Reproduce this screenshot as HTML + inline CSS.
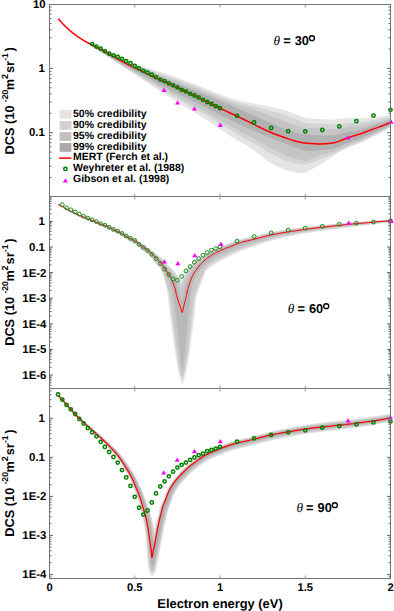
<!DOCTYPE html>
<html><head><meta charset="utf-8"><style>html,body{margin:0;padding:0;background:#fff;}svg{display:block;}text{text-rendering:geometricPrecision;}</style></head><body>
<svg width="394" height="611" viewBox="0 0 394 611">
<rect width="394" height="611" fill="#fff"/>
<defs>
<clipPath id="c1"><rect x="49.5" y="4.5" width="341.0" height="192.0"/></clipPath>
<clipPath id="c2"><rect x="49.5" y="196.5" width="341.0" height="192.0"/></clipPath>
<clipPath id="c3"><rect x="49.5" y="388.5" width="341.0" height="190.0"/></clipPath>
</defs>
<g clip-path="url(#c1)">
<polygon points="92.0,43.6 93.0,44.1 94.0,44.6 95.0,45.1 96.0,45.6 97.0,46.0 98.0,46.5 99.0,47.0 100.0,47.5 101.0,48.0 102.0,48.5 103.0,49.0 104.0,49.5 105.0,49.9 106.0,50.4 107.0,50.9 108.0,51.4 109.0,51.9 110.0,52.4 111.0,52.9 112.0,53.4 113.0,53.9 114.0,54.4 115.0,54.9 116.0,55.4 117.0,55.9 118.0,56.4 119.0,56.9 120.0,57.4 121.0,57.9 121.9,58.3 122.9,58.8 123.9,59.3 124.9,59.8 125.9,60.3 126.9,60.7 127.9,61.2 128.9,61.6 129.9,62.1 130.9,62.4 131.9,62.8 132.9,63.1 133.9,63.4 134.9,63.7 135.9,64.0 136.9,64.4 137.9,64.7 138.9,65.0 139.9,65.3 140.9,65.7 141.9,66.0 142.9,66.4 143.9,66.7 144.9,67.1 145.9,67.4 146.9,67.7 147.9,68.1 148.9,68.4 149.9,68.8 150.9,69.1 151.9,69.4 152.9,69.7 153.9,70.1 154.9,70.4 155.9,70.7 156.9,71.0 157.9,71.3 158.9,71.6 159.9,71.9 160.9,72.2 161.9,72.5 162.9,72.9 163.9,73.2 164.9,73.5 165.9,73.8 166.9,74.1 167.9,74.4 168.9,74.7 169.9,75.0 170.9,75.4 171.9,75.7 172.9,76.1 173.9,76.5 174.9,76.8 175.9,77.2 176.9,77.6 177.9,77.9 178.9,78.3 179.9,78.7 180.9,79.0 181.8,79.4 182.8,79.8 183.8,80.1 184.8,80.5 185.8,80.9 186.8,81.3 187.8,81.6 188.8,82.0 189.8,82.4 190.8,82.8 191.8,83.1 192.8,83.5 193.8,83.9 194.8,84.3 195.8,84.6 196.8,85.0 197.8,85.4 198.8,85.8 199.8,86.2 200.8,86.6 201.8,87.0 202.8,87.4 203.8,87.8 204.8,88.2 205.8,88.6 206.8,89.0 207.8,89.4 208.8,89.8 209.8,90.2 210.8,90.6 211.8,91.0 212.8,91.4 213.8,91.8 214.8,92.2 215.8,92.6 216.8,93.0 217.8,93.4 218.8,93.8 219.8,94.2 220.8,94.6 221.8,94.9 222.8,95.3 223.8,95.7 224.8,96.0 225.8,96.4 226.8,96.7 227.8,97.1 228.8,97.5 229.8,97.8 230.8,98.1 231.8,98.4 232.8,98.6 233.8,98.9 234.8,99.2 235.8,99.4 236.8,99.7 237.8,99.9 238.8,100.2 239.8,100.4 240.8,100.7 241.7,100.9 242.7,101.2 243.7,101.4 244.7,101.6 245.7,101.8 246.7,102.1 247.7,102.3 248.7,102.5 249.7,102.8 250.7,102.9 251.7,103.1 252.7,103.3 253.7,103.4 254.7,103.6 255.7,103.8 256.7,104.0 257.7,104.2 258.7,104.4 259.7,104.6 260.7,104.8 261.7,105.0 262.7,105.2 263.7,105.4 264.7,105.6 265.7,105.8 266.7,106.0 267.7,106.1 268.7,106.3 269.7,106.5 270.7,106.7 271.7,107.0 272.7,107.2 273.7,107.5 274.7,107.7 275.7,108.0 276.7,108.2 277.7,108.5 278.7,108.7 279.7,108.9 280.7,109.1 281.7,109.4 282.7,109.6 283.7,109.8 284.7,110.0 285.7,110.4 286.7,110.8 287.7,111.2 288.7,111.6 289.7,112.0 290.7,112.4 291.7,112.7 292.7,113.1 293.7,113.5 294.7,113.9 295.7,114.2 296.7,114.6 297.7,115.1 298.7,115.5 299.7,115.9 300.7,116.3 301.6,116.7 302.6,117.0 303.6,117.3 304.6,117.6 305.6,117.9 306.6,118.1 307.6,118.2 308.6,118.3 309.6,118.4 310.6,118.5 311.6,118.5 312.6,118.6 313.6,118.7 314.6,118.7 315.6,118.8 316.6,118.8 317.6,118.9 318.6,118.9 319.6,118.9 320.6,119.0 321.6,119.1 322.6,119.2 323.6,119.3 324.6,119.4 325.6,119.4 326.6,119.5 327.6,119.5 328.6,119.6 329.6,119.6 330.6,119.6 331.6,119.6 332.6,119.5 333.6,119.5 334.6,119.4 335.6,119.3 336.6,119.1 337.6,119.0 338.6,118.9 339.6,118.8 340.6,118.8 341.6,118.7 342.6,118.6 343.6,118.5 344.6,118.4 345.6,118.3 346.6,118.2 347.6,118.2 348.6,118.2 349.6,118.2 350.6,118.2 351.6,118.2 352.6,118.2 353.6,118.3 354.6,118.3 355.6,118.4 356.6,118.4 357.6,118.4 358.6,118.4 359.6,118.4 360.6,118.3 361.5,118.3 362.5,118.2 363.5,118.1 364.5,118.0 365.5,118.0 366.5,117.9 367.5,117.8 368.5,117.7 369.5,117.6 370.5,117.5 371.5,117.4 372.5,117.3 373.5,117.2 374.5,117.2 375.5,117.1 376.5,117.0 377.5,116.9 378.5,116.8 379.5,116.7 380.5,116.6 381.5,116.4 382.5,116.3 383.5,116.1 384.5,116.0 385.5,115.8 386.5,115.7 387.5,115.5 388.5,115.3 389.5,115.2 390.5,115.0 390.5,127.5 389.5,128.1 388.5,128.6 387.5,129.2 386.5,129.8 385.5,130.3 384.5,130.9 383.5,131.5 382.5,132.0 381.5,132.6 380.5,133.1 379.5,133.7 378.5,134.2 377.5,134.7 376.5,135.2 375.5,135.7 374.5,136.1 373.5,136.6 372.5,137.1 371.5,137.5 370.5,138.0 369.5,138.5 368.5,139.0 367.5,139.5 366.5,139.9 365.5,140.4 364.5,140.9 363.5,141.4 362.5,141.8 361.5,142.3 360.6,142.8 359.6,143.2 358.6,143.6 357.6,144.0 356.6,144.4 355.6,144.8 354.6,145.2 353.6,145.5 352.6,145.9 351.6,146.3 350.6,146.7 349.6,147.1 348.6,147.5 347.6,147.9 346.6,148.4 345.6,148.9 344.6,149.4 343.6,149.9 342.6,150.4 341.6,151.0 340.6,151.5 339.6,152.0 338.6,152.4 337.6,153.0 336.6,153.8 335.6,154.6 334.6,155.4 333.6,156.1 332.6,156.8 331.6,157.5 330.6,158.1 329.6,158.8 328.6,159.4 327.6,160.0 326.6,160.6 325.6,161.2 324.6,161.8 323.6,162.4 322.6,162.9 321.6,163.4 320.6,164.0 319.6,164.5 318.6,165.2 317.6,165.8 316.6,166.4 315.6,167.0 314.6,167.6 313.6,168.2 312.6,168.8 311.6,169.4 310.6,170.0 309.6,170.5 308.6,171.1 307.6,171.6 306.6,172.2 305.6,172.6 304.6,172.7 303.6,172.8 302.6,172.8 301.6,172.9 300.7,172.9 299.7,173.0 298.7,173.0 297.7,172.9 296.7,172.9 295.7,172.8 294.7,172.5 293.7,172.2 292.7,172.0 291.7,171.7 290.7,171.4 289.7,171.1 288.7,170.8 287.7,170.5 286.7,170.2 285.7,169.9 284.7,169.6 283.7,169.1 282.7,168.7 281.7,168.2 280.7,167.8 279.7,167.3 278.7,166.9 277.7,166.4 276.7,165.9 275.7,165.5 274.7,165.0 273.7,164.5 272.7,164.1 271.7,163.6 270.7,163.1 269.7,162.5 268.7,161.8 267.7,161.0 266.7,160.2 265.7,159.5 264.7,158.7 263.7,157.9 262.7,157.1 261.7,156.3 260.7,155.5 259.7,154.7 258.7,154.0 257.7,153.2 256.7,152.4 255.7,151.6 254.7,150.9 253.7,150.1 252.7,149.4 251.7,148.6 250.7,147.9 249.7,147.2 248.7,146.6 247.7,146.1 246.7,145.5 245.7,145.0 244.7,144.4 243.7,143.8 242.7,143.3 241.7,142.7 240.8,142.2 239.8,141.6 238.8,141.0 237.8,140.5 236.8,139.9 235.8,139.3 234.8,138.7 233.8,138.1 232.8,137.5 231.8,136.9 230.8,136.4 229.8,135.7 228.8,135.1 227.8,134.4 226.8,133.8 225.8,133.1 224.8,132.5 223.8,131.8 222.8,131.1 221.8,130.5 220.8,129.8 219.8,129.1 218.8,128.4 217.8,127.7 216.8,127.0 215.8,126.4 214.8,125.6 213.8,124.9 212.8,124.2 211.8,123.5 210.8,122.8 209.8,122.1 208.8,121.5 207.8,120.8 206.8,120.2 205.8,119.6 204.8,118.9 203.8,118.3 202.8,117.7 201.8,117.1 200.8,116.4 199.8,115.8 198.8,115.2 197.8,114.6 196.8,113.9 195.8,113.3 194.8,112.7 193.8,112.1 192.8,111.5 191.8,110.9 190.8,110.3 189.8,109.6 188.8,109.0 187.8,108.4 186.8,107.8 185.8,107.2 184.8,106.6 183.8,106.0 182.8,105.4 181.8,104.8 180.9,104.2 179.9,103.6 178.9,103.0 177.9,102.4 176.9,101.8 175.9,101.2 174.9,100.6 173.9,100.0 172.9,99.4 171.9,98.8 170.9,98.2 169.9,97.6 168.9,96.9 167.9,96.3 166.9,95.6 165.9,95.0 164.9,94.4 163.9,93.7 162.9,93.1 161.9,92.4 160.9,91.8 159.9,91.1 158.9,90.5 157.9,89.8 156.9,89.2 155.9,88.6 154.9,87.9 153.9,87.3 152.9,86.6 151.9,86.0 150.9,85.3 149.9,84.6 148.9,84.0 147.9,83.3 146.9,82.6 145.9,81.9 144.9,81.2 143.9,80.6 142.9,79.9 141.9,79.2 140.9,78.5 139.9,77.8 138.9,77.2 137.9,76.5 136.9,75.9 135.9,75.2 134.9,74.6 133.9,73.9 132.9,73.3 131.9,72.6 130.9,71.9 129.9,71.3 128.9,70.7 127.9,70.1 126.9,69.4 125.9,68.8 124.9,68.2 123.9,67.6 122.9,67.0 121.9,66.3 121.0,65.7 120.0,65.0 119.0,64.4 118.0,63.8 117.0,63.1 116.0,62.5 115.0,61.8 114.0,61.1 113.0,60.5 112.0,59.8 111.0,59.2 110.0,58.5 109.0,57.9 108.0,57.2 107.0,56.6 106.0,56.0 105.0,55.3 104.0,54.7 103.0,54.0 102.0,53.4 101.0,52.8 100.0,52.1 99.0,51.5 98.0,50.8 97.0,50.2 96.0,49.6 95.0,48.9 94.0,48.3 93.0,47.7 92.0,47.0" fill="#e5e5e5"/>
<polygon points="92.0,43.8 93.0,44.3 94.0,44.8 95.0,45.3 96.0,45.8 97.0,46.3 98.0,46.8 99.0,47.3 100.0,47.8 101.0,48.3 102.0,48.8 103.0,49.3 104.0,49.8 105.0,50.3 106.0,50.8 107.0,51.3 108.0,51.8 109.0,52.3 110.0,52.8 111.0,53.3 112.0,53.9 113.0,54.4 114.0,54.9 115.0,55.4 116.0,55.9 117.0,56.4 118.0,56.9 119.0,57.4 120.0,58.0 121.0,58.4 121.9,58.9 122.9,59.4 123.9,59.9 124.9,60.4 125.9,60.9 126.9,61.4 127.9,61.8 128.9,62.3 129.9,62.8 130.9,63.1 131.9,63.5 132.9,63.9 133.9,64.2 134.9,64.6 135.9,64.9 136.9,65.2 137.9,65.6 138.9,65.9 139.9,66.3 140.9,66.7 141.9,67.0 142.9,67.4 143.9,67.8 144.9,68.2 145.9,68.5 146.9,68.9 147.9,69.3 148.9,69.7 149.9,70.0 150.9,70.4 151.9,70.7 152.9,71.1 153.9,71.4 154.9,71.8 155.9,72.1 156.9,72.4 157.9,72.8 158.9,73.1 159.9,73.4 160.9,73.8 161.9,74.1 162.9,74.5 163.9,74.8 164.9,75.1 165.9,75.5 166.9,75.8 167.9,76.1 168.9,76.5 169.9,76.8 170.9,77.2 171.9,77.6 172.9,77.9 173.9,78.3 174.9,78.7 175.9,79.0 176.9,79.4 177.9,79.8 178.9,80.1 179.9,80.5 180.9,80.9 181.8,81.3 182.8,81.6 183.8,82.0 184.8,82.4 185.8,82.8 186.8,83.1 187.8,83.5 188.8,83.9 189.8,84.3 190.8,84.7 191.8,85.0 192.8,85.4 193.8,85.8 194.8,86.2 195.8,86.6 196.8,87.0 197.8,87.4 198.8,87.7 199.8,88.1 200.8,88.5 201.8,88.9 202.8,89.3 203.8,89.7 204.8,90.1 205.8,90.5 206.8,90.9 207.8,91.3 208.8,91.8 209.8,92.2 210.8,92.6 211.8,93.0 212.8,93.4 213.8,93.8 214.8,94.2 215.8,94.6 216.8,95.0 217.8,95.4 218.8,95.8 219.8,96.2 220.8,96.6 221.8,96.9 222.8,97.3 223.8,97.7 224.8,98.0 225.8,98.4 226.8,98.7 227.8,99.1 228.8,99.5 229.8,99.8 230.8,100.1 231.8,100.4 232.8,100.7 233.8,101.0 234.8,101.3 235.8,101.6 236.8,101.9 237.8,102.1 238.8,102.4 239.8,102.7 240.8,102.9 241.7,103.2 242.7,103.5 243.7,103.7 244.7,104.0 245.7,104.2 246.7,104.5 247.7,104.7 248.7,105.0 249.7,105.3 250.7,105.5 251.7,105.7 252.7,106.0 253.7,106.2 254.7,106.5 255.7,106.8 256.7,107.0 257.7,107.3 258.7,107.6 259.7,107.8 260.7,108.1 261.7,108.4 262.7,108.7 263.7,109.0 264.7,109.2 265.7,109.5 266.7,109.8 267.7,110.1 268.7,110.3 269.7,110.6 270.7,110.9 271.7,111.2 272.7,111.4 273.7,111.7 274.7,112.0 275.7,112.3 276.7,112.5 277.7,112.8 278.7,113.1 279.7,113.3 280.7,113.6 281.7,113.9 282.7,114.1 283.7,114.4 284.7,114.6 285.7,115.0 286.7,115.4 287.7,115.9 288.7,116.3 289.7,116.7 290.7,117.2 291.7,117.6 292.7,118.0 293.7,118.4 294.7,118.8 295.7,119.2 296.7,119.7 297.7,120.1 298.7,120.6 299.7,121.0 300.7,121.4 301.6,121.8 302.6,122.1 303.6,122.5 304.6,122.8 305.6,123.1 306.6,123.3 307.6,123.3 308.6,123.4 309.6,123.4 310.6,123.5 311.6,123.5 312.6,123.5 313.6,123.5 314.6,123.6 315.6,123.6 316.6,123.6 317.6,123.6 318.6,123.5 319.6,123.5 320.6,123.6 321.6,123.7 322.6,123.9 323.6,124.0 324.6,124.1 325.6,124.2 326.6,124.2 327.6,124.3 328.6,124.4 329.6,124.4 330.6,124.4 331.6,124.4 332.6,124.4 333.6,124.4 334.6,124.3 335.6,124.2 336.6,124.1 337.6,124.0 338.6,123.9 339.6,123.8 340.6,123.7 341.6,123.6 342.6,123.5 343.6,123.4 344.6,123.3 345.6,123.2 346.6,123.1 347.6,123.0 348.6,123.0 349.6,123.0 350.6,123.0 351.6,123.0 352.6,123.0 353.6,123.0 354.6,123.1 355.6,123.1 356.6,123.1 357.6,123.1 358.6,122.9 359.6,122.8 360.6,122.6 361.5,122.5 362.5,122.3 363.5,122.1 364.5,121.9 365.5,121.7 366.5,121.5 367.5,121.2 368.5,121.0 369.5,120.8 370.5,120.6 371.5,120.4 372.5,120.2 373.5,120.0 374.5,119.8 375.5,119.7 376.5,119.5 377.5,119.4 378.5,119.2 379.5,119.1 380.5,118.9 381.5,118.7 382.5,118.6 383.5,118.4 384.5,118.2 385.5,118.0 386.5,117.8 387.5,117.6 388.5,117.4 389.5,117.2 390.5,117.0 390.5,126.8 389.5,127.4 388.5,127.9 387.5,128.5 386.5,129.0 385.5,129.6 384.5,130.1 383.5,130.7 382.5,131.2 381.5,131.8 380.5,132.3 379.5,132.8 378.5,133.3 377.5,133.8 376.5,134.3 375.5,134.8 374.5,135.2 373.5,135.7 372.5,136.1 371.5,136.6 370.5,137.0 369.5,137.5 368.5,138.0 367.5,138.5 366.5,138.9 365.5,139.4 364.5,139.9 363.5,140.3 362.5,140.8 361.5,141.3 360.6,141.7 359.6,142.1 358.6,142.5 357.6,142.9 356.6,143.3 355.6,143.7 354.6,144.0 353.6,144.4 352.6,144.8 351.6,145.1 350.6,145.5 349.6,145.9 348.6,146.3 347.6,146.7 346.6,147.2 345.6,147.7 344.6,148.2 343.6,148.7 342.6,149.2 341.6,149.7 340.6,150.2 339.6,150.7 338.6,151.1 337.6,151.6 336.6,152.3 335.6,152.8 334.6,153.4 333.6,153.9 332.6,154.4 331.6,154.9 330.6,155.3 329.6,155.8 328.6,156.2 327.6,156.6 326.6,157.0 325.6,157.4 324.6,157.8 323.6,158.1 322.6,158.5 321.6,158.8 320.6,159.1 319.6,159.4 318.6,159.9 317.6,160.3 316.6,160.7 315.6,161.1 314.6,161.4 313.6,161.8 312.6,162.2 311.6,162.5 310.6,162.9 309.6,163.2 308.6,163.6 307.6,163.9 306.6,164.2 305.6,164.4 304.6,164.4 303.6,164.3 302.6,164.3 301.6,164.2 300.7,164.1 299.7,164.0 298.7,163.8 297.7,163.7 296.7,163.5 295.7,163.3 294.7,163.0 293.7,162.8 292.7,162.6 291.7,162.3 290.7,162.0 289.7,161.8 288.7,161.5 287.7,161.2 286.7,161.0 285.7,160.7 284.7,160.4 283.7,159.9 282.7,159.4 281.7,158.9 280.7,158.5 279.7,158.0 278.7,157.5 277.7,157.0 276.7,156.5 275.7,156.0 274.7,155.5 273.7,155.0 272.7,154.5 271.7,154.0 270.7,153.5 269.7,153.0 268.7,152.4 267.7,151.8 266.7,151.2 265.7,150.6 264.7,150.0 263.7,149.4 262.7,148.8 261.7,148.2 260.7,147.6 259.7,147.0 258.7,146.4 257.7,145.8 256.7,145.2 255.7,144.6 254.7,144.0 253.7,143.4 252.7,142.9 251.7,142.3 250.7,141.7 249.7,141.2 248.7,140.6 247.7,140.1 246.7,139.5 245.7,139.0 244.7,138.4 243.7,137.8 242.7,137.3 241.7,136.7 240.8,136.2 239.8,135.6 238.8,135.0 237.8,134.5 236.8,133.9 235.8,133.3 234.8,132.7 233.8,132.1 232.8,131.5 231.8,130.9 230.8,130.4 229.8,129.8 228.8,129.2 227.8,128.5 226.8,127.9 225.8,127.3 224.8,126.7 223.8,126.1 222.8,125.5 221.8,124.9 220.8,124.3 219.8,123.6 218.8,123.0 217.8,122.4 216.8,121.7 215.8,121.1 214.8,120.4 213.8,119.7 212.8,119.1 211.8,118.4 210.8,117.8 209.8,117.1 208.8,116.5 207.8,116.0 206.8,115.4 205.8,114.8 204.8,114.2 203.8,113.7 202.8,113.1 201.8,112.5 200.8,111.9 199.8,111.4 198.8,110.8 197.8,110.2 196.8,109.7 195.8,109.1 194.8,108.5 193.8,108.0 192.8,107.4 191.8,106.9 190.8,106.3 189.8,105.8 188.8,105.2 187.8,104.6 186.8,104.1 185.8,103.5 184.8,103.0 183.8,102.4 182.8,101.9 181.8,101.3 180.9,100.8 179.9,100.2 178.9,99.7 177.9,99.2 176.9,98.6 175.9,98.1 174.9,97.5 173.9,97.0 172.9,96.4 171.9,95.9 170.9,95.3 169.9,94.8 168.9,94.2 167.9,93.6 166.9,93.0 165.9,92.4 164.9,91.8 163.9,91.2 162.9,90.6 161.9,90.0 160.9,89.4 159.9,88.8 158.9,88.2 157.9,87.6 156.9,87.0 155.9,86.4 154.9,85.8 153.9,85.2 152.9,84.6 151.9,84.0 150.9,83.4 149.9,82.8 148.9,82.2 147.9,81.5 146.9,80.9 145.9,80.3 144.9,79.6 143.9,79.0 142.9,78.4 141.9,77.7 140.9,77.1 139.9,76.5 138.9,75.9 137.9,75.3 136.9,74.6 135.9,74.0 134.9,73.4 133.9,72.8 132.9,72.2 131.9,71.6 130.9,71.0 129.9,70.4 128.9,69.8 127.9,69.2 126.9,68.6 125.9,68.0 124.9,67.4 123.9,66.7 122.9,66.1 121.9,65.5 121.0,64.9 120.0,64.2 119.0,63.6 118.0,63.0 117.0,62.3 116.0,61.7 115.0,61.0 114.0,60.4 113.0,59.7 112.0,59.1 111.0,58.4 110.0,57.8 109.0,57.2 108.0,56.5 107.0,55.9 106.0,55.3 105.0,54.6 104.0,54.0 103.0,53.4 102.0,52.7 101.0,52.1 100.0,51.5 99.0,50.8 98.0,50.2 97.0,49.6 96.0,48.9 95.0,48.3 94.0,47.7 93.0,47.0 92.0,46.4" fill="#d4d4d4"/>
<polygon points="92.0,44.0 93.0,44.5 94.0,45.0 95.0,45.5 96.0,46.1 97.0,46.6 98.0,47.1 99.0,47.6 100.0,48.1 101.0,48.6 102.0,49.1 103.0,49.6 104.0,50.1 105.0,50.7 106.0,51.2 107.0,51.7 108.0,52.2 109.0,52.7 110.0,53.2 111.0,53.7 112.0,54.3 113.0,54.8 114.0,55.3 115.0,55.8 116.0,56.4 117.0,56.9 118.0,57.4 119.0,57.9 120.0,58.4 121.0,59.0 121.9,59.5 122.9,60.0 123.9,60.5 124.9,61.0 125.9,61.5 126.9,61.9 127.9,62.4 128.9,62.9 129.9,63.4 130.9,63.8 131.9,64.2 132.9,64.6 133.9,65.0 134.9,65.3 135.9,65.7 136.9,66.1 137.9,66.5 138.9,66.9 139.9,67.2 140.9,67.6 141.9,68.0 142.9,68.5 143.9,68.9 144.9,69.3 145.9,69.7 146.9,70.1 147.9,70.5 148.9,70.9 149.9,71.3 150.9,71.7 151.9,72.1 152.9,72.5 153.9,72.8 154.9,73.2 155.9,73.6 156.9,74.0 157.9,74.3 158.9,74.7 159.9,75.1 160.9,75.5 161.9,75.8 162.9,76.2 163.9,76.6 164.9,77.0 165.9,77.3 166.9,77.7 167.9,78.1 168.9,78.4 169.9,78.8 170.9,79.2 171.9,79.6 172.9,79.9 173.9,80.3 174.9,80.7 175.9,81.0 176.9,81.4 177.9,81.8 178.9,82.1 179.9,82.5 180.9,82.9 181.8,83.3 182.8,83.6 183.8,84.0 184.8,84.4 185.8,84.8 186.8,85.1 187.8,85.5 188.8,85.9 189.8,86.3 190.8,86.7 191.8,87.0 192.8,87.4 193.8,87.8 194.8,88.2 195.8,88.6 196.8,89.0 197.8,89.4 198.8,89.7 199.8,90.1 200.8,90.5 201.8,90.9 202.8,91.3 203.8,91.7 204.8,92.1 205.8,92.5 206.8,92.9 207.8,93.3 208.8,93.8 209.8,94.2 210.8,94.6 211.8,95.0 212.8,95.5 213.8,95.9 214.8,96.3 215.8,96.8 216.8,97.2 217.8,97.6 218.8,98.0 219.8,98.4 220.8,98.8 221.8,99.2 222.8,99.6 223.8,100.0 224.8,100.4 225.8,100.8 226.8,101.2 227.8,101.5 228.8,101.9 229.8,102.3 230.8,102.6 231.8,103.0 232.8,103.3 233.8,103.6 234.8,103.9 235.8,104.2 236.8,104.5 237.8,104.8 238.8,105.1 239.8,105.4 240.8,105.7 241.7,106.0 242.7,106.3 243.7,106.6 244.7,106.8 245.7,107.1 246.7,107.4 247.7,107.7 248.7,108.0 249.7,108.3 250.7,108.6 251.7,108.9 252.7,109.3 253.7,109.6 254.7,110.0 255.7,110.3 256.7,110.7 257.7,111.1 258.7,111.4 259.7,111.8 260.7,112.2 261.7,112.6 262.7,113.0 263.7,113.3 264.7,113.7 265.7,114.1 266.7,114.5 267.7,114.8 268.7,115.2 269.7,115.6 270.7,115.9 271.7,116.3 272.7,116.7 273.7,117.1 274.7,117.5 275.7,117.9 276.7,118.3 277.7,118.6 278.7,119.0 279.7,119.4 280.7,119.7 281.7,120.1 282.7,120.5 283.7,120.8 284.7,121.2 285.7,121.6 286.7,121.9 287.7,122.3 288.7,122.7 289.7,123.1 290.7,123.5 291.7,123.8 292.7,124.2 293.7,124.6 294.7,124.9 295.7,125.2 296.7,125.6 297.7,125.9 298.7,126.2 299.7,126.5 300.7,126.7 301.6,127.0 302.6,127.2 303.6,127.4 304.6,127.6 305.6,127.8 306.6,127.9 307.6,127.9 308.6,128.0 309.6,128.0 310.6,128.1 311.6,128.1 312.6,128.1 313.6,128.1 314.6,128.2 315.6,128.2 316.6,128.2 317.6,128.2 318.6,128.1 319.6,128.1 320.6,128.2 321.6,128.4 322.6,128.5 323.6,128.7 324.6,128.8 325.6,128.9 326.6,129.0 327.6,129.1 328.6,129.2 329.6,129.2 330.6,129.2 331.6,129.3 332.6,129.3 333.6,129.3 334.6,129.2 335.6,129.2 336.6,129.1 337.6,129.0 338.6,128.8 339.6,128.6 340.6,128.4 341.6,128.2 342.6,128.0 343.6,127.8 344.6,127.6 345.6,127.4 346.6,127.2 347.6,127.0 348.6,126.9 349.6,126.8 350.6,126.7 351.6,126.6 352.6,126.5 353.6,126.4 354.6,126.3 355.6,126.2 356.6,126.2 357.6,126.0 358.6,125.9 359.6,125.7 360.6,125.5 361.5,125.3 362.5,125.1 363.5,124.9 364.5,124.7 365.5,124.4 366.5,124.2 367.5,124.0 368.5,123.7 369.5,123.5 370.5,123.2 371.5,123.0 372.5,122.8 373.5,122.6 374.5,122.4 375.5,122.2 376.5,122.0 377.5,121.8 378.5,121.6 379.5,121.3 380.5,121.1 381.5,120.9 382.5,120.6 383.5,120.4 384.5,120.1 385.5,119.8 386.5,119.6 387.5,119.3 388.5,119.0 389.5,118.8 390.5,118.5 390.5,126.0 389.5,126.5 388.5,127.1 387.5,127.6 386.5,128.2 385.5,128.7 384.5,129.3 383.5,129.8 382.5,130.3 381.5,130.8 380.5,131.4 379.5,131.9 378.5,132.4 377.5,132.8 376.5,133.3 375.5,133.8 374.5,134.2 373.5,134.6 372.5,135.1 371.5,135.5 370.5,136.0 369.5,136.4 368.5,136.9 367.5,137.4 366.5,137.8 365.5,138.3 364.5,138.8 363.5,139.2 362.5,139.7 361.5,140.1 360.6,140.5 359.6,140.9 358.6,141.3 357.6,141.7 356.6,142.1 355.6,142.4 354.6,142.8 353.6,143.1 352.6,143.5 351.6,143.9 350.6,144.2 349.6,144.6 348.6,145.0 347.6,145.4 346.6,145.8 345.6,146.3 344.6,146.8 343.6,147.3 342.6,147.8 341.6,148.2 340.6,148.7 339.6,149.2 338.6,149.6 337.6,150.1 336.6,150.5 335.6,150.9 334.6,151.3 333.6,151.7 332.6,152.0 331.6,152.3 330.6,152.6 329.6,152.9 328.6,153.2 327.6,153.4 326.6,153.7 325.6,153.9 324.6,154.1 323.6,154.3 322.6,154.5 321.6,154.6 320.6,154.8 319.6,155.1 318.6,155.6 317.6,156.0 316.6,156.5 315.6,157.0 314.6,157.4 313.6,157.9 312.6,158.3 311.6,158.7 310.6,159.2 309.6,159.6 308.6,160.0 307.6,160.4 306.6,160.8 305.6,161.0 304.6,160.8 303.6,160.7 302.6,160.5 301.6,160.3 300.7,160.1 299.7,159.9 298.7,159.6 297.7,159.3 296.7,159.0 295.7,158.8 294.7,158.5 293.7,158.2 292.7,157.8 291.7,157.5 290.7,157.2 289.7,156.9 288.7,156.5 287.7,156.2 286.7,155.9 285.7,155.5 284.7,155.1 283.7,154.7 282.7,154.2 281.7,153.7 280.7,153.2 279.7,152.7 278.7,152.2 277.7,151.7 276.7,151.2 275.7,150.6 274.7,150.1 273.7,149.6 272.7,149.1 271.7,148.6 270.7,148.0 269.7,147.5 268.7,147.0 267.7,146.4 266.7,145.9 265.7,145.3 264.7,144.8 263.7,144.2 262.7,143.7 261.7,143.1 260.7,142.6 259.7,142.0 258.7,141.5 257.7,140.9 256.7,140.4 255.7,139.8 254.7,139.3 253.7,138.8 252.7,138.2 251.7,137.7 250.7,137.2 249.7,136.7 248.7,136.2 247.7,135.6 246.7,135.1 245.7,134.6 244.7,134.0 243.7,133.5 242.7,133.0 241.7,132.4 240.8,131.9 239.8,131.4 238.8,130.8 237.8,130.3 236.8,129.7 235.8,129.2 234.8,128.6 233.8,128.0 232.8,127.5 231.8,126.9 230.8,126.3 229.8,125.8 228.8,125.2 227.8,124.7 226.8,124.1 225.8,123.5 224.8,123.0 223.8,122.4 222.8,121.9 221.8,121.3 220.8,120.7 219.8,120.1 218.8,119.6 217.8,119.0 216.8,118.4 215.8,117.8 214.8,117.2 213.8,116.6 212.8,116.0 211.8,115.3 210.8,114.7 209.8,114.1 208.8,113.6 207.8,113.0 206.8,112.4 205.8,111.9 204.8,111.3 203.8,110.7 202.8,110.2 201.8,109.6 200.8,109.0 199.8,108.5 198.8,107.9 197.8,107.4 196.8,106.8 195.8,106.3 194.8,105.7 193.8,105.2 192.8,104.6 191.8,104.1 190.8,103.5 189.8,103.0 188.8,102.5 187.8,101.9 186.8,101.4 185.8,100.8 184.8,100.3 183.8,99.8 182.8,99.2 181.8,98.7 180.9,98.2 179.9,97.6 178.9,97.1 177.9,96.6 176.9,96.0 175.9,95.5 174.9,95.0 173.9,94.4 172.9,93.9 171.9,93.4 170.9,92.8 169.9,92.3 168.9,91.7 167.9,91.2 166.9,90.6 165.9,90.1 164.9,89.5 163.9,88.9 162.9,88.4 161.9,87.8 160.9,87.3 159.9,86.7 158.9,86.1 157.9,85.6 156.9,85.0 155.9,84.5 154.9,83.9 153.9,83.3 152.9,82.8 151.9,82.2 150.9,81.6 149.9,81.0 148.9,80.5 147.9,79.9 146.9,79.3 145.9,78.7 144.9,78.1 143.9,77.5 142.9,76.9 141.9,76.3 140.9,75.7 139.9,75.1 138.9,74.5 137.9,74.0 136.9,73.4 135.9,72.8 134.9,72.3 133.9,71.7 132.9,71.1 131.9,70.5 130.9,70.0 129.9,69.4 128.9,68.8 127.9,68.2 126.9,67.6 125.9,67.0 124.9,66.4 123.9,65.8 122.9,65.2 121.9,64.6 121.0,64.0 120.0,63.4 119.0,62.8 118.0,62.1 117.0,61.5 116.0,60.9 115.0,60.3 114.0,59.6 113.0,59.0 112.0,58.4 111.0,57.7 110.0,57.1 109.0,56.5 108.0,55.9 107.0,55.3 106.0,54.6 105.0,54.0 104.0,53.4 103.0,52.8 102.0,52.2 101.0,51.6 100.0,50.9 99.0,50.3 98.0,49.7 97.0,49.1 96.0,48.5 95.0,47.9 94.0,47.2 93.0,46.6 92.0,46.0" fill="#c5c5c5"/>
<polygon points="92.0,44.3 93.0,44.8 94.0,45.4 95.0,45.9 96.0,46.4 97.0,46.9 98.0,47.5 99.0,48.0 100.0,48.5 101.0,49.1 102.0,49.6 103.0,50.1 104.0,50.6 105.0,51.2 106.0,51.7 107.0,52.2 108.0,52.7 109.0,53.3 110.0,53.8 111.0,54.3 112.0,54.9 113.0,55.4 114.0,56.0 115.0,56.5 116.0,57.0 117.0,57.6 118.0,58.1 119.0,58.7 120.0,59.2 121.0,59.7 121.9,60.2 122.9,60.8 123.9,61.3 124.9,61.8 125.9,62.3 126.9,62.8 127.9,63.3 128.9,63.8 129.9,64.3 130.9,64.7 131.9,65.1 132.9,65.6 133.9,66.0 134.9,66.4 135.9,66.8 136.9,67.2 137.9,67.6 138.9,68.0 139.9,68.4 140.9,68.9 141.9,69.3 142.9,69.7 143.9,70.2 144.9,70.6 145.9,71.1 146.9,71.5 147.9,71.9 148.9,72.4 149.9,72.8 150.9,73.2 151.9,73.6 152.9,74.1 153.9,74.5 154.9,74.9 155.9,75.3 156.9,75.7 157.9,76.1 158.9,76.5 159.9,76.9 160.9,77.3 161.9,77.7 162.9,78.1 163.9,78.5 164.9,78.9 165.9,79.3 166.9,79.7 167.9,80.1 168.9,80.5 169.9,80.9 170.9,81.3 171.9,81.7 172.9,82.1 173.9,82.4 174.9,82.8 175.9,83.2 176.9,83.6 177.9,84.0 178.9,84.3 179.9,84.7 180.9,85.1 181.8,85.5 182.8,85.9 183.8,86.3 184.8,86.6 185.8,87.0 186.8,87.4 187.8,87.8 188.8,88.2 189.8,88.6 190.8,89.0 191.8,89.4 192.8,89.7 193.8,90.1 194.8,90.5 195.8,90.9 196.8,91.3 197.8,91.7 198.8,92.1 199.8,92.5 200.8,92.9 201.8,93.4 202.8,93.8 203.8,94.2 204.8,94.6 205.8,95.0 206.8,95.4 207.8,95.8 208.8,96.2 209.8,96.7 210.8,97.1 211.8,97.5 212.8,98.0 213.8,98.4 214.8,98.8 215.8,99.3 216.8,99.7 217.8,100.1 218.8,100.5 219.8,100.9 220.8,101.3 221.8,101.7 222.8,102.1 223.8,102.5 224.8,102.9 225.8,103.3 226.8,103.7 227.8,104.0 228.8,104.4 229.8,104.8 230.8,105.3 231.8,105.7 232.8,106.2 233.8,106.7 234.8,107.1 235.8,107.6 236.8,108.1 237.8,108.5 238.8,108.9 239.8,109.4 240.8,109.8 241.7,110.3 242.7,110.7 243.7,111.1 244.7,111.6 245.7,112.0 246.7,112.4 247.7,112.8 248.7,113.3 249.7,113.7 250.7,114.1 251.7,114.6 252.7,115.0 253.7,115.4 254.7,115.8 255.7,116.3 256.7,116.7 257.7,117.2 258.7,117.6 259.7,118.1 260.7,118.5 261.7,119.0 262.7,119.5 263.7,119.9 264.7,120.4 265.7,120.8 266.7,121.3 267.7,121.8 268.7,122.2 269.7,122.6 270.7,123.1 271.7,123.5 272.7,123.9 273.7,124.4 274.7,124.8 275.7,125.2 276.7,125.6 277.7,126.0 278.7,126.5 279.7,126.9 280.7,127.3 281.7,127.7 282.7,128.1 283.7,128.5 284.7,128.9 285.7,129.3 286.7,129.6 287.7,130.0 288.7,130.3 289.7,130.7 290.7,131.1 291.7,131.4 292.7,131.8 293.7,132.1 294.7,132.4 295.7,132.7 296.7,133.0 297.7,133.3 298.7,133.5 299.7,133.7 300.7,133.9 301.6,134.1 302.6,134.2 303.6,134.4 304.6,134.5 305.6,134.6 306.6,134.7 307.6,134.8 308.6,134.9 309.6,134.9 310.6,135.0 311.6,135.1 312.6,135.1 313.6,135.2 314.6,135.2 315.6,135.2 316.6,135.3 317.6,135.3 318.6,135.3 319.6,135.3 320.6,135.3 321.6,135.4 322.6,135.5 323.6,135.5 324.6,135.5 325.6,135.6 326.6,135.6 327.6,135.6 328.6,135.5 329.6,135.5 330.6,135.4 331.6,135.4 332.6,135.3 333.6,135.2 334.6,135.0 335.6,134.9 336.6,134.7 337.6,134.5 338.6,134.3 339.6,134.0 340.6,133.8 341.6,133.5 342.6,133.2 343.6,133.0 344.6,132.7 345.6,132.4 346.6,132.2 347.6,132.0 348.6,131.8 349.6,131.6 350.6,131.4 351.6,131.3 352.6,131.1 353.6,131.0 354.6,130.9 355.6,130.7 356.6,130.6 357.6,130.4 358.6,130.1 359.6,129.9 360.6,129.6 361.5,129.3 362.5,129.0 363.5,128.6 364.5,128.3 365.5,128.0 366.5,127.6 367.5,127.3 368.5,127.0 369.5,126.6 370.5,126.3 371.5,126.0 372.5,125.6 373.5,125.3 374.5,125.0 375.5,124.7 376.5,124.4 377.5,124.2 378.5,123.9 379.5,123.6 380.5,123.3 381.5,123.0 382.5,122.7 383.5,122.3 384.5,122.0 385.5,121.7 386.5,121.3 387.5,121.0 388.5,120.7 389.5,120.3 390.5,120.0 390.5,125.0 389.5,125.5 388.5,125.9 387.5,126.4 386.5,126.9 385.5,127.4 384.5,127.8 383.5,128.3 382.5,128.8 381.5,129.2 380.5,129.7 379.5,130.1 378.5,130.5 377.5,131.0 376.5,131.4 375.5,131.8 374.5,132.2 373.5,132.6 372.5,133.0 371.5,133.5 370.5,133.9 369.5,134.4 368.5,134.8 367.5,135.3 366.5,135.7 365.5,136.2 364.5,136.6 363.5,137.1 362.5,137.5 361.5,138.0 360.6,138.4 359.6,138.8 358.6,139.1 357.6,139.5 356.6,139.9 355.6,140.2 354.6,140.5 353.6,140.8 352.6,141.1 351.6,141.4 350.6,141.7 349.6,142.1 348.6,142.4 347.6,142.8 346.6,143.2 345.6,143.6 344.6,144.1 343.6,144.5 342.6,145.0 341.6,145.4 340.6,145.8 339.6,146.3 338.6,146.7 337.6,147.0 336.6,147.4 335.6,147.7 334.6,148.0 333.6,148.3 332.6,148.6 331.6,148.8 330.6,149.0 329.6,149.2 328.6,149.4 327.6,149.6 326.6,149.7 325.6,149.9 324.6,150.0 323.6,150.1 322.6,150.2 321.6,150.3 320.6,150.3 319.6,150.4 318.6,150.5 317.6,150.6 316.6,150.6 315.6,150.7 314.6,150.7 313.6,150.7 312.6,150.7 311.6,150.8 310.6,150.8 309.6,150.8 308.6,150.8 307.6,150.8 306.6,150.7 305.6,150.7 304.6,150.4 303.6,150.2 302.6,150.0 301.6,149.7 300.7,149.4 299.7,149.1 298.7,148.8 297.7,148.5 296.7,148.1 295.7,147.7 294.7,147.4 293.7,147.0 292.7,146.6 291.7,146.2 290.7,145.8 289.7,145.4 288.7,145.0 287.7,144.6 286.7,144.2 285.7,143.8 284.7,143.4 283.7,143.0 282.7,142.7 281.7,142.3 280.7,141.9 279.7,141.5 278.7,141.2 277.7,140.8 276.7,140.4 275.7,140.0 274.7,139.6 273.7,139.2 272.7,138.8 271.7,138.4 270.7,138.1 269.7,137.6 268.7,137.2 267.7,136.8 266.7,136.4 265.7,136.0 264.7,135.5 263.7,135.1 262.7,134.7 261.7,134.2 260.7,133.8 259.7,133.3 258.7,132.9 257.7,132.5 256.7,132.1 255.7,131.6 254.7,131.2 253.7,130.8 252.7,130.4 251.7,130.0 250.7,129.6 249.7,129.2 248.7,128.7 247.7,128.3 246.7,127.8 245.7,127.4 244.7,126.9 243.7,126.5 242.7,126.0 241.7,125.6 240.8,125.1 239.8,124.6 238.8,124.2 237.8,123.7 236.8,123.2 235.8,122.7 234.8,122.2 233.8,121.8 232.8,121.3 231.8,120.8 230.8,120.3 229.8,119.8 228.8,119.3 227.8,118.8 226.8,118.3 225.8,117.9 224.8,117.4 223.8,116.9 222.8,116.4 221.8,115.9 220.8,115.4 219.8,114.9 218.8,114.4 217.8,113.9 216.8,113.4 215.8,112.8 214.8,112.3 213.8,111.8 212.8,111.2 211.8,110.7 210.8,110.2 209.8,109.6 208.8,109.1 207.8,108.6 206.8,108.1 205.8,107.6 204.8,107.0 203.8,106.5 202.8,106.0 201.8,105.5 200.8,105.0 199.8,104.5 198.8,104.0 197.8,103.5 196.8,102.9 195.8,102.4 194.8,101.9 193.8,101.4 192.8,100.9 191.8,100.4 190.8,100.0 189.8,99.5 188.8,99.0 187.8,98.5 186.8,98.0 185.8,97.5 184.8,97.0 183.8,96.5 182.8,96.0 181.8,95.5 180.9,95.0 179.9,94.6 178.9,94.1 177.9,93.6 176.9,93.1 175.9,92.6 174.9,92.1 173.9,91.6 172.9,91.2 171.9,90.7 170.9,90.2 169.9,89.7 168.9,89.2 167.9,88.6 166.9,88.1 165.9,87.6 164.9,87.1 163.9,86.5 162.9,86.0 161.9,85.5 160.9,85.0 159.9,84.4 158.9,83.9 157.9,83.4 156.9,82.8 155.9,82.3 154.9,81.8 153.9,81.3 152.9,80.7 151.9,80.2 150.9,79.6 149.9,79.1 148.9,78.5 147.9,78.0 146.9,77.4 145.9,76.9 144.9,76.3 143.9,75.7 142.9,75.2 141.9,74.6 140.9,74.0 139.9,73.5 138.9,72.9 137.9,72.4 136.9,71.9 135.9,71.3 134.9,70.8 133.9,70.3 132.9,69.7 131.9,69.2 130.9,68.6 129.9,68.1 128.9,67.5 127.9,66.9 126.9,66.4 125.9,65.8 124.9,65.2 123.9,64.6 122.9,64.0 121.9,63.5 121.0,62.9 120.0,62.3 119.0,61.7 118.0,61.1 117.0,60.5 116.0,59.9 115.0,59.2 114.0,58.6 113.0,58.0 112.0,57.4 111.0,56.8 110.0,56.2 109.0,55.6 108.0,55.0 107.0,54.4 106.0,53.8 105.0,53.2 104.0,52.6 103.0,52.0 102.0,51.4 101.0,50.8 100.0,50.2 99.0,49.6 98.0,49.0 97.0,48.4 96.0,47.8 95.0,47.2 94.0,46.6 93.0,46.0 92.0,45.4" fill="#b1b1b1"/>
</g>
<g clip-path="url(#c2)">
<polygon points="57.6,204.0 58.1,203.6 58.6,203.8 59.1,204.0 59.6,204.3 60.1,204.5 60.6,204.7 61.1,205.0 61.6,205.2 62.1,205.4 62.6,205.7 63.1,206.0 63.6,206.2 64.1,206.6 64.6,206.8 65.1,207.1 65.6,207.4 66.1,207.7 66.6,208.0 67.1,208.3 67.6,208.6 68.1,208.8 68.6,209.1 69.1,209.3 69.6,209.6 70.1,209.8 70.6,210.1 71.1,210.4 71.6,210.6 72.1,210.9 72.6,211.1 73.1,211.4 73.6,211.6 74.1,211.9 74.6,212.1 75.1,212.3 75.6,212.6 76.1,212.8 76.6,213.1 77.1,213.3 77.6,213.6 78.1,213.8 78.6,214.0 79.1,214.2 79.6,214.4 80.1,214.6 80.6,214.8 81.1,215.0 81.6,215.2 82.1,215.3 82.6,215.5 83.1,215.7 83.6,215.9 84.1,216.1 84.6,216.3 85.1,216.5 85.6,216.7 86.1,216.9 86.6,217.1 87.1,217.3 87.6,217.5 88.1,217.7 88.6,217.9 89.1,218.1 89.6,218.3 90.1,218.4 90.6,218.6 91.1,218.8 91.6,219.0 92.1,219.2 92.6,219.4 93.1,219.6 93.6,219.7 94.1,220.0 94.6,220.1 95.1,220.4 95.6,220.5 96.1,220.8 96.6,221.0 97.1,221.2 97.6,221.4 98.1,221.6 98.6,221.8 99.1,222.1 99.6,222.3 100.1,222.5 100.6,222.7 101.1,222.9 101.6,223.1 102.1,223.2 102.6,223.4 103.1,223.5 103.6,223.7 104.1,223.8 104.6,224.0 105.1,224.2 105.6,224.3 106.1,224.5 106.6,224.8 107.1,225.0 107.6,225.2 108.1,225.5 108.6,225.8 109.1,226.1 109.6,226.3 110.1,226.6 110.6,226.8 111.1,227.1 111.6,227.3 112.1,227.5 112.6,227.8 113.1,228.0 113.6,228.2 114.1,228.4 114.6,228.7 115.1,228.9 115.6,229.1 116.1,229.3 116.6,229.5 117.1,229.7 117.6,229.9 118.1,230.2 118.6,230.4 119.1,230.6 119.6,230.9 120.1,231.1 120.6,231.4 121.1,231.6 121.6,231.9 122.1,232.1 122.6,232.4 123.1,232.6 123.6,232.9 124.1,233.2 124.6,233.5 125.1,233.8 125.6,234.1 126.1,234.4 126.6,234.7 127.1,234.9 127.6,235.2 128.1,235.4 128.6,235.7 129.1,236.0 129.6,236.2 130.1,236.5 130.6,236.7 131.1,237.0 131.6,237.2 132.1,237.4 132.6,237.6 133.1,237.8 133.6,238.0 134.1,238.2 134.6,238.4 135.1,238.7 135.6,238.9 136.1,239.2 136.6,239.5 137.1,239.9 137.6,240.2 138.1,240.6 138.6,241.0 139.1,241.4 139.6,241.9 140.1,242.2 140.6,242.6 141.1,243.0 141.6,243.3 142.1,243.7 142.6,244.0 143.1,244.3 143.6,244.7 144.1,245.0 144.6,245.3 145.1,245.7 145.6,246.0 146.1,246.3 146.6,246.6 147.1,247.0 147.6,247.3 148.1,247.6 148.6,248.0 149.1,248.3 149.6,248.7 150.1,249.1 150.6,249.5 151.1,249.9 151.6,250.3 152.1,250.7 152.6,251.0 153.1,251.4 153.6,251.8 154.1,252.1 154.6,252.5 155.1,252.9 155.6,253.2 156.1,253.6 156.6,254.0 157.1,254.4 157.6,254.8 158.1,255.2 158.6,255.6 159.1,256.0 159.6,256.4 160.1,256.8 160.6,257.3 161.1,257.7 161.6,258.1 162.1,258.6 162.6,259.1 163.1,259.6 163.6,260.1 164.1,260.6 164.6,261.2 165.1,261.8 165.6,262.4 166.1,263.0 166.6,263.6 167.1,264.2 167.6,264.8 168.1,265.1 168.6,265.5 169.1,265.9 169.6,266.3 170.1,266.7 170.6,267.2 171.1,267.6 171.6,268.0 172.1,268.5 172.6,269.0 173.1,269.4 173.6,269.9 174.1,270.4 174.6,270.9 175.1,271.5 175.6,272.0 176.1,272.7 176.6,273.3 177.1,274.0 177.6,274.7 178.1,275.5 178.6,276.2 179.1,277.0 179.6,277.9 180.1,278.8 180.6,279.7 181.1,278.6 181.6,277.6 182.1,276.7 182.6,275.9 183.1,275.1 183.6,274.4 184.1,273.8 184.6,272.8 185.1,271.9 185.6,270.9 186.1,270.0 186.6,269.2 187.1,268.4 187.6,267.7 188.1,267.0 188.6,266.4 189.1,265.8 189.6,265.2 190.1,264.7 190.6,264.2 191.1,263.7 191.6,263.2 192.1,262.7 192.6,262.2 193.1,261.7 193.6,261.3 194.1,260.8 194.6,260.4 195.1,260.0 195.6,259.6 196.1,259.2 196.6,258.8 197.1,258.5 197.6,258.2 198.1,257.9 198.6,257.6 199.1,257.3 199.6,257.0 200.1,256.8 200.6,256.5 201.1,256.3 201.6,256.1 202.1,255.8 202.6,255.6 203.1,255.2 203.6,254.9 204.1,254.5 204.6,254.2 205.1,253.8 205.6,253.5 206.1,253.2 206.6,252.8 207.1,252.5 207.6,252.2 208.1,251.9 208.6,251.7 209.1,251.4 209.6,251.1 210.1,250.8 210.6,250.6 211.1,250.3 211.6,250.1 212.1,249.8 212.6,249.6 213.1,249.3 213.6,249.1 214.1,248.9 214.6,248.6 215.1,248.4 215.6,248.2 216.1,248.0 216.6,247.8 217.1,247.6 217.6,247.4 218.1,247.2 218.6,247.0 219.1,246.8 219.6,246.7 220.1,246.5 220.6,246.3 221.1,246.1 221.6,245.9 222.1,245.7 222.6,245.6 223.1,245.4 223.6,245.2 224.1,245.0 224.6,244.9 225.1,244.7 225.6,244.5 226.1,244.3 226.6,244.2 227.1,244.0 227.6,243.9 228.1,243.7 228.6,243.5 229.1,243.3 229.6,243.2 230.1,243.0 230.6,242.8 231.1,242.6 231.6,242.4 232.1,242.2 232.6,242.0 233.1,241.8 233.6,241.6 234.1,241.4 234.6,241.2 235.1,241.0 235.6,240.8 236.1,240.7 236.6,240.5 237.1,240.3 237.6,240.1 238.1,240.0 238.6,239.8 239.1,239.7 239.6,239.5 240.1,239.4 240.6,239.2 241.1,239.1 241.6,238.9 242.1,238.8 242.6,238.7 243.1,238.6 243.6,238.4 244.1,238.3 244.6,238.2 245.1,238.1 245.6,238.0 246.1,237.8 246.6,237.7 247.1,237.6 247.6,237.5 248.1,237.4 248.6,237.3 249.1,237.2 249.6,237.1 250.1,237.0 250.6,236.9 251.1,236.8 251.6,236.7 252.1,236.5 252.6,236.5 253.1,236.3 253.6,236.3 254.1,236.1 254.6,236.0 255.1,235.9 255.6,235.8 256.1,235.7 256.6,235.5 257.1,235.5 257.6,235.3 258.1,235.2 258.6,235.1 259.1,234.9 259.6,234.8 260.1,234.7 260.6,234.5 261.1,234.5 261.6,234.3 262.1,234.1 262.6,234.1 263.1,233.9 263.6,233.8 264.1,233.7 264.6,233.5 265.1,233.4 265.6,233.4 266.1,233.2 266.6,233.1 267.1,233.0 267.6,232.8 268.1,232.7 268.6,232.7 269.1,232.5 269.6,232.4 270.1,232.3 270.6,232.2 271.1,232.1 271.6,232.0 272.1,231.9 272.6,231.8 273.1,231.7 273.6,231.6 274.1,231.6 274.6,231.4 275.1,231.3 275.6,231.3 276.1,231.2 276.6,231.0 277.1,231.0 277.6,230.9 278.1,230.8 278.6,230.8 279.1,230.6 279.6,230.5 280.1,230.5 280.6,230.4 281.1,230.3 281.6,230.3 282.1,230.1 282.6,230.0 283.1,230.0 283.6,229.9 284.1,229.8 284.6,229.8 285.1,229.7 285.6,229.5 286.1,229.6 286.6,229.4 287.1,229.3 287.6,229.3 288.1,229.2 288.6,229.1 289.1,229.1 289.6,229.0 290.1,228.9 290.6,228.9 291.1,228.7 291.6,228.7 292.1,228.7 292.6,228.5 293.1,228.4 293.6,228.5 294.1,228.3 294.6,228.3 295.1,228.2 295.6,228.1 296.1,228.1 296.6,228.0 297.1,227.9 297.6,227.9 298.1,227.8 298.6,227.7 299.1,227.7 299.6,227.6 300.1,227.5 300.6,227.6 301.1,227.4 301.6,227.3 302.1,227.4 302.6,227.2 303.1,227.1 303.6,227.2 304.1,227.0 304.6,227.0 305.1,227.0 305.6,226.8 306.1,226.8 306.6,226.7 307.1,226.6 307.6,226.7 308.1,226.5 308.6,226.4 309.1,226.5 309.6,226.4 310.1,226.3 310.6,226.4 311.1,226.2 311.6,226.1 312.1,226.2 312.6,226.0 313.1,226.0 313.6,226.0 314.1,225.8 314.6,225.9 315.1,225.8 315.6,225.7 316.1,225.7 316.6,225.6 317.1,225.5 317.6,225.6 318.1,225.4 318.6,225.4 319.1,225.5 319.6,225.3 320.1,225.2 320.6,225.3 321.1,225.1 321.6,225.1 322.1,225.1 322.6,224.9 323.1,225.0 323.6,224.9 324.1,224.8 324.6,224.8 325.1,224.8 325.6,224.6 326.1,224.7 326.6,224.6 327.1,224.5 327.6,224.6 328.1,224.4 328.6,224.4 329.1,224.5 329.6,224.3 330.1,224.2 330.6,224.3 331.1,224.1 331.6,224.1 332.1,224.1 332.6,224.0 333.1,224.0 333.6,224.0 334.1,223.8 334.6,223.8 335.1,223.8 335.6,223.7 336.1,223.7 336.6,223.6 337.1,223.5 337.6,223.6 338.1,223.5 338.6,223.4 339.1,223.5 339.6,223.3 340.1,223.3 340.6,223.4 341.1,223.2 341.6,223.2 342.1,223.2 342.6,223.0 343.1,223.0 343.6,223.1 344.1,222.9 344.6,222.9 345.1,222.9 345.6,222.8 346.1,222.8 346.6,222.7 347.1,222.6 347.6,222.7 348.1,222.6 348.6,222.5 349.1,222.7 349.6,222.4 350.1,222.4 350.6,222.5 351.1,222.3 351.6,222.3 352.1,222.3 352.6,222.2 353.1,222.2 353.6,222.2 354.1,222.0 354.6,222.1 355.1,222.0 355.6,221.9 356.1,222.0 356.6,221.9 357.1,221.8 357.6,222.0 358.1,221.7 358.6,221.7 359.1,221.8 359.6,221.6 360.1,221.6 360.6,221.7 361.1,221.5 361.6,221.5 362.1,221.5 362.6,221.4 363.1,221.5 363.6,221.4 364.1,221.3 364.6,221.4 365.1,221.3 365.6,221.2 366.1,221.3 366.6,221.1 367.1,221.1 367.6,221.2 368.1,221.0 368.6,221.0 369.1,221.1 369.6,220.9 370.1,220.9 370.6,220.9 371.1,220.8 371.6,220.8 372.1,220.8 372.6,220.7 373.1,220.8 373.6,220.6 374.1,220.6 374.6,220.7 375.1,220.5 375.6,220.5 376.1,220.6 376.6,220.4 377.1,220.3 377.6,220.5 378.1,220.3 378.6,220.2 379.1,220.4 379.6,220.2 380.1,220.1 380.6,220.2 381.1,220.2 381.6,220.0 382.1,220.0 382.6,220.1 383.1,219.9 383.6,219.9 384.1,220.0 384.6,219.8 385.1,219.8 385.6,219.8 386.1,219.6 386.6,219.7 387.1,219.6 387.6,219.5 388.1,219.6 388.6,219.4 389.1,219.5 389.6,219.4 390.1,219.4 390.6,219.3 391.1,219.5 391.6,220.1 391.6,220.9 391.1,222.1 390.6,222.8 390.1,222.6 389.6,222.9 389.1,222.7 388.6,223.0 388.1,222.5 387.6,223.2 387.1,222.7 386.6,223.0 386.1,223.3 385.6,222.5 385.1,223.3 384.6,223.4 384.1,222.5 383.6,223.5 383.1,223.6 382.6,222.7 382.1,223.5 381.6,223.8 381.1,223.0 380.6,223.6 380.1,224.1 379.6,223.4 379.1,223.6 378.6,224.3 378.1,223.8 377.6,223.6 377.1,224.4 376.6,224.1 376.1,223.7 375.6,224.5 375.1,224.3 374.6,224.0 374.1,224.7 373.6,224.4 373.1,224.4 372.6,225.0 372.1,224.3 371.6,224.7 371.1,225.1 370.6,224.3 370.1,225.0 369.6,225.1 369.1,224.4 368.6,225.2 368.1,225.2 367.6,224.7 367.1,225.5 366.6,225.2 366.1,225.0 365.6,225.7 365.1,225.3 364.6,225.3 364.1,225.9 363.6,225.3 363.1,225.6 362.6,226.0 362.1,225.3 361.6,225.9 361.1,226.1 360.6,225.3 360.1,226.2 359.6,226.2 359.1,225.6 358.6,226.4 358.1,226.2 357.6,225.9 357.1,226.7 356.6,226.3 356.1,226.3 355.6,226.9 355.1,226.3 354.6,226.6 354.1,227.0 353.6,226.3 353.1,226.9 352.6,227.1 352.1,226.3 351.6,227.2 351.1,227.2 350.6,226.6 350.1,227.4 349.6,227.3 349.1,227.0 348.6,227.7 348.1,227.3 347.6,227.3 347.1,227.9 346.6,227.3 346.1,227.6 345.6,228.1 345.1,227.4 344.6,228.0 344.1,228.2 343.6,227.4 343.1,228.2 342.6,228.3 342.1,227.7 341.6,228.5 341.1,228.3 340.6,228.1 340.1,228.8 339.6,228.4 339.1,228.4 338.6,229.0 338.1,228.5 337.6,228.7 337.1,229.2 336.6,228.5 336.1,229.0 335.6,229.3 335.1,228.6 334.6,229.3 334.1,229.5 333.6,228.7 333.1,229.5 332.6,229.6 332.1,229.0 331.6,229.8 331.1,229.7 330.6,229.3 330.1,230.1 329.6,229.8 329.1,229.6 328.6,230.3 328.1,229.9 327.6,229.9 327.1,230.5 326.6,230.0 326.1,230.3 325.6,230.7 325.1,230.1 324.6,230.6 324.1,230.9 323.6,230.1 323.1,230.9 322.6,231.0 322.1,230.3 321.6,231.2 321.1,231.1 320.6,230.7 320.1,231.5 319.6,231.2 319.1,231.1 318.6,231.7 318.1,231.3 317.6,231.4 317.1,231.9 316.6,231.3 316.1,231.8 315.6,232.1 315.1,231.4 314.6,232.1 314.1,232.2 313.6,231.6 313.1,232.4 312.6,232.3 312.1,232.0 311.6,232.7 311.1,232.4 310.6,232.3 310.1,233.0 309.6,232.5 309.1,232.7 308.6,233.2 308.1,232.6 307.6,233.1 307.1,233.4 306.6,232.7 306.1,233.4 305.6,233.5 305.1,232.9 304.6,233.7 304.1,233.6 303.6,233.3 303.1,234.0 302.6,233.8 302.1,233.7 301.6,234.3 301.1,233.9 300.6,234.1 300.1,234.6 299.6,234.0 299.1,234.5 298.6,234.8 298.1,234.1 297.6,234.9 297.1,235.0 296.6,234.4 296.1,235.3 295.6,235.2 295.1,234.9 294.6,235.7 294.1,235.4 293.6,235.3 293.1,236.0 292.6,235.6 292.1,235.8 291.6,236.4 291.1,235.8 290.6,236.2 290.1,236.7 289.6,236.0 289.1,236.6 288.6,237.0 288.1,236.2 287.6,237.0 287.1,237.2 286.6,236.5 286.1,237.4 285.6,237.6 285.1,236.8 284.6,237.7 284.1,237.9 283.6,237.1 283.1,238.1 282.6,238.2 282.1,237.5 281.6,238.4 281.1,238.6 280.6,237.8 280.1,238.8 279.6,238.9 279.1,238.2 278.6,239.2 278.1,239.3 277.6,238.6 277.1,239.5 276.6,239.6 276.1,239.0 275.6,239.9 275.1,240.0 274.6,239.5 274.1,240.4 273.6,240.3 273.1,240.0 272.6,240.8 272.1,240.6 271.6,240.5 271.1,241.3 270.6,240.9 270.1,241.0 269.6,241.7 269.1,241.2 268.6,241.6 268.1,242.1 267.6,241.5 267.1,242.1 266.6,242.6 266.1,241.8 265.6,242.6 265.1,243.0 264.6,242.2 264.1,243.2 263.6,243.4 263.1,242.8 262.6,243.7 262.1,243.7 261.6,243.5 261.1,244.3 260.6,244.0 260.1,244.2 259.6,244.9 259.1,244.3 258.6,245.0 258.1,245.2 257.6,245.0 257.1,245.7 256.6,245.3 256.1,245.9 255.6,246.0 255.1,246.1 254.6,246.5 254.1,246.3 253.6,246.9 253.1,246.7 252.6,247.2 252.1,247.1 251.6,247.4 251.1,247.6 250.6,247.5 250.1,248.0 249.6,247.9 249.1,248.2 248.6,248.5 248.1,248.4 247.6,248.6 247.1,249.0 246.6,249.0 246.1,248.9 245.6,249.4 245.1,249.6 244.6,249.6 244.1,249.7 243.6,250.0 243.1,250.3 242.6,250.5 242.1,250.7 241.6,250.9 241.1,251.0 240.6,251.2 240.1,251.4 239.6,251.6 239.1,251.8 238.6,251.9 238.1,252.0 237.6,252.4 237.1,252.7 236.6,252.9 236.1,253.1 235.6,253.2 235.1,253.6 234.6,253.9 234.1,254.1 233.6,254.2 233.1,254.5 232.6,254.9 232.1,255.1 231.6,255.3 231.1,255.4 230.6,255.8 230.1,256.1 229.6,256.3 229.1,256.5 228.6,256.6 228.1,257.1 227.6,257.4 227.1,257.6 226.6,257.7 226.1,257.9 225.6,258.4 225.1,258.6 224.6,258.8 224.1,259.0 223.6,259.3 223.1,259.7 222.6,260.0 222.1,260.2 221.6,260.3 221.1,260.6 220.6,261.0 220.1,261.3 219.6,261.5 219.1,261.7 218.6,262.0 218.1,262.4 217.6,262.7 217.1,262.9 216.6,263.1 216.1,263.5 215.6,263.9 215.1,264.2 214.6,264.5 214.1,264.7 213.6,265.2 213.1,265.6 212.6,265.9 212.1,266.2 211.6,266.5 211.1,267.0 210.6,267.3 210.1,267.7 209.6,268.0 209.1,268.5 208.6,268.9 208.1,269.3 207.6,269.8 207.1,270.2 206.6,270.6 206.1,271.1 205.6,272.2 205.1,273.3 204.6,274.5 204.1,275.7 203.6,276.9 203.1,278.1 202.6,279.3 202.1,280.6 201.6,281.9 201.1,283.2 200.6,284.5 200.1,285.9 199.6,287.3 199.1,288.7 198.6,290.1 198.1,291.6 197.6,293.1 197.1,294.6 196.6,296.1 196.1,299.7 195.6,304.4 195.1,309.6 194.6,314.4 194.1,318.6 193.6,322.7 193.1,326.7 192.6,330.7 192.1,334.5 191.6,338.2 191.1,341.9 190.6,345.4 190.1,348.9 189.6,352.2 189.1,355.4 188.6,358.5 188.1,361.5 187.6,364.3 187.1,367.0 186.6,369.6 186.1,372.0 185.6,374.3 185.1,376.4 184.6,378.4 184.1,380.1 183.6,381.6 183.1,382.8 182.6,383.7 182.1,383.9 181.6,383.1 181.1,381.9 180.6,380.4 180.1,378.7 179.6,376.8 179.1,374.8 178.6,372.5 178.1,370.1 177.6,367.6 177.1,364.9 176.6,362.0 176.1,359.1 175.6,356.0 175.1,352.8 174.6,349.5 174.1,346.1 173.6,342.6 173.1,339.0 172.6,335.3 172.1,331.4 171.6,327.5 171.1,323.5 170.6,319.5 170.1,315.5 169.6,311.6 169.1,307.7 168.6,303.8 168.1,299.8 167.6,295.3 167.1,291.2 166.6,289.1 166.1,287.0 165.6,284.9 165.1,282.9 164.6,280.9 164.1,279.0 163.6,277.1 163.1,275.3 162.6,273.6 162.1,272.4 161.6,271.5 161.1,270.7 160.6,269.9 160.1,269.1 159.6,268.4 159.1,267.6 158.6,267.0 158.1,266.3 157.6,265.6 157.1,265.0 156.6,264.4 156.1,263.7 155.6,263.1 155.1,262.5 154.6,261.9 154.1,261.3 153.6,260.7 153.1,260.1 152.6,259.5 152.1,258.9 151.6,258.3 151.1,257.7 150.6,257.1 150.1,256.5 149.6,255.9 149.1,255.5 148.6,255.0 148.1,254.6 147.6,254.2 147.1,253.8 146.6,253.3 146.1,253.0 145.6,252.6 145.1,252.2 144.6,251.8 144.1,251.5 143.6,251.1 143.1,250.7 142.6,250.3 142.1,249.9 141.6,249.5 141.1,249.1 140.6,248.7 140.1,248.3 139.6,247.9 139.1,247.5 138.6,247.0 138.1,246.6 137.6,246.1 137.1,245.6 136.6,245.2 136.1,244.8 135.6,244.4 135.1,244.1 134.6,243.8 134.1,243.5 133.6,243.2 133.1,242.9 132.6,242.6 132.1,242.3 131.6,242.0 131.1,241.7 130.6,241.5 130.1,241.3 129.6,241.0 129.1,240.6 128.6,240.4 128.1,240.1 127.6,239.8 127.1,239.4 126.6,239.2 126.1,238.8 125.6,238.5 125.1,238.1 124.6,237.8 124.1,237.4 123.6,237.1 123.1,236.8 122.6,236.4 122.1,236.1 121.6,235.8 121.1,235.5 120.6,235.2 120.1,234.8 119.6,234.6 119.1,234.3 118.6,234.1 118.1,233.8 117.6,233.6 117.1,233.4 116.6,233.1 116.1,232.9 115.6,232.6 115.1,232.5 114.6,232.1 114.1,232.0 113.6,231.7 113.1,231.6 112.6,231.3 112.1,231.0 111.6,230.8 111.1,230.5 110.6,230.4 110.1,230.0 109.6,229.8 109.1,229.5 108.6,229.3 108.1,228.9 107.6,228.7 107.1,228.4 106.6,228.1 106.1,227.9 105.6,227.6 105.1,227.5 104.6,227.3 104.1,227.1 103.6,226.8 103.1,226.8 102.6,226.7 102.1,226.5 101.6,226.2 101.1,226.1 100.6,226.0 100.1,225.7 99.6,225.4 99.1,225.2 98.6,225.1 98.1,224.7 97.6,224.5 97.1,224.4 96.6,224.1 96.1,223.9 95.6,223.7 95.1,223.4 94.6,223.3 94.1,223.0 93.6,222.8 93.1,222.5 92.6,222.4 92.1,222.1 91.6,222.0 91.1,221.8 90.6,221.5 90.1,221.4 89.6,221.2 89.1,220.9 88.6,220.8 88.1,220.6 87.6,220.3 87.1,220.2 86.6,220.0 86.1,219.7 85.6,219.6 85.1,219.2 84.6,219.1 84.1,218.9 83.6,218.6 83.1,218.5 82.6,218.2 82.1,218.0 81.6,217.9 81.1,217.7 80.6,217.4 80.1,217.4 79.6,217.1 79.1,216.8 78.6,216.7 78.1,216.4 77.6,216.2 77.1,216.0 76.6,215.7 76.1,215.5 75.6,215.1 75.1,215.0 74.6,214.6 74.1,214.5 73.6,214.1 73.1,214.0 72.6,213.6 72.1,213.4 71.6,213.1 71.1,212.8 70.6,212.6 70.1,212.2 69.6,212.1 69.1,211.7 68.6,211.6 68.1,211.2 67.6,211.0 67.1,210.7 66.6,210.3 66.1,210.2 65.6,209.8 65.1,209.6 64.6,209.2 64.1,208.9 63.6,208.6 63.1,208.2 62.6,208.0 62.1,207.6 61.6,207.4 61.1,207.2 60.6,206.9 60.1,206.5 59.6,206.5 59.1,206.2 58.6,206.0 58.1,205.8 57.6,204.8" fill="#e6e6e6"/>
<polygon points="57.6,204.5 58.1,203.8 58.6,204.0 59.1,204.2 59.6,204.5 60.1,204.7 60.6,204.9 61.1,205.2 61.6,205.4 62.1,205.6 62.6,205.9 63.1,206.2 63.6,206.4 64.1,206.8 64.6,207.0 65.1,207.4 65.6,207.7 66.1,208.0 66.6,208.2 67.1,208.5 67.6,208.8 68.1,209.0 68.6,209.3 69.1,209.5 69.6,209.8 70.1,210.1 70.6,210.3 71.1,210.6 71.6,210.8 72.1,211.1 72.6,211.3 73.1,211.6 73.6,211.8 74.1,212.1 74.6,212.3 75.1,212.6 75.6,212.8 76.1,213.1 76.6,213.3 77.1,213.5 77.6,213.8 78.1,214.0 78.6,214.2 79.1,214.4 79.6,214.6 80.1,214.9 80.6,215.0 81.1,215.2 81.6,215.4 82.1,215.6 82.6,215.7 83.1,215.9 83.6,216.1 84.1,216.3 84.6,216.5 85.1,216.7 85.6,216.9 86.1,217.1 86.6,217.3 87.1,217.6 87.6,217.7 88.1,218.0 88.6,218.1 89.1,218.3 89.6,218.5 90.1,218.7 90.6,218.9 91.1,219.0 91.6,219.2 92.1,219.4 92.6,219.6 93.1,219.8 93.6,220.0 94.1,220.2 94.6,220.4 95.1,220.6 95.6,220.8 96.1,221.0 96.6,221.2 97.1,221.5 97.6,221.7 98.1,221.9 98.6,222.1 99.1,222.4 99.6,222.5 100.1,222.8 100.6,223.0 101.1,223.2 101.6,223.3 102.1,223.5 102.6,223.7 103.1,223.8 103.6,224.0 104.1,224.1 104.6,224.3 105.1,224.4 105.6,224.6 106.1,224.8 106.6,225.0 107.1,225.2 107.6,225.5 108.1,225.8 108.6,226.1 109.1,226.4 109.6,226.6 110.1,226.9 110.6,227.1 111.1,227.4 111.6,227.6 112.1,227.8 112.6,228.0 113.1,228.3 113.6,228.5 114.1,228.7 114.6,229.0 115.1,229.2 115.6,229.4 116.1,229.6 116.6,229.8 117.1,230.0 117.6,230.2 118.1,230.4 118.6,230.7 119.1,230.9 119.6,231.2 120.1,231.4 120.6,231.7 121.1,231.9 121.6,232.2 122.1,232.4 122.6,232.7 123.1,233.0 123.6,233.3 124.1,233.5 124.6,233.9 125.1,234.1 125.6,234.5 126.1,234.7 126.6,235.0 127.1,235.3 127.6,235.5 128.1,235.8 128.6,236.1 129.1,236.3 129.6,236.6 130.1,236.8 130.6,237.1 131.1,237.3 131.6,237.5 132.1,237.7 132.6,238.0 133.1,238.2 133.6,238.4 134.1,238.6 134.6,238.8 135.1,239.1 135.6,239.3 136.1,239.6 136.6,240.0 137.1,240.3 137.6,240.7 138.1,241.1 138.6,241.5 139.1,241.9 139.6,242.3 140.1,242.7 140.6,243.1 141.1,243.4 141.6,243.8 142.1,244.1 142.6,244.5 143.1,244.8 143.6,245.2 144.1,245.5 144.6,245.8 145.1,246.2 145.6,246.5 146.1,246.8 146.6,247.2 147.1,247.5 147.6,247.8 148.1,248.1 148.6,248.5 149.1,248.9 149.6,249.2 150.1,249.7 150.6,250.1 151.1,250.5 151.6,250.9 152.1,251.2 152.6,251.6 153.1,252.0 153.6,252.4 154.1,252.8 154.6,253.1 155.1,253.5 155.6,253.9 156.1,254.3 156.6,254.7 157.1,255.1 157.6,255.5 158.1,255.9 158.6,256.3 159.1,256.8 159.6,257.2 160.1,257.6 160.6,258.1 161.1,258.5 161.6,259.0 162.1,259.4 162.6,259.9 163.1,260.5 163.6,261.0 164.1,261.6 164.6,262.2 165.1,262.8 165.6,263.4 166.1,264.0 166.6,264.7 167.1,265.3 167.6,265.8 168.1,266.2 168.6,266.6 169.1,267.1 169.6,267.6 170.1,268.0 170.6,268.5 171.1,269.0 171.6,269.5 172.1,270.0 172.6,270.6 173.1,271.1 173.6,271.6 174.1,272.2 174.6,272.8 175.1,273.4 175.6,274.1 176.1,274.8 176.6,275.5 177.1,276.3 177.6,277.1 178.1,277.9 178.6,278.8 179.1,279.7 179.6,280.7 180.1,281.7 180.6,282.8 181.1,283.5 181.6,282.2 182.1,281.0 182.6,279.9 183.1,278.8 183.6,277.9 184.1,276.9 184.6,276.0 185.1,274.9 185.6,273.9 186.1,272.9 186.6,271.9 187.1,271.0 187.6,270.2 188.1,269.4 188.6,268.7 189.1,268.0 189.6,267.4 190.1,266.8 190.6,266.2 191.1,265.6 191.6,265.1 192.1,264.5 192.6,264.0 193.1,263.5 193.6,263.0 194.1,262.5 194.6,262.0 195.1,261.6 195.6,261.1 196.1,260.7 196.6,260.3 197.1,259.9 197.6,259.5 198.1,259.2 198.6,258.8 199.1,258.5 199.6,258.2 200.1,257.9 200.6,257.6 201.1,257.3 201.6,257.1 202.1,256.8 202.6,256.6 203.1,256.2 203.6,255.9 204.1,255.5 204.6,255.1 205.1,254.8 205.6,254.4 206.1,254.1 206.6,253.7 207.1,253.4 207.6,253.1 208.1,252.8 208.6,252.5 209.1,252.2 209.6,251.9 210.1,251.7 210.6,251.4 211.1,251.1 211.6,250.9 212.1,250.6 212.6,250.4 213.1,250.1 213.6,249.9 214.1,249.6 214.6,249.4 215.1,249.2 215.6,248.9 216.1,248.7 216.6,248.5 217.1,248.3 217.6,248.1 218.1,247.9 218.6,247.7 219.1,247.5 219.6,247.3 220.1,247.1 220.6,246.9 221.1,246.8 221.6,246.6 222.1,246.4 222.6,246.2 223.1,246.0 223.6,245.8 224.1,245.6 224.6,245.5 225.1,245.3 225.6,245.1 226.1,244.9 226.6,244.7 227.1,244.6 227.6,244.4 228.1,244.2 228.6,244.0 229.1,243.9 229.6,243.7 230.1,243.5 230.6,243.3 231.1,243.1 231.6,242.9 232.1,242.7 232.6,242.5 233.1,242.3 233.6,242.1 234.1,242.0 234.6,241.7 235.1,241.6 235.6,241.4 236.1,241.2 236.6,241.0 237.1,240.8 237.6,240.7 238.1,240.5 238.6,240.4 239.1,240.2 239.6,240.0 240.1,239.9 240.6,239.7 241.1,239.6 241.6,239.5 242.1,239.3 242.6,239.2 243.1,239.1 243.6,239.0 244.1,238.8 244.6,238.7 245.1,238.6 245.6,238.5 246.1,238.3 246.6,238.2 247.1,238.1 247.6,238.0 248.1,237.9 248.6,237.8 249.1,237.7 249.6,237.6 250.1,237.5 250.6,237.4 251.1,237.3 251.6,237.2 252.1,237.1 252.6,237.0 253.1,236.8 253.6,236.8 254.1,236.6 254.6,236.5 255.1,236.4 255.6,236.3 256.1,236.2 256.6,236.0 257.1,236.0 257.6,235.8 258.1,235.7 258.6,235.6 259.1,235.4 259.6,235.3 260.1,235.2 260.6,235.0 261.1,235.0 261.6,234.8 262.1,234.6 262.6,234.6 263.1,234.4 263.6,234.3 264.1,234.3 264.6,234.0 265.1,233.9 265.6,233.9 266.1,233.7 266.6,233.6 267.1,233.6 267.6,233.3 268.1,233.2 268.6,233.2 269.1,233.0 269.6,232.9 270.1,232.8 270.6,232.6 271.1,232.6 271.6,232.5 272.1,232.3 272.6,232.3 273.1,232.2 273.6,232.0 274.1,232.0 274.6,231.9 275.1,231.8 275.6,231.8 276.1,231.6 276.6,231.5 277.1,231.5 277.6,231.4 278.1,231.2 278.6,231.2 279.1,231.1 279.6,231.0 280.1,231.0 280.6,230.9 281.1,230.7 281.6,230.7 282.1,230.6 282.6,230.5 283.1,230.5 283.6,230.4 284.1,230.2 284.6,230.2 285.1,230.1 285.6,230.0 286.1,230.0 286.6,229.9 287.1,229.8 287.6,229.8 288.1,229.6 288.6,229.5 289.1,229.6 289.6,229.4 290.1,229.3 290.6,229.4 291.1,229.2 291.6,229.1 292.1,229.2 292.6,228.9 293.1,228.9 293.6,228.9 294.1,228.7 294.6,228.7 295.1,228.7 295.6,228.5 296.1,228.5 296.6,228.4 297.1,228.3 297.6,228.3 298.1,228.2 298.6,228.1 299.1,228.1 299.6,228.0 300.1,227.9 300.6,228.0 301.1,227.8 301.6,227.7 302.1,227.8 302.6,227.6 303.1,227.5 303.6,227.6 304.1,227.4 304.6,227.4 305.1,227.4 305.6,227.2 306.1,227.2 306.6,227.2 307.1,227.0 307.6,227.1 308.1,226.9 308.6,226.8 309.1,226.9 309.6,226.7 310.1,226.7 310.6,226.8 311.1,226.6 311.6,226.5 312.1,226.6 312.6,226.4 313.1,226.4 313.6,226.4 314.1,226.2 314.6,226.2 315.1,226.2 315.6,226.0 316.1,226.1 316.6,226.0 317.1,225.9 317.6,226.0 318.1,225.8 318.6,225.7 319.1,225.9 319.6,225.6 320.1,225.6 320.6,225.7 321.1,225.5 321.6,225.4 322.1,225.5 322.6,225.3 323.1,225.3 323.6,225.3 324.1,225.1 324.6,225.2 325.1,225.1 325.6,225.0 326.1,225.1 326.6,224.9 327.1,224.8 327.6,224.9 328.1,224.8 328.6,224.7 329.1,224.8 329.6,224.6 330.1,224.6 330.6,224.7 331.1,224.4 331.6,224.4 332.1,224.5 332.6,224.3 333.1,224.3 333.6,224.3 334.1,224.1 334.6,224.2 335.1,224.2 335.6,224.0 336.1,224.1 336.6,224.0 337.1,223.9 337.6,223.9 338.1,223.8 338.6,223.7 339.1,223.8 339.6,223.7 340.1,223.6 340.6,223.8 341.1,223.5 341.6,223.5 342.1,223.6 342.6,223.4 343.1,223.4 343.6,223.4 344.1,223.2 344.6,223.2 345.1,223.2 345.6,223.1 346.1,223.1 346.6,223.1 347.1,222.9 347.6,223.1 348.1,222.9 348.6,222.8 349.1,223.0 349.6,222.7 350.1,222.7 350.6,222.8 351.1,222.6 351.6,222.6 352.1,222.7 352.6,222.5 353.1,222.5 353.6,222.5 354.1,222.3 354.6,222.4 355.1,222.3 355.6,222.2 356.1,222.3 356.6,222.2 357.1,222.1 357.6,222.3 358.1,222.0 358.6,222.0 359.1,222.2 359.6,221.9 360.1,221.9 360.6,222.0 361.1,221.8 361.6,221.8 362.1,221.8 362.6,221.7 363.1,221.7 363.6,221.7 364.1,221.5 364.6,221.7 365.1,221.5 365.6,221.4 366.1,221.6 366.6,221.4 367.1,221.3 367.6,221.6 368.1,221.3 368.6,221.3 369.1,221.4 369.6,221.1 370.1,221.2 370.6,221.2 371.1,221.0 371.6,221.1 372.1,221.0 372.6,220.9 373.1,221.0 373.6,220.9 374.1,220.8 374.6,221.0 375.1,220.8 375.6,220.7 376.1,220.9 376.6,220.6 377.1,220.6 377.6,220.8 378.1,220.6 378.6,220.4 379.1,220.6 379.6,220.5 380.1,220.3 380.6,220.4 381.1,220.4 381.6,220.2 382.1,220.3 382.6,220.4 383.1,220.1 383.6,220.1 384.1,220.3 384.6,220.0 385.1,220.0 385.6,220.1 386.1,219.8 386.6,219.9 387.1,219.8 387.6,219.7 388.1,219.9 388.6,219.6 389.1,219.7 389.6,219.6 390.1,219.6 390.6,219.5 391.1,219.7 391.1,221.6 390.6,222.4 390.1,222.1 389.6,222.5 389.1,222.2 388.6,222.6 388.1,222.0 387.6,222.8 387.1,222.3 386.6,222.6 386.1,222.9 385.6,222.0 385.1,222.9 384.6,222.9 384.1,222.0 383.6,223.0 383.1,223.1 382.6,222.2 382.1,223.1 381.6,223.4 381.1,222.5 380.6,223.1 380.1,223.6 379.6,222.9 379.1,223.1 378.6,223.8 378.1,223.3 377.6,223.1 377.1,223.9 376.6,223.6 376.1,223.2 375.6,224.1 375.1,223.8 374.6,223.5 374.1,224.3 373.6,223.9 373.1,223.8 372.6,224.5 372.1,223.8 371.6,224.2 371.1,224.6 370.6,223.8 370.1,224.5 369.6,224.6 369.1,223.8 368.6,224.7 368.1,224.7 367.6,224.1 367.1,225.0 366.6,224.7 366.1,224.4 365.6,225.2 365.1,224.7 364.6,224.8 364.1,225.4 363.6,224.7 363.1,225.0 362.6,225.5 362.1,224.7 361.6,225.3 361.1,225.6 360.6,224.7 360.1,225.6 359.6,225.6 359.1,225.0 358.6,225.9 358.1,225.7 357.6,225.3 357.1,226.1 356.6,225.7 356.1,225.7 355.6,226.3 355.1,225.7 354.6,226.0 354.1,226.5 353.6,225.7 353.1,226.3 352.6,226.5 352.1,225.7 351.6,226.6 351.1,226.6 350.6,226.0 350.1,226.9 349.6,226.7 349.1,226.4 348.6,227.1 348.1,226.7 347.6,226.7 347.1,227.3 346.6,226.7 346.1,227.0 345.6,227.5 345.1,226.7 344.6,227.3 344.1,227.6 343.6,226.7 343.1,227.6 342.6,227.6 342.1,227.0 341.6,227.9 341.1,227.7 340.6,227.4 340.1,228.1 339.6,227.8 339.1,227.7 338.6,228.4 338.1,227.8 337.6,228.0 337.1,228.5 336.6,227.9 336.1,228.3 335.6,228.7 335.1,227.9 334.6,228.6 334.1,228.8 333.6,228.0 333.1,228.9 332.6,228.9 332.1,228.3 331.6,229.1 331.1,229.0 330.6,228.6 330.1,229.4 329.6,229.1 329.1,228.9 328.6,229.6 328.1,229.2 327.6,229.2 327.1,229.9 326.6,229.3 326.1,229.5 325.6,230.0 325.1,229.3 324.6,229.9 324.1,230.2 323.6,229.4 323.1,230.2 322.6,230.3 322.1,229.6 321.6,230.5 321.1,230.4 320.6,229.9 320.1,230.7 319.6,230.5 319.1,230.3 318.6,231.0 318.1,230.5 317.6,230.7 317.1,231.2 316.6,230.6 316.1,231.0 315.6,231.4 315.1,230.6 314.6,231.3 314.1,231.5 313.6,230.8 313.1,231.7 312.6,231.6 312.1,231.2 311.6,232.0 311.1,231.7 310.6,231.6 310.1,232.2 309.6,231.7 309.1,231.9 308.6,232.4 308.1,231.8 307.6,232.3 307.1,232.6 306.6,231.8 306.1,232.6 305.6,232.7 305.1,232.1 304.6,232.9 304.1,232.9 303.6,232.5 303.1,233.2 302.6,233.0 302.1,232.9 301.6,233.5 301.1,233.1 300.6,233.2 300.1,233.8 299.6,233.1 299.1,233.6 298.6,234.0 298.1,233.2 297.6,234.0 297.1,234.2 296.6,233.5 296.1,234.4 295.6,234.4 295.1,234.0 294.6,234.8 294.1,234.5 293.6,234.4 293.1,235.1 292.6,234.7 292.1,234.8 291.6,235.5 291.1,234.9 290.6,235.2 290.1,235.8 289.6,235.1 289.1,235.6 288.6,236.0 288.1,235.3 287.6,236.0 287.1,236.3 286.6,235.5 286.1,236.4 285.6,236.6 285.1,235.8 284.6,236.7 284.1,236.9 283.6,236.1 283.1,237.1 282.6,237.2 282.1,236.4 281.6,237.4 281.1,237.6 280.6,236.8 280.1,237.8 279.6,237.9 279.1,237.1 278.6,238.1 278.1,238.2 277.6,237.5 277.1,238.5 276.6,238.6 276.1,237.9 275.6,238.9 275.1,238.9 274.6,238.3 274.1,239.3 273.6,239.2 273.1,238.8 272.6,239.7 272.1,239.5 271.6,239.4 271.1,240.2 270.6,239.8 270.1,239.9 269.6,240.6 269.1,240.0 268.6,240.4 268.1,241.0 267.6,240.3 267.1,240.9 266.6,241.4 266.1,240.6 265.6,241.4 265.1,241.8 264.6,241.0 264.1,242.0 263.6,242.2 263.1,241.6 262.6,242.5 262.1,242.5 261.6,242.2 261.1,243.1 260.6,242.8 260.1,243.0 259.6,243.7 259.1,243.0 258.6,243.8 258.1,244.0 257.6,243.7 257.1,244.5 256.6,244.0 256.1,244.6 255.6,244.7 255.1,244.8 254.6,245.2 254.1,245.0 253.6,245.6 253.1,245.4 252.6,245.9 252.1,245.8 251.6,246.1 251.1,246.3 250.6,246.2 250.1,246.7 249.6,246.6 249.1,246.9 248.6,247.1 248.1,247.0 247.6,247.3 247.1,247.6 246.6,247.6 246.1,247.6 245.6,248.0 245.1,248.2 244.6,248.3 244.1,248.3 243.6,248.7 243.1,248.9 242.6,249.1 242.1,249.3 241.6,249.5 241.1,249.6 240.6,249.8 240.1,250.0 239.6,250.2 239.1,250.3 238.6,250.5 238.1,250.6 237.6,251.0 237.1,251.3 236.6,251.5 236.1,251.6 235.6,251.7 235.1,252.1 234.6,252.5 234.1,252.6 233.6,252.7 233.1,253.0 232.6,253.4 232.1,253.7 231.6,253.8 231.1,253.8 230.6,254.3 230.1,254.6 229.6,254.8 229.1,254.9 228.6,255.1 228.1,255.5 227.6,255.8 227.1,256.0 226.6,256.1 226.1,256.4 225.6,256.8 225.1,257.0 224.6,257.2 224.1,257.4 223.6,257.6 223.1,258.1 222.6,258.3 222.1,258.5 221.6,258.6 221.1,259.0 220.6,259.3 220.1,259.6 219.6,259.8 219.1,259.9 218.6,260.3 218.1,260.7 217.6,260.9 217.1,261.1 216.6,261.3 216.1,261.8 215.6,262.1 215.1,262.4 214.6,262.6 214.1,262.9 213.6,263.4 213.1,263.7 212.6,264.0 212.1,264.3 211.6,264.6 211.1,265.1 210.6,265.4 210.1,265.7 209.6,266.1 209.1,266.5 208.6,267.0 208.1,267.4 207.6,267.8 207.1,268.2 206.6,268.7 206.1,269.1 205.6,269.8 205.1,270.9 204.6,272.0 204.1,273.1 203.6,274.2 203.1,275.4 202.6,276.6 202.1,277.8 201.6,279.0 201.1,280.2 200.6,281.4 200.1,282.7 199.6,284.1 199.1,285.4 198.6,286.8 198.1,288.1 197.6,289.5 197.1,290.9 196.6,292.4 196.1,293.8 195.6,295.3 195.1,296.8 194.6,300.8 194.1,305.2 193.6,309.9 193.1,314.5 192.6,319.0 192.1,323.4 191.6,327.7 191.1,331.8 190.6,335.9 190.1,339.8 189.6,343.6 189.1,347.3 188.6,350.8 188.1,354.2 187.6,357.5 187.1,360.6 186.6,363.6 186.1,366.3 185.6,368.9 185.1,371.4 184.6,373.6 184.1,375.5 183.6,377.3 183.1,378.7 182.6,379.7 182.1,379.8 181.6,378.9 181.1,377.6 180.6,375.9 180.1,374.0 179.6,371.8 179.1,369.4 178.6,366.9 178.1,364.1 177.6,361.2 177.1,358.1 176.6,354.9 176.1,351.5 175.6,348.0 175.1,344.4 174.6,340.6 174.1,336.7 173.6,332.7 173.1,328.7 172.6,324.7 172.1,320.8 171.6,316.9 171.1,313.0 170.6,309.1 170.1,305.3 169.6,301.4 169.1,297.5 168.6,293.7 168.1,291.6 167.6,289.6 167.1,287.6 166.6,285.7 166.1,283.7 165.6,281.9 165.1,280.0 164.6,278.2 164.1,276.5 163.6,274.8 163.1,273.1 162.6,272.1 162.1,271.3 161.6,270.4 161.1,269.6 160.6,268.9 160.1,268.1 159.6,267.4 159.1,266.7 158.6,266.1 158.1,265.4 157.6,264.8 157.1,264.2 156.6,263.5 156.1,262.9 155.6,262.3 155.1,261.7 154.6,261.1 154.1,260.5 153.6,259.9 153.1,259.3 152.6,258.8 152.1,258.2 151.6,257.6 151.1,257.0 150.6,256.5 150.1,255.9 149.6,255.3 149.1,254.9 148.6,254.4 148.1,254.0 147.6,253.6 147.1,253.2 146.6,252.8 146.1,252.4 145.6,252.1 145.1,251.7 144.6,251.2 144.1,250.9 143.6,250.5 143.1,250.1 142.6,249.8 142.1,249.3 141.6,249.0 141.1,248.6 140.6,248.2 140.1,247.8 139.6,247.4 139.1,247.0 138.6,246.6 138.1,246.1 137.6,245.6 137.1,245.1 136.6,244.7 136.1,244.3 135.6,243.9 135.1,243.6 134.6,243.3 134.1,243.0 133.6,242.7 133.1,242.4 132.6,242.2 132.1,241.9 131.6,241.6 131.1,241.3 130.6,241.1 130.1,240.9 129.6,240.6 129.1,240.2 128.6,240.0 128.1,239.7 127.6,239.4 127.1,239.0 126.6,238.8 126.1,238.4 125.6,238.1 125.1,237.7 124.6,237.5 124.1,237.1 123.6,236.8 123.1,236.4 122.6,236.1 122.1,235.8 121.6,235.5 121.1,235.2 120.6,234.9 120.1,234.5 119.6,234.3 119.1,234.0 118.6,233.8 118.1,233.5 117.6,233.3 117.1,233.1 116.6,232.8 116.1,232.6 115.6,232.3 115.1,232.2 114.6,231.9 114.1,231.8 113.6,231.4 113.1,231.3 112.6,231.0 112.1,230.7 111.6,230.6 111.1,230.2 110.6,230.1 110.1,229.7 109.6,229.6 109.1,229.2 108.6,229.0 108.1,228.7 107.6,228.4 107.1,228.2 106.6,227.8 106.1,227.6 105.6,227.3 105.1,227.2 104.6,227.0 104.1,226.8 103.6,226.5 103.1,226.5 102.6,226.4 102.1,226.2 101.6,225.9 101.1,225.8 100.6,225.7 100.1,225.4 99.6,225.1 99.1,225.0 98.6,224.8 98.1,224.5 97.6,224.2 97.1,224.1 96.6,223.8 96.1,223.6 95.6,223.4 95.1,223.1 94.6,223.0 94.1,222.7 93.6,222.6 93.1,222.3 92.6,222.2 92.1,221.8 91.6,221.7 91.1,221.5 90.6,221.2 90.1,221.2 89.6,221.0 89.1,220.6 88.6,220.5 88.1,220.4 87.6,220.1 87.1,220.0 86.6,219.7 86.1,219.4 85.6,219.3 85.1,219.0 84.6,218.9 84.1,218.6 83.6,218.3 83.1,218.3 82.6,218.0 82.1,217.8 81.6,217.7 81.1,217.4 80.6,217.2 80.1,217.1 79.6,216.8 79.1,216.6 78.6,216.5 78.1,216.1 77.6,216.0 77.1,215.7 76.6,215.4 76.1,215.3 75.6,214.9 75.1,214.8 74.6,214.4 74.1,214.3 73.6,213.9 73.1,213.7 72.6,213.4 72.1,213.2 71.6,212.9 71.1,212.6 70.6,212.4 70.1,212.0 69.6,211.9 69.1,211.5 68.6,211.4 68.1,211.0 67.6,210.8 67.1,210.5 66.6,210.1 66.1,210.0 65.6,209.5 65.1,209.4 64.6,209.0 64.1,208.7 63.6,208.4 63.1,208.0 62.6,207.8 62.1,207.4 61.6,207.2 61.1,207.0 60.6,206.7 60.1,206.3 59.6,206.3 59.1,206.0 58.6,205.8 58.1,205.6 57.6,204.5" fill="#d6d6d6"/>
<polygon points="58.1,204.0 58.6,204.2 59.1,204.4 59.6,204.7 60.1,204.9 60.6,205.1 61.1,205.4 61.6,205.6 62.1,205.8 62.6,206.1 63.1,206.4 63.6,206.7 64.1,207.0 64.6,207.2 65.1,207.6 65.6,207.9 66.1,208.2 66.6,208.4 67.1,208.7 67.6,209.0 68.1,209.2 68.6,209.5 69.1,209.7 69.6,210.0 70.1,210.3 70.6,210.5 71.1,210.8 71.6,211.0 72.1,211.3 72.6,211.5 73.1,211.8 73.6,212.0 74.1,212.3 74.6,212.5 75.1,212.8 75.6,213.0 76.1,213.3 76.6,213.5 77.1,213.7 77.6,214.0 78.1,214.2 78.6,214.5 79.1,214.6 79.6,214.9 80.1,215.1 80.6,215.2 81.1,215.4 81.6,215.6 82.1,215.8 82.6,215.9 83.1,216.2 83.6,216.3 84.1,216.5 84.6,216.7 85.1,216.9 85.6,217.2 86.1,217.3 86.6,217.6 87.1,217.8 87.6,218.0 88.1,218.2 88.6,218.3 89.1,218.5 89.6,218.7 90.1,218.9 90.6,219.1 91.1,219.3 91.6,219.4 92.1,219.6 92.6,219.8 93.1,220.0 93.6,220.2 94.1,220.4 94.6,220.6 95.1,220.8 95.6,221.0 96.1,221.2 96.6,221.4 97.1,221.7 97.6,221.9 98.1,222.1 98.6,222.3 99.1,222.6 99.6,222.8 100.1,223.0 100.6,223.2 101.1,223.4 101.6,223.5 102.1,223.7 102.6,223.9 103.1,224.0 103.6,224.2 104.1,224.3 104.6,224.5 105.1,224.6 105.6,224.8 106.1,225.0 106.6,225.2 107.1,225.5 107.6,225.7 108.1,226.0 108.6,226.3 109.1,226.6 109.6,226.8 110.1,227.1 110.6,227.3 111.1,227.6 111.6,227.8 112.1,228.0 112.6,228.3 113.1,228.5 113.6,228.7 114.1,229.0 114.6,229.2 115.1,229.4 115.6,229.6 116.1,229.8 116.6,230.0 117.1,230.2 117.6,230.5 118.1,230.7 118.6,230.9 119.1,231.1 119.6,231.4 120.1,231.7 120.6,231.9 121.1,232.2 121.6,232.4 122.1,232.7 122.6,232.9 123.1,233.2 123.6,233.5 124.1,233.8 124.6,234.1 125.1,234.4 125.6,234.7 126.1,235.0 126.6,235.3 127.1,235.6 127.6,235.8 128.1,236.1 128.6,236.3 129.1,236.6 129.6,236.9 130.1,237.1 130.6,237.4 131.1,237.6 131.6,237.8 132.1,238.0 132.6,238.2 133.1,238.5 133.6,238.7 134.1,238.9 134.6,239.1 135.1,239.4 135.6,239.7 136.1,240.0 136.6,240.3 137.1,240.7 137.6,241.0 138.1,241.5 138.6,241.9 139.1,242.3 139.6,242.7 140.1,243.1 140.6,243.5 141.1,243.8 141.6,244.2 142.1,244.5 142.6,244.9 143.1,245.2 143.6,245.5 144.1,245.9 144.6,246.2 145.1,246.6 145.6,246.9 146.1,247.3 146.6,247.6 147.1,247.9 147.6,248.2 148.1,248.6 148.6,248.9 149.1,249.3 149.6,249.7 150.1,250.1 150.6,250.6 151.1,250.9 151.6,251.3 152.1,251.7 152.6,252.1 153.1,252.5 153.6,252.9 154.1,253.3 154.6,253.7 155.1,254.1 155.6,254.5 156.1,254.9 156.6,255.3 157.1,255.7 157.6,256.2 158.1,256.6 158.6,257.1 159.1,257.5 159.6,257.9 160.1,258.4 160.6,258.8 161.1,259.3 161.6,259.8 162.1,260.3 162.6,260.8 163.1,261.4 163.6,261.9 164.1,262.6 164.6,263.2 165.1,263.8 165.6,264.4 166.1,265.1 166.6,265.7 167.1,266.4 167.6,266.8 168.1,267.3 168.6,267.8 169.1,268.3 169.6,268.9 170.1,269.4 170.6,269.9 171.1,270.5 171.6,271.1 172.1,271.7 172.6,272.2 173.1,272.8 173.6,273.4 174.1,274.1 174.6,274.8 175.1,275.5 175.6,276.3 176.1,277.1 176.6,277.9 177.1,278.8 177.6,279.7 178.1,280.7 178.6,281.7 179.1,282.8 179.6,283.9 180.1,285.1 180.6,286.5 181.1,288.2 181.6,286.9 182.1,285.2 182.6,283.8 183.1,282.5 183.6,281.4 184.1,280.3 184.6,279.2 185.1,278.2 185.6,277.1 186.1,276.0 186.6,274.9 187.1,273.9 187.6,272.9 188.1,272.0 188.6,271.1 189.1,270.3 189.6,269.6 190.1,268.9 190.6,268.3 191.1,267.7 191.6,267.1 192.1,266.5 192.6,265.9 193.1,265.3 193.6,264.8 194.1,264.2 194.6,263.7 195.1,263.2 195.6,262.7 196.1,262.2 196.6,261.8 197.1,261.3 197.6,260.9 198.1,260.5 198.6,260.1 199.1,259.8 199.6,259.4 200.1,259.1 200.6,258.7 201.1,258.4 201.6,258.1 202.1,257.8 202.6,257.5 203.1,257.2 203.6,256.9 204.1,256.5 204.6,256.1 205.1,255.7 205.6,255.4 206.1,255.0 206.6,254.6 207.1,254.3 207.6,254.0 208.1,253.7 208.6,253.4 209.1,253.1 209.6,252.8 210.1,252.5 210.6,252.2 211.1,252.0 211.6,251.7 212.1,251.4 212.6,251.2 213.1,250.9 213.6,250.7 214.1,250.4 214.6,250.2 215.1,249.9 215.6,249.7 216.1,249.5 216.6,249.3 217.1,249.0 217.6,248.8 218.1,248.6 218.6,248.4 219.1,248.2 219.6,248.0 220.1,247.8 220.6,247.6 221.1,247.4 221.6,247.3 222.1,247.1 222.6,246.9 223.1,246.7 223.6,246.5 224.1,246.3 224.6,246.1 225.1,245.9 225.6,245.7 226.1,245.6 226.6,245.4 227.1,245.2 227.6,245.0 228.1,244.9 228.6,244.7 229.1,244.5 229.6,244.3 230.1,244.1 230.6,243.9 231.1,243.8 231.6,243.6 232.1,243.3 232.6,243.1 233.1,243.0 233.6,242.8 234.1,242.6 234.6,242.4 235.1,242.2 235.6,242.0 236.1,241.8 236.6,241.6 237.1,241.4 237.6,241.3 238.1,241.1 238.6,240.9 239.1,240.8 239.6,240.6 240.1,240.5 240.6,240.3 241.1,240.2 241.6,240.0 242.1,239.9 242.6,239.8 243.1,239.6 243.6,239.5 244.1,239.4 244.6,239.3 245.1,239.1 245.6,239.0 246.1,238.9 246.6,238.8 247.1,238.7 247.6,238.6 248.1,238.5 248.6,238.4 249.1,238.2 249.6,238.1 250.1,238.1 250.6,237.9 251.1,237.8 251.6,237.7 252.1,237.6 252.6,237.5 253.1,237.4 253.6,237.3 254.1,237.2 254.6,237.0 255.1,236.9 255.6,236.8 256.1,236.8 256.6,236.5 257.1,236.5 257.6,236.3 258.1,236.2 258.6,236.2 259.1,235.9 259.6,235.8 260.1,235.8 260.6,235.5 261.1,235.5 261.6,235.3 262.1,235.1 262.6,235.1 263.1,234.9 263.6,234.8 264.1,234.8 264.6,234.5 265.1,234.4 265.6,234.5 266.1,234.2 266.6,234.1 267.1,234.1 267.6,233.8 268.1,233.7 268.6,233.8 269.1,233.5 269.6,233.4 270.1,233.4 270.6,233.1 271.1,233.1 271.6,233.1 272.1,232.8 272.6,232.8 273.1,232.7 273.6,232.5 274.1,232.5 274.6,232.5 275.1,232.3 275.6,232.3 276.1,232.2 276.6,232.0 277.1,232.0 277.6,231.9 278.1,231.7 278.6,231.7 279.1,231.6 279.6,231.5 280.1,231.5 280.6,231.4 281.1,231.2 281.6,231.2 282.1,231.2 282.6,231.0 283.1,231.0 283.6,230.9 284.1,230.7 284.6,230.8 285.1,230.7 285.6,230.5 286.1,230.5 286.6,230.4 287.1,230.3 287.6,230.3 288.1,230.2 288.6,230.0 289.1,230.1 289.6,229.9 290.1,229.8 290.6,229.9 291.1,229.7 291.6,229.6 292.1,229.7 292.6,229.4 293.1,229.4 293.6,229.5 294.1,229.2 294.6,229.2 295.1,229.2 295.6,229.0 296.1,229.0 296.6,229.0 297.1,228.8 297.6,228.8 298.1,228.7 298.6,228.6 299.1,228.6 299.6,228.5 300.1,228.4 300.6,228.5 301.1,228.3 301.6,228.2 302.1,228.3 302.6,228.1 303.1,228.0 303.6,228.1 304.1,227.9 304.6,227.9 305.1,227.9 305.6,227.7 306.1,227.7 306.6,227.7 307.1,227.5 307.6,227.5 308.1,227.4 308.6,227.3 309.1,227.4 309.6,227.2 310.1,227.1 310.6,227.3 311.1,227.0 311.6,227.0 312.1,227.1 312.6,226.8 313.1,226.8 313.6,226.9 314.1,226.7 314.6,226.7 315.1,226.7 315.6,226.5 316.1,226.6 316.6,226.5 317.1,226.3 317.6,226.4 318.1,226.3 318.6,226.2 319.1,226.3 319.6,226.1 320.1,226.0 320.6,226.2 321.1,225.9 321.6,225.9 322.1,226.0 322.6,225.7 323.1,225.7 323.6,225.8 324.1,225.6 324.6,225.6 325.1,225.6 325.6,225.4 326.1,225.5 326.6,225.4 327.1,225.2 327.6,225.4 328.1,225.2 328.6,225.1 329.1,225.3 329.6,225.0 330.1,225.0 330.6,225.2 331.1,224.8 331.6,224.8 332.1,225.0 332.6,224.7 333.1,224.7 333.6,224.8 334.1,224.5 334.6,224.6 335.1,224.6 335.6,224.4 336.1,224.5 336.6,224.4 337.1,224.2 337.6,224.3 338.1,224.2 338.6,224.1 339.1,224.2 339.6,224.0 340.1,224.0 340.6,224.2 341.1,223.9 341.6,223.8 342.1,224.0 342.6,223.7 343.1,223.7 343.6,223.8 344.1,223.6 344.6,223.6 345.1,223.6 345.6,223.4 346.1,223.5 346.6,223.4 347.1,223.3 347.6,223.4 348.1,223.3 348.6,223.2 349.1,223.4 349.6,223.1 350.1,223.0 350.6,223.3 351.1,222.9 351.6,222.9 352.1,223.0 352.6,222.8 353.1,222.8 353.6,222.8 354.1,222.7 354.6,222.8 355.1,222.7 355.6,222.5 356.1,222.7 356.6,222.5 357.1,222.4 357.6,222.6 358.1,222.3 358.6,222.3 359.1,222.5 359.6,222.2 360.1,222.2 360.6,222.3 361.1,222.1 361.6,222.1 362.1,222.2 362.6,221.9 363.1,222.0 363.6,222.0 364.1,221.8 364.6,222.0 365.1,221.8 365.6,221.7 366.1,221.9 366.6,221.7 367.1,221.6 367.6,221.9 368.1,221.5 368.6,221.5 369.1,221.7 369.6,221.4 370.1,221.5 370.6,221.5 371.1,221.3 371.6,221.4 372.1,221.3 372.6,221.2 373.1,221.3 373.6,221.2 374.1,221.1 374.6,221.3 375.1,221.0 375.6,221.0 376.1,221.3 376.6,220.9 377.1,220.8 377.6,221.1 378.1,220.8 378.6,220.7 379.1,220.9 379.6,220.8 380.1,220.6 380.6,220.7 381.1,220.8 381.6,220.4 382.1,220.5 382.6,220.7 383.1,220.3 383.6,220.3 384.1,220.6 384.6,220.2 385.1,220.2 385.6,220.4 386.1,220.1 386.6,220.1 387.1,220.1 387.6,219.9 388.1,220.2 388.6,219.9 389.1,220.0 389.6,219.8 390.1,219.8 390.6,219.7 391.1,220.0 391.1,221.1 390.6,222.0 390.1,221.7 389.6,222.1 389.1,221.8 388.6,222.2 388.1,221.6 387.6,222.4 387.1,221.8 386.6,222.1 386.1,222.4 385.6,221.5 385.1,222.4 384.6,222.5 384.1,221.4 383.6,222.6 383.1,222.7 382.6,221.6 382.1,222.6 381.6,222.9 381.1,222.0 380.6,222.6 380.1,223.2 379.6,222.4 379.1,222.5 378.6,223.4 378.1,222.8 377.6,222.5 377.1,223.5 376.6,223.1 376.1,222.6 375.6,223.6 375.1,223.3 374.6,222.9 374.1,223.8 373.6,223.4 373.1,223.3 372.6,224.0 372.1,223.3 371.6,223.6 371.1,224.1 370.6,223.2 370.1,224.0 369.6,224.2 369.1,223.2 368.6,224.2 368.1,224.2 367.6,223.6 367.1,224.5 366.6,224.2 366.1,223.9 365.6,224.7 365.1,224.2 364.6,224.2 364.1,224.9 363.6,224.2 363.1,224.5 362.6,225.0 362.1,224.1 361.6,224.8 361.1,225.1 360.6,224.1 360.1,225.1 359.6,225.1 359.1,224.4 358.6,225.3 358.1,225.1 357.6,224.7 357.1,225.6 356.6,225.2 356.1,225.1 355.6,225.8 355.1,225.1 354.6,225.4 354.1,225.9 353.6,225.1 353.1,225.7 352.6,226.0 352.1,225.1 351.6,226.0 351.1,226.1 350.6,225.4 350.1,226.3 349.6,226.1 349.1,225.7 348.6,226.6 348.1,226.1 347.6,226.1 347.1,226.8 346.6,226.1 346.1,226.4 345.6,226.9 345.1,226.1 344.6,226.7 344.1,227.0 343.6,226.1 343.1,227.0 342.6,227.1 342.1,226.4 341.6,227.3 341.1,227.1 340.6,226.7 340.1,227.6 339.6,227.1 339.1,227.1 338.6,227.8 338.1,227.2 337.6,227.4 337.1,228.0 336.6,227.2 336.1,227.7 335.6,228.1 335.1,227.3 334.6,228.0 334.1,228.2 333.6,227.3 333.1,228.3 332.6,228.3 332.1,227.6 331.6,228.5 331.1,228.4 330.6,227.9 330.1,228.8 329.6,228.5 329.1,228.2 328.6,229.0 328.1,228.5 327.6,228.6 327.1,229.3 326.6,228.6 326.1,228.9 325.6,229.4 325.1,228.7 324.6,229.2 324.1,229.5 323.6,228.7 323.1,229.5 322.6,229.7 322.1,228.9 321.6,229.8 321.1,229.7 320.6,229.2 320.1,230.1 319.6,229.8 319.1,229.6 318.6,230.4 318.1,229.9 317.6,230.0 317.1,230.6 316.6,229.9 316.1,230.3 315.6,230.7 315.1,229.9 314.6,230.7 314.1,230.8 313.6,230.0 313.1,231.0 312.6,230.9 312.1,230.4 311.6,231.3 311.1,231.0 310.6,230.8 310.1,231.6 309.6,231.0 309.1,231.2 308.6,231.8 308.1,231.1 307.6,231.6 307.1,231.9 306.6,231.1 306.1,231.9 305.6,232.0 305.1,231.3 304.6,232.2 304.1,232.1 303.6,231.7 303.1,232.5 302.6,232.2 302.1,232.1 301.6,232.8 301.1,232.3 300.6,232.5 300.1,233.1 299.6,232.4 299.1,232.9 298.6,233.3 298.1,232.5 297.6,233.3 297.1,233.4 296.6,232.7 296.1,233.7 295.6,233.6 295.1,233.1 294.6,234.0 294.1,233.7 293.6,233.6 293.1,234.4 292.6,233.9 292.1,234.0 291.6,234.7 291.1,234.0 290.6,234.4 290.1,234.9 289.6,234.2 289.1,234.8 288.6,235.2 288.1,234.4 287.6,235.1 287.1,235.4 286.6,234.6 286.1,235.5 285.6,235.7 285.1,234.8 284.6,235.8 284.1,236.0 283.6,235.1 283.1,236.1 282.6,236.3 282.1,235.4 281.6,236.5 281.1,236.6 280.6,235.7 280.1,236.8 279.6,236.9 279.1,236.0 278.6,237.1 278.1,237.2 277.6,236.4 277.1,237.5 276.6,237.6 276.1,236.8 275.6,237.8 275.1,237.9 274.6,237.2 274.1,238.2 273.6,238.2 273.1,237.7 272.6,238.7 272.1,238.4 271.6,238.2 271.1,239.1 270.6,238.6 270.1,238.8 269.6,239.5 269.1,238.9 268.6,239.3 268.1,239.9 267.6,239.2 267.1,239.8 266.6,240.3 266.1,239.5 265.6,240.3 265.1,240.7 264.6,239.8 264.1,240.8 263.6,241.0 263.1,240.3 262.6,241.4 262.1,241.4 261.6,241.0 261.1,241.9 260.6,241.6 260.1,241.7 259.6,242.5 259.1,241.7 258.6,242.5 258.1,242.7 257.6,242.4 257.1,243.3 256.6,242.7 256.1,243.4 255.6,243.5 255.1,243.5 254.6,244.0 254.1,243.7 253.6,244.3 253.1,244.0 252.6,244.6 252.1,244.5 251.6,244.8 251.1,244.9 250.6,244.9 250.1,245.4 249.6,245.2 249.1,245.5 248.6,245.8 248.1,245.7 247.6,245.9 247.1,246.3 246.6,246.3 246.1,246.2 245.6,246.7 245.1,246.9 244.6,246.9 244.1,246.9 243.6,247.3 243.1,247.6 242.6,247.7 242.1,247.9 241.6,248.1 241.1,248.2 240.6,248.4 240.1,248.6 239.6,248.8 239.1,248.9 238.6,249.0 238.1,249.2 237.6,249.6 237.1,249.9 236.6,250.1 236.1,250.1 235.6,250.2 235.1,250.7 234.6,251.0 234.1,251.2 233.6,251.2 233.1,251.5 232.6,251.9 232.1,252.2 231.6,252.2 231.1,252.3 230.6,252.8 230.1,253.1 229.6,253.3 229.1,253.4 228.6,253.5 228.1,254.0 227.6,254.3 227.1,254.4 226.6,254.5 226.1,254.8 225.6,255.2 225.1,255.4 224.6,255.6 224.1,255.7 223.6,256.0 223.1,256.4 222.6,256.6 222.1,256.8 221.6,256.9 221.1,257.3 220.6,257.6 220.1,257.9 219.6,258.0 219.1,258.1 218.6,258.6 218.1,258.9 217.6,259.1 217.1,259.3 216.6,259.5 216.1,260.0 215.6,260.3 215.1,260.6 214.6,260.8 214.1,261.1 213.6,261.5 213.1,261.9 212.6,262.1 212.1,262.4 211.6,262.8 211.1,263.2 210.6,263.5 210.1,263.8 209.6,264.1 209.1,264.6 208.6,265.0 208.1,265.4 207.6,265.8 207.1,266.1 206.6,266.7 206.1,267.1 205.6,267.6 205.1,268.6 204.6,269.6 204.1,270.7 203.6,271.8 203.1,272.8 202.6,273.9 202.1,275.0 201.6,276.2 201.1,277.3 200.6,278.5 200.1,279.7 199.6,280.9 199.1,282.2 198.6,283.4 198.1,284.8 197.6,286.1 197.1,287.4 196.6,288.8 196.1,290.1 195.6,291.5 195.1,293.0 194.6,294.4 194.1,295.9 193.6,297.9 193.1,302.2 192.6,306.5 192.1,310.7 191.6,315.2 191.1,319.7 190.6,324.3 190.1,328.9 189.6,333.4 189.1,337.7 188.6,341.8 188.1,345.8 187.6,349.6 187.1,353.3 186.6,356.7 186.1,360.0 185.6,363.0 185.1,365.9 184.6,368.5 184.1,370.8 183.6,372.8 183.1,374.5 182.6,375.6 182.1,375.8 181.6,374.7 181.1,373.2 180.6,371.2 180.1,368.9 179.6,366.4 179.1,363.6 178.6,360.6 178.1,357.4 177.6,354.0 177.1,350.4 176.6,346.6 176.1,342.6 175.6,338.6 175.1,334.7 174.6,330.7 174.1,326.8 173.6,322.9 173.1,318.9 172.6,315.1 172.1,311.2 171.6,307.3 171.1,303.3 170.6,299.3 170.1,296.1 169.6,293.9 169.1,291.9 168.6,290.0 168.1,288.1 167.6,286.3 167.1,284.5 166.6,282.7 166.1,280.9 165.6,279.2 165.1,277.5 164.6,275.8 164.1,274.2 163.6,272.7 163.1,271.7 162.6,270.9 162.1,270.0 161.6,269.3 161.1,268.5 160.6,267.8 160.1,267.0 159.6,266.4 159.1,265.7 158.6,265.1 158.1,264.5 157.6,263.8 157.1,263.2 156.6,262.6 156.1,262.0 155.6,261.4 155.1,260.9 154.6,260.3 154.1,259.7 153.6,259.2 153.1,258.6 152.6,258.1 152.1,257.5 151.6,256.9 151.1,256.4 150.6,255.8 150.1,255.2 149.6,254.7 149.1,254.2 148.6,253.8 148.1,253.4 147.6,253.0 147.1,252.6 146.6,252.2 146.1,251.9 145.6,251.5 145.1,251.1 144.6,250.7 144.1,250.4 143.6,250.0 143.1,249.6 142.6,249.2 142.1,248.8 141.6,248.5 141.1,248.0 140.6,247.7 140.1,247.2 139.6,246.9 139.1,246.5 138.6,246.1 138.1,245.6 137.6,245.1 137.1,244.6 136.6,244.3 136.1,243.8 135.6,243.4 135.1,243.2 134.6,242.9 134.1,242.6 133.6,242.3 133.1,242.0 132.6,241.7 132.1,241.4 131.6,241.2 131.1,240.9 130.6,240.7 130.1,240.5 129.6,240.2 129.1,239.8 128.6,239.6 128.1,239.3 127.6,239.0 127.1,238.6 126.6,238.4 126.1,238.0 125.6,237.8 125.1,237.3 124.6,237.1 124.1,236.7 123.6,236.4 123.1,236.1 122.6,235.7 122.1,235.5 121.6,235.1 121.1,234.9 120.6,234.6 120.1,234.2 119.6,234.0 119.1,233.6 118.6,233.5 118.1,233.2 117.6,233.0 117.1,232.7 116.6,232.5 116.1,232.3 115.6,232.0 115.1,231.9 114.6,231.5 114.1,231.5 113.6,231.1 113.1,231.0 112.6,230.7 112.1,230.4 111.6,230.3 111.1,229.8 110.6,229.8 110.1,229.4 109.6,229.3 109.1,228.9 108.6,228.7 108.1,228.4 107.6,228.1 107.1,227.9 106.6,227.4 106.1,227.4 105.6,227.0 105.1,226.9 104.6,226.8 104.1,226.5 103.6,226.2 103.1,226.2 102.6,226.1 102.1,225.9 101.6,225.6 101.1,225.5 100.6,225.4 100.1,225.1 99.6,224.8 99.1,224.7 98.6,224.5 98.1,224.2 97.6,224.0 97.1,223.8 96.6,223.5 96.1,223.3 95.6,223.1 95.1,222.8 94.6,222.7 94.1,222.4 93.6,222.3 93.1,222.0 92.6,221.9 92.1,221.5 91.6,221.5 91.1,221.3 90.6,220.9 90.1,220.9 89.6,220.7 89.1,220.4 88.6,220.3 88.1,220.1 87.6,219.8 87.1,219.7 86.6,219.5 86.1,219.2 85.6,219.1 85.1,218.7 84.6,218.6 84.1,218.4 83.6,218.1 83.1,218.0 82.6,217.7 82.1,217.5 81.6,217.5 81.1,217.2 80.6,216.9 80.1,216.9 79.6,216.6 79.1,216.3 78.6,216.3 78.1,215.9 77.6,215.8 77.1,215.5 76.6,215.2 76.1,215.0 75.6,214.6 75.1,214.5 74.6,214.1 74.1,214.0 73.6,213.6 73.1,213.5 72.6,213.1 72.1,213.0 71.6,212.6 71.1,212.4 70.6,212.1 70.1,211.8 69.6,211.7 69.1,211.2 68.6,211.1 68.1,210.8 67.6,210.5 67.1,210.3 66.6,209.9 66.1,209.8 65.6,209.3 65.1,209.2 64.6,208.7 64.1,208.5 63.6,208.2 63.1,207.7 62.6,207.6 62.1,207.1 61.6,207.0 61.1,206.8 60.6,206.5 60.1,206.1 59.6,206.0 59.1,205.8 58.6,205.6 58.1,205.4" fill="#c8c8c8"/>
<polygon points="58.1,204.2 58.6,204.4 59.1,204.7 59.6,204.9 60.1,205.1 60.6,205.4 61.1,205.6 61.6,205.8 62.1,206.0 62.6,206.4 63.1,206.6 63.6,206.9 64.1,207.2 64.6,207.5 65.1,207.8 65.6,208.1 66.1,208.5 66.6,208.7 67.1,209.0 67.6,209.2 68.1,209.5 68.6,209.8 69.1,210.0 69.6,210.3 70.1,210.5 70.6,210.8 71.1,211.0 71.6,211.3 72.1,211.5 72.6,211.8 73.1,212.1 73.6,212.3 74.1,212.6 74.6,212.8 75.1,213.1 75.6,213.3 76.1,213.6 76.6,213.8 77.1,214.0 77.6,214.3 78.1,214.5 78.6,214.7 79.1,214.9 79.6,215.1 80.1,215.3 80.6,215.5 81.1,215.7 81.6,215.9 82.1,216.0 82.6,216.2 83.1,216.4 83.6,216.6 84.1,216.8 84.6,217.0 85.1,217.2 85.6,217.5 86.1,217.6 86.6,217.9 87.1,218.1 87.6,218.3 88.1,218.5 88.6,218.6 89.1,218.8 89.6,219.1 90.1,219.2 90.6,219.4 91.1,219.6 91.6,219.8 92.1,219.9 92.6,220.2 93.1,220.3 93.6,220.6 94.1,220.7 94.6,221.0 95.1,221.1 95.6,221.4 96.1,221.6 96.6,221.8 97.1,222.0 97.6,222.2 98.1,222.4 98.6,222.7 99.1,222.9 99.6,223.1 100.1,223.3 100.6,223.5 101.1,223.7 101.6,223.9 102.1,224.1 102.6,224.2 103.1,224.4 103.6,224.5 104.1,224.7 104.6,224.9 105.1,225.0 105.6,225.2 106.1,225.4 106.6,225.6 107.1,225.9 107.6,226.1 108.1,226.4 108.6,226.7 109.1,226.9 109.6,227.2 110.1,227.5 110.6,227.7 111.1,227.9 111.6,228.2 112.1,228.4 112.6,228.6 113.1,228.9 113.6,229.1 114.1,229.4 114.6,229.5 115.1,229.8 115.6,230.0 116.1,230.2 116.6,230.4 117.1,230.6 117.6,230.9 118.1,231.1 118.6,231.3 119.1,231.6 119.6,231.8 120.1,232.1 120.6,232.3 121.1,232.6 121.6,232.8 122.1,233.1 122.6,233.4 123.1,233.7 123.6,234.0 124.1,234.3 124.6,234.6 125.1,234.9 125.6,235.2 126.1,235.5 126.6,235.7 127.1,236.0 127.6,236.3 128.1,236.6 128.6,236.8 129.1,237.1 129.6,237.4 130.1,237.7 130.6,237.9 131.1,238.1 131.6,238.3 132.1,238.6 132.6,238.8 133.1,239.0 133.6,239.2 134.1,239.5 134.6,239.7 135.1,240.0 135.6,240.3 136.1,240.6 136.6,240.9 137.1,241.3 137.6,241.7 138.1,242.1 138.6,242.5 139.1,242.9 139.6,243.4 140.1,243.7 140.6,244.1 141.1,244.5 141.6,244.8 142.1,245.2 142.6,245.5 143.1,245.9 143.6,246.2 144.1,246.6 144.6,246.9 145.1,247.3 145.6,247.6 146.1,247.9 146.6,248.3 147.1,248.6 147.6,249.0 148.1,249.3 148.6,249.7 149.1,250.1 149.6,250.5 150.1,250.9 150.6,251.3 151.1,251.8 151.6,252.2 152.1,252.6 152.6,253.1 153.1,253.5 153.6,253.9 154.1,254.4 154.6,254.8 155.1,255.2 155.6,255.6 156.1,256.1 156.6,256.5 157.1,257.0 157.6,257.5 158.1,257.9 158.6,258.4 159.1,258.9 159.6,259.4 160.1,259.9 160.6,260.4 161.1,260.9 161.6,261.5 162.1,262.0 162.6,262.6 163.1,263.3 163.6,263.9 164.1,264.5 164.6,265.2 165.1,266.0 165.6,266.6 166.1,267.3 166.6,268.0 167.1,268.6 167.6,269.3 168.1,269.9 168.6,270.6 169.1,271.3 169.6,272.0 170.1,272.8 170.6,273.5 171.1,274.3 171.6,275.0 172.1,275.7 172.6,276.5 173.1,277.3 173.6,278.1 174.1,279.0 174.6,280.0 175.1,281.0 175.6,282.0 176.1,283.1 176.6,284.2 177.1,285.4 177.6,286.7 178.1,288.1 178.6,289.9 179.1,292.0 179.6,294.4 180.1,296.4 180.6,298.0 181.1,299.6 181.6,301.1 182.1,300.2 182.6,298.2 183.1,296.2 183.6,294.0 184.1,291.2 184.6,288.7 185.1,286.8 185.6,285.1 186.1,283.6 186.6,282.3 187.1,281.1 187.6,279.8 188.1,278.7 188.6,277.6 189.1,276.5 189.6,275.5 190.1,274.5 190.6,273.7 191.1,272.9 191.6,272.2 192.1,271.5 192.6,270.8 193.1,270.1 193.6,269.5 194.1,268.9 194.6,268.2 195.1,267.5 195.6,266.9 196.1,266.2 196.6,265.6 197.1,265.0 197.6,264.3 198.1,263.8 198.6,263.2 199.1,262.7 199.6,262.2 200.1,261.7 200.6,261.2 201.1,260.8 201.6,260.4 202.1,259.9 202.6,259.4 203.1,259.0 203.6,258.7 204.1,258.2 204.6,257.8 205.1,257.4 205.6,257.1 206.1,256.7 206.6,256.3 207.1,255.9 207.6,255.6 208.1,255.2 208.6,254.9 209.1,254.6 209.6,254.3 210.1,254.0 210.6,253.7 211.1,253.4 211.6,253.1 212.1,252.8 212.6,252.5 213.1,252.3 213.6,252.0 214.1,251.7 214.6,251.5 215.1,251.3 215.6,251.0 216.1,250.7 216.6,250.5 217.1,250.3 217.6,250.0 218.1,249.8 218.6,249.6 219.1,249.4 219.6,249.2 220.1,249.0 220.6,248.8 221.1,248.6 221.6,248.4 222.1,248.2 222.6,248.0 223.1,247.8 223.6,247.6 224.1,247.4 224.6,247.2 225.1,247.0 225.6,246.8 226.1,246.6 226.6,246.4 227.1,246.2 227.6,246.0 228.1,245.9 228.6,245.7 229.1,245.4 229.6,245.3 230.1,245.1 230.6,244.9 231.1,244.7 231.6,244.5 232.1,244.3 232.6,244.1 233.1,243.9 233.6,243.7 234.1,243.5 234.6,243.3 235.1,243.1 235.6,242.9 236.1,242.7 236.6,242.5 237.1,242.4 237.6,242.2 238.1,242.0 238.6,241.8 239.1,241.7 239.6,241.5 240.1,241.3 240.6,241.2 241.1,241.1 241.6,240.9 242.1,240.8 242.6,240.7 243.1,240.5 243.6,240.4 244.1,240.2 244.6,240.1 245.1,240.1 245.6,239.9 246.1,239.8 246.6,239.7 247.1,239.6 247.6,239.4 248.1,239.3 248.6,239.2 249.1,239.1 249.6,239.0 250.1,238.9 250.6,238.8 251.1,238.7 251.6,238.5 252.1,238.5 252.6,238.3 253.1,238.2 253.6,238.1 254.1,238.0 254.6,237.9 255.1,237.9 255.6,237.6 256.1,237.6 256.6,237.4 257.1,237.3 257.6,237.2 258.1,237.0 258.6,237.0 259.1,236.8 259.6,236.6 260.1,236.7 260.6,236.3 261.1,236.3 261.6,236.2 262.1,235.9 262.6,235.9 263.1,235.8 263.6,235.6 264.1,235.6 264.6,235.4 265.1,235.2 265.6,235.3 266.1,235.0 266.6,234.8 267.1,234.9 267.6,234.6 268.1,234.5 268.6,234.6 269.1,234.3 269.6,234.2 270.1,234.3 270.6,233.9 271.1,233.9 271.6,234.0 272.1,233.6 272.6,233.6 273.1,233.7 273.6,233.3 274.1,233.3 274.6,233.3 275.1,233.0 275.6,233.0 276.1,233.1 276.6,232.8 277.1,232.8 277.6,232.8 278.1,232.5 278.6,232.5 279.1,232.5 279.6,232.2 280.1,232.2 280.6,232.3 281.1,232.0 281.6,232.0 282.1,232.0 282.6,231.7 283.1,231.7 283.6,231.8 284.1,231.5 284.6,231.5 285.1,231.5 285.6,231.2 286.1,231.3 286.6,231.2 287.1,231.0 287.6,231.1 288.1,231.0 288.6,230.7 289.1,230.8 289.6,230.7 290.1,230.5 290.6,230.6 291.1,230.4 291.6,230.3 292.1,230.5 292.6,230.2 293.1,230.1 293.6,230.3 294.1,229.9 294.6,229.9 295.1,230.1 295.6,229.7 296.1,229.7 296.6,229.8 297.1,229.5 297.6,229.5 298.1,229.5 298.6,229.3 299.1,229.4 299.6,229.3 300.1,229.1 300.6,229.2 301.1,229.0 301.6,228.9 302.1,229.1 302.6,228.8 303.1,228.7 303.6,229.0 304.1,228.6 304.6,228.5 305.1,228.7 305.6,228.4 306.1,228.4 306.6,228.4 307.1,228.2 307.6,228.2 308.1,228.2 308.6,228.0 309.1,228.1 309.6,227.9 310.1,227.8 310.6,228.0 311.1,227.7 311.6,227.6 312.1,227.9 312.6,227.5 313.1,227.5 313.6,227.7 314.1,227.3 314.6,227.4 315.1,227.4 315.6,227.1 316.1,227.2 316.6,227.2 317.1,227.0 317.6,227.1 318.1,226.9 318.6,226.8 319.1,227.0 319.6,226.7 320.1,226.7 320.6,227.0 321.1,226.5 321.6,226.5 322.1,226.8 322.6,226.4 323.1,226.4 323.6,226.5 324.1,226.2 324.6,226.3 325.1,226.3 325.6,226.0 326.1,226.2 326.6,226.0 327.1,225.9 327.6,226.1 328.1,225.8 328.6,225.7 329.1,226.0 329.6,225.6 330.1,225.6 330.6,225.9 331.1,225.5 331.6,225.4 332.1,225.9 332.6,225.3 333.1,225.3 333.6,225.6 334.1,225.1 334.6,225.2 335.1,225.3 335.6,225.0 336.1,225.1 336.6,225.1 337.1,224.8 337.6,225.0 338.1,224.9 338.6,224.7 339.1,224.9 339.6,224.7 340.1,224.5 340.6,224.9 341.1,224.5 341.6,224.4 342.1,224.9 342.6,224.3 343.1,224.3 343.6,224.6 344.1,224.1 344.6,224.2 345.1,224.3 345.6,224.0 346.1,224.1 346.6,224.1 347.1,223.8 347.6,224.1 348.1,223.8 348.6,223.7 349.1,224.0 349.6,223.6 350.1,223.6 350.6,224.2 351.1,223.5 351.6,223.5 352.1,223.9 352.6,223.3 353.1,223.4 353.6,223.5 354.1,223.2 354.6,223.3 355.1,223.3 355.6,223.0 356.1,223.3 356.6,223.1 357.1,222.9 357.6,223.3 358.1,222.9 358.6,222.8 359.6,222.7 360.1,222.7 361.1,222.6 361.6,222.7 362.1,222.9 362.6,222.4 363.1,222.6 363.6,222.6 364.1,222.3 364.6,222.6 365.1,222.4 365.6,222.2 366.1,222.6 366.6,222.2 367.1,222.1 368.1,222.0 368.6,222.0 369.6,221.9 370.1,222.0 371.1,221.7 371.6,221.9 372.1,221.9 372.6,221.6 373.1,221.9 373.6,221.7 374.1,221.5 375.1,221.5 375.6,221.4 376.6,221.4 377.1,221.3 378.1,221.4 378.6,221.1 380.1,221.0 380.6,221.2 381.6,220.9 382.1,221.0 383.1,220.8 383.6,220.8 384.6,220.6 385.1,220.7 386.1,220.5 386.6,220.6 387.1,220.6 387.6,220.4 388.6,220.3 389.1,220.4 389.6,220.2 390.1,220.3 390.6,220.1 390.6,221.3 390.1,220.9 389.6,221.4 389.1,221.0 388.6,221.5 387.6,221.7 387.1,221.0 386.6,221.3 386.1,221.7 385.1,221.6 384.6,221.7 383.6,221.8 383.1,221.9 382.1,221.8 381.6,222.2 380.6,221.8 380.1,222.4 378.6,222.6 378.1,221.9 377.1,222.7 376.6,222.3 375.6,222.8 375.1,222.5 374.1,223.0 373.6,222.5 373.1,222.4 372.6,223.2 372.1,222.4 371.6,222.8 371.1,223.3 370.1,223.1 369.6,223.3 368.6,223.4 368.1,223.3 367.1,223.6 366.6,223.3 366.1,222.9 365.6,223.9 365.1,223.3 364.6,223.3 364.1,224.1 363.6,223.2 363.1,223.6 362.6,224.1 362.1,223.2 361.6,223.9 361.1,224.2 360.1,224.2 359.6,224.2 358.6,224.4 358.1,224.2 357.6,223.7 357.1,224.7 356.6,224.2 356.1,224.1 355.6,224.9 355.1,224.2 354.6,224.4 354.1,225.0 353.6,224.1 353.1,224.8 352.6,225.1 352.1,224.0 351.6,225.1 351.1,225.1 350.6,224.3 350.1,225.4 349.6,225.1 349.1,224.7 348.6,225.6 348.1,225.1 347.6,225.1 347.1,225.8 346.6,225.1 346.1,225.4 345.6,226.0 345.1,225.0 344.6,225.7 344.1,226.0 343.6,225.0 343.1,226.0 342.6,226.1 342.1,225.3 341.6,226.3 341.1,226.1 340.6,225.6 340.1,226.6 339.6,226.1 339.1,226.0 338.6,226.8 338.1,226.1 337.6,226.3 337.1,227.0 336.6,226.1 336.1,226.6 335.6,227.1 335.1,226.1 334.6,226.9 334.1,227.2 333.6,226.1 333.1,227.2 332.6,227.3 332.1,226.4 331.6,227.5 331.1,227.3 330.6,226.7 330.1,227.7 329.6,227.4 329.1,227.1 328.6,228.0 328.1,227.4 327.6,227.4 327.1,228.2 326.6,227.5 326.1,227.7 325.6,228.4 325.1,227.5 324.6,228.1 324.1,228.5 323.6,227.5 323.1,228.4 322.6,228.6 322.1,227.6 321.6,228.7 321.1,228.6 320.6,228.0 320.1,229.0 319.6,228.7 319.1,228.4 318.6,229.3 318.1,228.7 317.6,228.8 317.1,229.5 316.6,228.7 316.1,229.1 315.6,229.6 315.1,228.6 314.6,229.5 314.1,229.7 313.6,228.7 313.1,229.8 312.6,229.7 312.1,229.2 311.6,230.1 311.1,229.8 310.6,229.6 310.1,230.4 309.6,229.8 309.1,230.0 308.6,230.6 308.1,229.8 307.6,230.3 307.1,230.7 306.6,229.8 306.1,230.7 305.6,230.8 305.1,229.9 304.6,231.0 304.1,230.9 303.6,230.4 303.1,231.3 302.6,231.0 302.1,230.8 301.6,231.6 301.1,231.0 300.6,231.2 300.1,231.9 299.6,231.1 299.1,231.6 298.6,232.0 298.1,231.1 297.6,232.0 297.1,232.2 296.6,231.2 296.1,232.3 295.6,232.3 295.1,231.7 294.6,232.7 294.1,232.4 293.6,232.1 293.1,233.0 292.6,232.5 292.1,232.5 291.6,233.3 291.1,232.6 290.6,232.9 290.1,233.5 289.6,232.7 289.1,233.3 288.6,233.8 288.1,232.8 287.6,233.6 287.1,234.0 286.6,233.0 286.1,234.0 285.6,234.2 285.1,233.2 284.6,234.3 284.1,234.5 283.6,233.4 283.1,234.6 282.6,234.7 282.1,233.7 281.6,234.8 281.1,235.0 280.6,233.9 280.1,235.1 279.6,235.3 279.1,234.2 278.6,235.4 278.1,235.6 277.6,234.6 277.1,235.8 276.6,235.9 276.1,234.9 275.6,236.1 275.1,236.2 274.6,235.4 274.1,236.5 273.6,236.4 273.1,235.8 272.6,236.9 272.1,236.6 271.6,236.3 271.1,237.3 270.6,236.8 270.1,236.9 269.6,237.7 269.1,237.0 268.6,237.4 268.1,238.1 267.6,237.2 267.1,237.8 266.6,238.4 266.1,237.5 265.6,238.3 265.1,238.8 264.6,237.8 264.1,238.8 263.6,239.1 263.1,238.2 262.6,239.4 262.1,239.4 261.6,238.9 261.1,239.9 260.6,239.6 260.1,239.6 259.6,240.4 259.1,239.7 258.6,240.4 258.1,240.7 257.6,240.2 257.1,241.1 256.6,240.6 256.1,241.2 255.6,241.3 255.1,241.3 254.6,241.8 254.1,241.5 253.6,242.1 253.1,241.8 252.6,242.4 252.1,242.2 251.6,242.5 251.1,242.6 250.6,242.6 250.1,243.1 249.6,242.8 249.1,243.2 248.6,243.4 248.1,243.2 247.6,243.5 247.1,243.9 246.6,243.8 246.1,243.7 245.6,244.2 245.1,244.4 244.6,244.3 244.1,244.4 243.6,244.7 243.1,245.0 242.6,245.2 242.1,245.3 241.6,245.5 241.1,245.6 240.6,245.8 240.1,245.9 239.6,246.1 239.1,246.2 238.6,246.3 238.1,246.4 237.6,246.8 237.1,247.1 236.6,247.3 236.1,247.3 235.6,247.4 235.1,247.8 234.6,248.2 234.1,248.3 233.6,248.3 233.1,248.6 232.6,249.0 232.1,249.2 231.6,249.3 231.1,249.3 230.6,249.8 230.1,250.1 229.6,250.3 229.1,250.3 228.6,250.5 228.1,251.0 227.6,251.3 227.1,251.4 226.6,251.5 226.1,251.7 225.6,252.2 225.1,252.4 224.6,252.6 224.1,252.6 223.6,253.0 223.1,253.4 222.6,253.6 222.1,253.7 221.6,253.8 221.1,254.3 220.6,254.6 220.1,254.8 219.6,255.0 219.1,255.1 218.6,255.6 218.1,255.9 217.6,256.1 217.1,256.3 216.6,256.5 216.1,257.0 215.6,257.3 215.1,257.5 214.6,257.7 214.1,258.1 213.6,258.5 213.1,258.8 212.6,259.0 212.1,259.2 211.6,259.8 211.1,260.2 210.6,260.5 210.1,260.7 209.6,261.1 209.1,261.6 208.6,262.0 208.1,262.3 207.6,262.6 207.1,263.1 206.6,263.7 206.1,264.1 205.6,264.4 205.1,264.8 204.6,265.4 204.1,265.9 203.6,266.3 203.1,266.6 202.6,267.2 202.1,267.8 201.6,268.3 201.1,268.8 200.6,269.3 200.1,269.8 199.6,270.4 199.1,271.0 198.6,271.7 198.1,272.4 197.6,273.1 197.1,273.8 196.6,274.5 196.1,275.5 195.6,276.6 195.1,277.6 194.6,278.7 194.1,279.9 193.6,281.1 193.1,282.6 192.6,284.1 192.1,285.8 191.6,288.1 191.1,291.3 190.6,295.5 190.1,300.0 189.6,304.4 189.1,308.9 188.6,313.5 188.1,318.1 187.6,323.0 187.1,328.0 186.6,333.1 186.1,338.4 185.6,343.7 185.1,349.0 184.6,354.3 184.1,359.0 183.6,363.1 183.1,366.5 182.6,369.0 182.1,369.3 181.6,367.1 181.1,363.9 180.6,359.9 180.1,355.3 179.6,350.3 179.1,345.4 178.6,340.5 178.1,335.7 177.6,331.0 177.1,326.3 176.6,321.9 176.1,317.5 175.6,313.3 175.1,309.2 174.6,305.3 174.1,301.7 173.6,298.3 173.1,295.1 172.6,291.5 172.1,289.1 171.6,287.4 171.1,285.8 170.6,284.3 170.1,282.9 169.6,281.6 169.1,280.4 168.6,279.3 168.1,278.3 167.6,277.2 167.1,276.2 166.6,275.2 166.1,274.2 165.6,273.2 165.1,272.3 164.6,271.3 164.1,270.5 163.6,269.7 163.1,268.9 162.6,268.2 162.1,267.4 161.6,266.7 161.1,266.0 160.6,265.3 160.1,264.7 159.6,264.1 159.1,263.5 158.6,263.0 158.1,262.4 157.6,261.8 157.1,261.3 156.6,260.8 156.1,260.2 155.6,259.7 155.1,259.2 154.6,258.7 154.1,258.2 153.6,257.7 153.1,257.2 152.6,256.7 152.1,256.2 151.6,255.7 151.1,255.2 150.6,254.7 150.1,254.2 149.6,253.7 149.1,253.2 148.6,252.8 148.1,252.4 147.6,252.0 147.1,251.6 146.6,251.2 146.1,250.9 145.6,250.6 145.1,250.1 144.6,249.8 144.1,249.5 143.6,249.1 143.1,248.7 142.6,248.3 142.1,247.9 141.6,247.6 141.1,247.2 140.6,246.8 140.1,246.4 139.6,246.1 139.1,245.6 138.6,245.2 138.1,244.7 137.6,244.3 137.1,243.8 136.6,243.4 136.1,243.0 135.6,242.5 135.1,242.3 134.6,242.1 134.1,241.8 133.6,241.5 133.1,241.2 132.6,240.9 132.1,240.7 131.6,240.4 131.1,240.1 130.6,239.9 130.1,239.8 129.6,239.5 129.1,239.1 128.6,238.9 128.1,238.5 127.6,238.3 127.1,237.9 126.6,237.7 126.1,237.3 125.6,237.1 125.1,236.7 124.6,236.4 124.1,236.1 123.6,235.8 123.1,235.5 122.6,235.1 122.1,234.9 121.6,234.5 121.1,234.2 120.6,233.9 120.1,233.6 119.6,233.4 119.1,233.0 118.6,232.9 118.1,232.6 117.6,232.4 117.1,232.2 116.6,231.9 116.1,231.7 115.6,231.4 115.1,231.3 114.6,231.0 114.1,230.9 113.6,230.5 113.1,230.4 112.6,230.1 112.1,229.9 111.6,229.7 111.1,229.3 110.6,229.2 110.1,228.9 109.6,228.7 109.1,228.4 108.6,228.2 108.1,227.8 107.6,227.5 107.1,227.3 106.6,226.9 106.1,226.8 105.6,226.4 105.1,226.4 104.6,226.2 104.1,225.9 103.6,225.7 103.1,225.7 102.6,225.6 102.1,225.4 101.6,225.1 101.1,225.0 100.6,224.9 100.1,224.6 99.6,224.3 99.1,224.2 98.6,224.0 98.1,223.7 97.6,223.5 97.1,223.4 96.6,223.0 96.1,222.9 95.6,222.7 95.1,222.4 94.6,222.2 94.1,221.9 93.6,221.8 93.1,221.5 92.6,221.4 92.1,221.0 91.6,221.0 91.1,220.8 90.6,220.4 90.1,220.4 89.6,220.2 89.1,219.9 88.6,219.8 88.1,219.7 87.6,219.3 87.1,219.3 86.6,219.0 86.1,218.7 85.6,218.6 85.1,218.2 84.6,218.2 84.1,217.9 83.6,217.7 83.1,217.6 82.6,217.3 82.1,217.1 81.6,217.0 81.1,216.7 80.6,216.5 80.1,216.5 79.6,216.2 79.1,215.9 78.6,215.9 78.1,215.5 77.6,215.4 77.1,215.1 76.6,214.8 76.1,214.6 75.6,214.2 75.1,214.1 74.6,213.7 74.1,213.7 73.6,213.2 73.1,213.1 72.6,212.8 72.1,212.6 71.6,212.3 71.1,212.0 70.6,211.8 70.1,211.4 69.6,211.3 69.1,210.8 68.6,210.8 68.1,210.4 67.6,210.2 67.1,209.9 66.6,209.5 66.1,209.4 65.6,208.9 65.1,208.8 64.6,208.4 64.1,208.1 63.6,207.8 63.1,207.4 62.6,207.3 62.1,206.8 61.6,206.7 61.1,206.5 60.6,206.1 60.1,205.7 59.6,205.7 59.1,205.5 58.6,205.3 58.1,205.1" fill="#b8b8b8"/>
</g>
<g clip-path="url(#c3)">
<polygon points="58.0,395.3 58.5,394.9 59.0,395.2 59.5,395.7 60.0,396.2 60.5,396.7 61.0,397.2 61.5,397.7 62.0,398.2 62.5,398.8 63.0,399.3 63.5,399.9 64.0,400.5 64.5,401.1 65.0,401.7 65.5,402.3 66.0,402.8 66.5,403.4 67.0,404.0 67.5,404.5 68.0,405.1 68.5,405.6 69.0,406.1 69.5,406.6 70.0,407.1 70.5,407.7 71.0,408.2 71.5,408.7 72.0,409.2 72.5,409.8 73.0,410.3 73.5,410.8 74.0,411.4 74.5,411.9 75.0,412.4 75.5,413.0 76.0,413.5 76.5,413.9 77.0,414.4 77.5,415.0 78.0,415.5 78.5,416.0 79.0,416.4 79.5,416.9 80.0,417.4 80.5,417.9 81.0,418.4 81.5,418.8 82.0,419.3 82.5,419.7 83.0,420.2 83.5,420.7 84.0,421.1 84.5,421.6 85.0,422.0 85.5,422.4 86.0,422.9 86.5,423.4 87.0,423.8 87.5,424.2 88.0,424.6 88.5,425.0 89.0,425.4 89.5,425.8 90.0,426.2 90.5,426.7 91.0,427.1 91.5,427.5 92.0,427.9 92.5,428.3 93.0,428.8 93.5,429.1 94.0,429.6 94.5,430.0 95.0,430.4 95.5,430.9 96.0,431.3 96.5,431.7 97.0,432.1 97.5,432.6 98.0,433.0 98.5,433.5 99.0,434.0 99.5,434.4 100.0,434.8 100.5,435.3 101.0,435.7 101.5,436.2 102.0,436.6 102.5,437.0 103.0,437.5 103.5,437.9 104.0,438.3 104.5,438.8 105.0,439.2 105.5,439.6 106.0,440.0 106.5,440.5 107.0,440.9 107.5,441.4 108.0,441.8 108.5,442.3 109.0,442.7 109.5,443.2 110.0,443.7 110.5,444.1 111.0,444.6 111.5,445.0 112.0,445.5 112.5,446.0 113.0,446.5 113.5,447.0 114.0,447.5 114.5,447.9 115.0,448.4 115.5,448.9 116.0,449.4 116.5,450.0 117.0,450.5 117.5,451.0 118.0,451.4 118.5,451.9 119.0,452.5 119.5,453.0 120.0,453.6 120.5,454.3 121.0,454.9 121.5,455.5 122.0,456.2 122.5,456.9 123.0,457.6 123.5,458.3 124.0,458.9 124.5,459.6 125.0,460.3 125.5,461.1 126.0,461.8 126.5,462.4 127.0,463.2 127.5,463.9 128.0,464.7 128.5,465.5 129.0,466.1 129.5,466.8 130.0,467.6 130.5,468.3 131.0,469.2 131.5,469.9 132.0,470.6 132.5,471.4 133.0,472.2 133.5,473.1 134.0,473.9 134.5,474.8 135.0,475.6 135.5,476.5 136.0,477.5 136.5,478.5 137.0,479.5 137.5,480.5 138.0,481.6 138.5,482.7 139.0,483.9 139.5,485.0 140.0,486.1 140.5,487.2 141.0,488.3 141.5,489.4 142.0,490.6 142.5,491.7 143.0,492.9 143.5,494.2 144.0,495.3 144.5,496.6 145.0,497.8 145.5,499.0 146.0,500.3 146.5,501.7 147.0,503.1 147.5,504.6 148.0,506.1 148.5,507.5 149.0,508.9 149.5,510.3 150.0,511.6 150.5,513.1 151.0,514.8 151.5,516.6 152.0,518.6 152.5,520.7 153.0,522.9 153.5,525.2 154.0,527.9 154.5,529.2 155.0,526.9 155.5,524.5 156.0,522.4 156.5,520.4 157.0,518.5 157.5,516.7 158.0,514.8 158.5,513.0 159.0,511.1 159.5,509.3 160.0,507.5 160.5,505.9 161.0,504.4 161.5,503.2 162.0,502.1 162.5,501.2 163.0,500.2 163.5,499.1 164.0,497.8 164.5,496.5 165.0,495.1 165.5,493.8 166.0,492.4 166.5,491.2 167.0,490.1 167.5,489.0 168.0,488.0 168.5,487.1 169.0,486.2 169.5,485.4 170.0,484.6 170.5,483.8 171.0,483.0 171.5,482.2 172.0,481.5 172.5,480.8 173.0,480.1 173.5,479.5 174.0,478.8 174.5,478.2 175.0,477.6 175.5,477.0 176.0,476.5 176.5,475.9 177.0,475.3 177.5,474.8 178.0,474.3 178.5,473.7 179.0,473.2 179.5,472.7 180.0,472.1 180.5,471.6 181.0,471.1 181.5,470.6 182.0,470.1 182.5,469.6 183.0,469.0 183.5,468.5 184.0,468.1 184.5,467.6 185.0,467.1 185.5,466.6 186.0,466.2 186.5,465.7 187.0,465.3 187.5,464.9 188.0,464.4 188.5,464.0 189.0,463.6 189.5,463.2 190.0,462.8 190.5,462.4 191.0,462.1 191.5,461.7 192.0,461.3 192.5,461.0 193.0,460.6 193.5,460.3 194.0,459.9 194.5,459.5 195.0,459.2 195.5,458.8 196.0,458.5 196.5,458.1 197.0,457.8 197.5,457.4 198.0,457.1 198.5,456.8 199.0,456.4 199.5,456.1 200.0,455.7 200.5,455.4 201.0,455.0 201.5,454.7 202.0,454.3 202.5,454.0 203.0,453.7 203.5,453.4 204.0,453.1 204.5,452.8 205.0,452.5 205.5,452.2 206.0,452.0 206.5,451.7 207.0,451.4 207.5,451.2 208.0,450.9 208.5,450.7 209.0,450.5 209.5,450.3 210.0,450.0 210.5,449.8 211.0,449.6 211.5,449.4 212.0,449.2 212.5,448.9 213.0,448.8 213.5,448.5 214.0,448.3 214.5,448.1 215.0,447.9 215.5,447.7 216.0,447.5 216.5,447.3 217.0,447.1 217.5,446.8 218.0,446.7 218.5,446.4 219.0,446.2 219.5,446.0 220.0,445.8 220.5,445.7 221.0,445.4 221.5,445.2 222.0,445.0 222.5,444.8 223.0,444.7 223.5,444.5 224.0,444.3 224.5,444.1 225.0,443.9 225.5,443.7 226.0,443.5 226.5,443.3 227.0,443.2 227.5,443.0 228.0,442.8 228.5,442.6 229.0,442.4 229.5,442.3 230.0,442.1 230.5,441.9 231.0,441.8 231.5,441.6 232.0,441.5 232.5,441.3 233.0,441.2 233.5,441.0 234.0,440.9 234.5,440.7 235.0,440.6 235.5,440.5 236.0,440.3 236.5,440.3 237.0,440.1 237.5,440.0 238.0,440.0 238.5,439.7 239.0,439.6 239.5,439.6 240.0,439.4 240.5,439.3 241.0,439.3 241.5,439.1 242.0,438.9 242.5,438.9 243.0,438.8 243.5,438.6 244.0,438.5 244.5,438.5 245.0,438.2 245.5,438.1 246.0,438.2 246.5,437.9 247.0,437.8 247.5,437.8 248.0,437.6 248.5,437.4 249.0,437.4 249.5,437.3 250.0,437.1 250.5,437.0 251.0,436.9 251.5,436.7 252.0,436.6 252.5,436.5 253.0,436.3 253.5,436.2 254.0,436.1 254.5,435.9 255.0,435.8 255.5,435.7 256.0,435.5 256.5,435.5 257.0,435.2 257.5,435.1 258.0,435.0 258.5,434.8 259.0,434.7 259.5,434.5 260.0,434.4 260.5,434.3 261.0,434.1 261.5,434.0 262.0,433.8 262.5,433.7 263.0,433.6 263.5,433.4 264.0,433.3 264.5,433.2 265.0,433.0 265.5,432.9 266.0,432.7 266.5,432.6 267.0,432.6 267.5,432.3 268.0,432.2 268.5,432.2 269.0,432.0 269.5,431.9 270.0,431.8 270.5,431.6 271.0,431.5 271.5,431.5 272.0,431.3 272.5,431.2 273.0,431.1 273.5,430.9 274.0,430.9 274.5,430.8 275.0,430.6 275.5,430.5 276.0,430.6 276.5,430.3 277.0,430.2 277.5,430.2 278.0,430.0 278.5,429.9 279.0,429.9 279.5,429.7 280.0,429.6 280.5,429.6 281.0,429.4 281.5,429.2 282.0,429.2 282.5,429.2 283.0,429.0 283.5,428.9 284.0,428.9 284.5,428.7 285.0,428.6 285.5,428.6 286.0,428.4 286.5,428.3 287.0,428.3 287.5,428.1 288.0,428.0 288.5,428.0 289.0,427.8 289.5,427.7 290.0,427.7 290.5,427.5 291.0,427.4 291.5,427.4 292.0,427.2 292.5,427.1 293.0,427.0 293.5,426.9 294.0,426.9 294.5,426.7 295.0,426.6 295.5,426.6 296.0,426.4 296.5,426.3 297.0,426.4 297.5,426.1 298.0,426.0 298.5,426.1 299.0,425.8 299.5,425.8 300.0,425.7 300.5,425.6 301.0,425.6 301.5,425.5 302.0,425.3 302.5,425.3 303.0,425.2 303.5,425.1 304.0,425.1 304.5,424.9 305.0,424.8 305.5,424.9 306.0,424.7 306.5,424.6 307.0,424.6 307.5,424.4 308.0,424.4 308.5,424.4 309.0,424.2 309.5,424.2 310.0,424.1 310.5,424.0 311.0,424.0 311.5,423.9 312.0,423.8 312.5,423.9 313.0,423.7 313.5,423.6 314.0,423.7 314.5,423.4 315.0,423.4 315.5,423.4 316.0,423.2 316.5,423.2 317.0,423.2 317.5,423.0 318.0,423.1 318.5,423.0 319.0,422.8 319.5,422.9 320.0,422.8 320.5,422.7 321.0,422.7 321.5,422.6 322.0,422.5 322.5,422.6 323.0,422.4 323.5,422.3 324.0,422.4 324.5,422.3 325.0,422.2 325.5,422.3 326.0,422.1 326.5,422.0 327.0,422.1 327.5,421.9 328.0,421.9 328.5,422.0 329.0,421.8 329.5,421.7 330.0,421.8 330.5,421.6 331.0,421.6 331.5,421.6 332.0,421.5 332.5,421.4 333.0,421.5 333.5,421.4 334.0,421.2 334.5,421.3 335.0,421.2 335.5,421.1 336.0,421.2 336.5,421.0 337.0,420.9 337.5,421.0 338.0,420.9 338.5,420.8 339.0,420.9 339.5,420.7 340.0,420.6 340.5,420.7 341.0,420.5 341.5,420.4 342.0,420.6 342.5,420.3 343.0,420.3 343.5,420.4 344.0,420.2 344.5,420.1 345.0,420.2 345.5,420.0 346.0,420.0 346.5,420.0 347.0,419.8 347.5,419.8 348.0,419.8 348.5,419.6 349.0,419.7 349.5,419.6 350.0,419.5 350.5,419.6 351.0,419.4 351.5,419.3 352.0,419.4 352.5,419.2 353.0,419.1 353.5,419.2 354.0,419.0 354.5,419.0 355.0,418.9 355.5,418.8 356.0,418.9 356.5,418.7 357.0,418.6 357.5,418.7 358.0,418.5 358.5,418.4 359.0,418.6 359.5,418.3 360.0,418.3 360.5,418.3 361.0,418.1 361.5,418.1 362.0,418.1 362.5,417.9 363.0,417.9 363.5,417.9 364.0,417.7 364.5,417.8 365.0,417.6 365.5,417.5 366.0,417.6 366.5,417.4 367.0,417.3 367.5,417.5 368.0,417.2 368.5,417.1 369.0,417.2 369.5,417.0 370.0,416.9 370.5,417.0 371.0,416.7 371.5,416.8 372.0,416.7 372.5,416.5 373.0,416.6 373.5,416.4 374.0,416.3 374.5,416.4 375.0,416.2 375.5,416.1 376.0,416.2 376.5,415.9 377.0,415.8 377.5,416.0 378.0,415.7 378.5,415.6 379.0,415.7 379.5,415.5 380.0,415.3 380.5,415.4 381.0,415.3 381.5,415.1 382.0,415.1 382.5,415.1 383.0,414.8 383.5,414.8 384.0,414.9 384.5,414.5 385.0,414.5 385.5,414.6 386.0,414.3 386.5,414.3 387.0,414.2 387.5,414.0 388.0,414.1 388.5,413.8 389.0,413.9 389.5,413.7 390.0,413.6 390.5,413.5 391.0,413.6 391.5,414.1 392.0,415.0 392.5,418.0 392.5,418.0 392.0,420.6 391.5,421.5 391.0,421.9 390.5,422.0 390.0,422.1 389.5,422.1 389.0,422.3 388.5,422.3 388.0,422.5 387.5,422.6 387.0,422.5 386.5,422.8 386.0,422.8 385.5,422.8 385.0,423.1 384.5,423.0 384.0,423.1 383.5,423.3 383.0,423.3 382.5,423.4 382.0,423.6 381.5,423.6 381.0,423.6 380.5,423.9 380.0,423.9 379.5,423.8 379.0,424.1 378.5,424.2 378.0,424.1 377.5,424.4 377.0,424.5 376.5,424.4 376.0,424.6 375.5,424.8 375.0,424.7 374.5,424.9 374.0,425.0 373.5,424.9 373.0,425.2 372.5,425.3 372.0,425.2 371.5,425.4 371.0,425.5 370.5,425.5 370.0,425.7 369.5,425.7 369.0,425.7 368.5,425.9 368.0,425.9 367.5,426.0 367.0,426.1 366.5,426.0 366.0,426.3 365.5,426.4 365.0,426.2 364.5,426.5 364.0,426.6 363.5,426.5 363.0,426.7 362.5,426.8 362.0,426.7 361.5,426.9 361.0,426.9 360.5,427.0 360.0,427.2 359.5,427.1 359.0,427.2 358.5,427.4 358.0,427.3 357.5,427.5 357.0,427.6 356.5,427.5 356.0,427.7 355.5,427.8 355.0,427.7 354.5,427.9 354.0,428.0 353.5,427.9 353.0,428.1 352.5,428.1 352.0,428.2 351.5,428.3 351.0,428.3 350.5,428.4 350.0,428.5 349.5,428.4 349.0,428.6 348.5,428.7 348.0,428.6 347.5,428.9 347.0,428.9 346.5,428.8 346.0,429.1 345.5,429.1 345.0,429.1 344.5,429.3 344.0,429.2 343.5,429.3 343.0,429.4 342.5,429.4 342.0,429.5 341.5,429.6 341.0,429.5 340.5,429.7 340.0,429.8 339.5,429.7 339.0,429.9 338.5,430.0 338.0,429.9 337.5,430.1 337.0,430.2 336.5,430.1 336.0,430.3 335.5,430.4 335.0,430.2 334.5,430.4 334.0,430.5 333.5,430.4 333.0,430.6 332.5,430.7 332.0,430.6 331.5,430.8 331.0,430.9 330.5,430.8 330.0,431.0 329.5,431.1 329.0,431.0 328.5,431.1 328.0,431.2 327.5,431.2 327.0,431.3 326.5,431.4 326.0,431.3 325.5,431.5 325.0,431.6 324.5,431.5 324.0,431.7 323.5,431.8 323.0,431.7 322.5,431.9 322.0,432.0 321.5,431.9 321.0,432.1 320.5,432.2 320.0,432.0 319.5,432.3 319.0,432.3 318.5,432.2 318.0,432.5 317.5,432.5 317.0,432.5 316.5,432.7 316.0,432.7 315.5,432.7 315.0,432.8 314.5,432.8 314.0,432.9 313.5,433.0 313.0,433.0 312.5,433.1 312.0,433.2 311.5,433.1 311.0,433.3 310.5,433.4 310.0,433.3 309.5,433.6 309.0,433.6 308.5,433.6 308.0,433.8 307.5,433.8 307.0,433.9 306.5,434.0 306.0,433.9 305.5,434.1 305.0,434.2 304.5,434.1 304.0,434.4 303.5,434.4 303.0,434.4 302.5,434.6 302.0,434.7 301.5,434.7 301.0,434.9 300.5,434.9 300.0,435.0 299.5,435.1 299.0,435.1 298.5,435.3 298.0,435.4 297.5,435.3 297.0,435.6 296.5,435.6 296.0,435.6 295.5,435.9 295.0,435.9 294.5,435.9 294.0,436.1 293.5,436.1 293.0,436.2 292.5,436.4 292.0,436.4 291.5,436.6 291.0,436.7 290.5,436.6 290.0,436.9 289.5,437.0 289.0,436.9 288.5,437.1 288.0,437.3 287.5,437.1 287.0,437.4 286.5,437.5 286.0,437.4 285.5,437.7 285.0,437.8 284.5,437.7 284.0,438.0 283.5,438.1 283.0,438.1 282.5,438.2 282.0,438.4 281.5,438.4 281.0,438.5 280.5,438.7 280.0,438.7 279.5,438.8 279.0,439.0 278.5,439.1 278.0,439.0 277.5,439.3 277.0,439.4 276.5,439.3 276.0,439.6 275.5,439.7 275.0,439.6 274.5,439.9 274.0,440.0 273.5,439.9 273.0,440.2 272.5,440.4 272.0,440.3 271.5,440.6 271.0,440.7 270.5,440.6 270.0,440.9 269.5,441.0 269.0,441.0 268.5,441.3 268.0,441.4 267.5,441.4 267.0,441.7 266.5,441.7 266.0,441.9 265.5,442.0 265.0,442.0 264.5,442.3 264.0,442.4 263.5,442.5 263.0,442.7 262.5,442.7 262.0,443.0 261.5,443.1 261.0,443.2 260.5,443.4 260.0,443.4 259.5,443.7 259.0,443.8 258.5,443.9 258.0,444.1 257.5,444.1 257.0,444.3 256.5,444.5 256.0,444.5 255.5,444.8 255.0,444.9 254.5,444.8 254.0,445.2 253.5,445.2 253.0,445.2 252.5,445.6 252.0,445.6 251.5,445.6 251.0,445.9 250.5,446.0 250.0,445.9 249.5,446.2 249.0,446.4 248.5,446.3 248.0,446.5 247.5,446.7 247.0,446.7 246.5,446.8 246.0,447.1 245.5,447.1 245.0,447.1 244.5,447.4 244.0,447.5 243.5,447.4 243.0,447.7 242.5,447.9 242.0,447.8 241.5,448.0 241.0,448.2 240.5,448.2 240.0,448.4 239.5,448.6 239.0,448.6 238.5,448.8 238.0,448.9 237.5,448.9 237.0,449.2 236.5,449.3 236.0,449.4 235.5,449.6 235.0,449.6 234.5,449.9 234.0,449.9 233.5,450.1 233.0,450.3 232.5,450.4 232.0,450.6 231.5,450.7 231.0,450.9 230.5,451.1 230.0,451.3 229.5,451.4 229.0,451.6 228.5,451.8 228.0,452.0 227.5,452.2 227.0,452.4 226.5,452.6 226.0,452.7 225.5,453.0 225.0,453.1 224.5,453.3 224.0,453.5 223.5,453.7 223.0,453.9 222.5,454.1 222.0,454.3 221.5,454.5 221.0,454.7 220.5,454.9 220.0,455.1 219.5,455.3 219.0,455.5 218.5,455.7 218.0,455.9 217.5,456.2 217.0,456.3 216.5,456.6 216.0,456.8 215.5,457.0 215.0,457.2 214.5,457.4 214.0,457.7 213.5,457.9 213.0,458.1 212.5,458.3 212.0,458.5 211.5,458.7 211.0,459.0 210.5,459.1 210.0,459.4 209.5,459.7 209.0,459.9 208.5,460.2 208.0,460.4 207.5,460.7 207.0,461.0 206.5,461.2 206.0,461.6 205.5,461.9 205.0,462.2 204.5,462.6 204.0,462.9 203.5,463.2 203.0,463.5 202.5,463.9 202.0,464.3 201.5,464.6 201.0,465.0 200.5,465.4 200.0,465.8 199.5,466.1 199.0,466.6 198.5,467.0 198.0,467.3 197.5,467.7 197.0,468.1 196.5,468.5 196.0,468.9 195.5,469.3 195.0,469.7 194.5,470.1 194.0,470.5 193.5,470.9 193.0,471.3 192.5,471.7 192.0,472.2 191.5,472.6 191.0,473.1 190.5,473.5 190.0,474.0 189.5,474.5 189.0,475.0 188.5,475.5 188.0,476.0 187.5,476.6 187.0,477.1 186.5,477.6 186.0,478.2 185.5,478.7 185.0,479.3 184.5,479.8 184.0,480.4 183.5,481.0 183.0,481.5 182.5,482.1 182.0,482.7 181.5,483.3 181.0,483.9 180.5,484.5 180.0,485.2 179.5,485.8 179.0,486.5 178.5,487.2 178.0,488.0 177.5,488.7 177.0,489.5 176.5,490.3 176.0,491.1 175.5,492.0 175.0,492.9 174.5,493.9 174.0,494.9 173.5,496.1 173.0,497.4 172.5,498.8 172.0,500.2 171.5,501.7 171.0,503.1 170.5,504.5 170.0,505.8 169.5,507.0 169.0,508.2 168.5,509.6 168.0,511.2 167.5,513.2 167.0,515.3 166.5,517.5 166.0,519.6 165.5,521.8 165.0,523.9 164.5,526.1 164.0,528.4 163.5,531.0 163.0,533.6 162.5,536.4 162.0,539.1 161.5,541.9 161.0,544.6 160.5,547.3 160.0,549.9 159.5,552.5 159.0,555.0 158.5,557.4 158.0,559.9 157.5,562.5 157.0,565.2 156.5,568.1 156.0,570.2 155.5,571.8 155.0,573.1 154.5,574.0 154.0,574.7 153.5,575.2 153.0,575.5 152.5,575.6 152.0,575.5 151.5,575.3 151.0,574.9 150.5,574.2 150.0,573.4 149.5,572.2 149.0,570.8 148.5,568.8 148.0,566.0 147.5,561.5 147.0,553.1 146.5,547.6 146.0,541.7 145.5,535.6 145.0,530.8 144.5,527.7 144.0,524.8 143.5,522.2 143.0,519.7 142.5,517.6 142.0,515.7 141.5,513.7 141.0,511.6 140.5,509.5 140.0,507.5 139.5,505.4 139.0,503.5 138.5,501.7 138.0,500.1 137.5,498.6 137.0,497.2 136.5,495.8 136.0,494.5 135.5,493.2 135.0,491.8 134.5,490.6 134.0,489.3 133.5,487.9 133.0,486.7 132.5,485.4 132.0,484.2 131.5,482.9 131.0,481.8 130.5,480.7 130.0,479.6 129.5,478.6 129.0,477.6 128.5,476.6 128.0,475.7 127.5,474.7 127.0,473.8 126.5,472.9 126.0,472.0 125.5,471.2 125.0,470.3 124.5,469.4 124.0,468.5 123.5,467.7 123.0,466.9 122.5,466.1 122.0,465.3 121.5,464.5 121.0,463.7 120.5,462.9 120.0,462.2 119.5,461.4 119.0,460.6 118.5,459.9 118.0,459.2 117.5,458.4 117.0,457.7 116.5,457.1 116.0,456.4 115.5,455.9 115.0,455.3 114.5,454.7 114.0,454.2 113.5,453.6 113.0,453.0 112.5,452.4 112.0,451.9 111.5,451.3 111.0,450.7 110.5,450.2 110.0,449.6 109.5,449.1 109.0,448.5 108.5,448.0 108.0,447.5 107.5,447.0 107.0,446.4 106.5,445.9 106.0,445.4 105.5,444.9 105.0,444.4 104.5,443.9 104.0,443.3 103.5,442.8 103.0,442.3 102.5,441.9 102.0,441.4 101.5,440.9 101.0,440.4 100.5,439.8 100.0,439.4 99.5,438.9 99.0,438.4 98.5,438.0 98.0,437.5 97.5,437.0 97.0,436.5 96.5,436.0 96.0,435.6 95.5,435.1 95.0,434.7 94.5,434.2 94.0,433.7 93.5,433.3 93.0,432.8 92.5,432.4 92.0,431.9 91.5,431.5 91.0,431.1 90.5,430.6 90.0,430.1 89.5,429.7 89.0,429.3 88.5,428.8 88.0,428.4 87.5,428.0 87.0,427.5 86.5,427.0 86.0,426.6 85.5,426.2 85.0,425.7 84.5,425.3 84.0,424.8 83.5,424.3 83.0,423.8 82.5,423.4 82.0,422.9 81.5,422.4 81.0,421.9 80.5,421.4 80.0,420.9 79.5,420.4 79.0,419.9 78.5,419.4 78.0,418.9 77.5,418.3 77.0,417.8 76.5,417.3 76.0,416.8 75.5,416.2 75.0,415.7 74.5,415.2 74.0,414.6 73.5,414.0 73.0,413.5 72.5,413.0 72.0,412.4 71.5,411.8 71.0,411.2 70.5,410.7 70.0,410.1 69.5,409.6 69.0,409.1 68.5,408.6 68.0,408.0 67.5,407.5 67.0,406.9 66.5,406.3 66.0,405.8 65.5,405.1 65.0,404.5 64.5,403.9 64.0,403.3 63.5,402.6 63.0,402.0 62.5,401.4 62.0,400.8 61.5,400.3 61.0,399.7 60.5,399.2 60.0,398.6 59.5,398.1 59.0,397.6 58.5,397.0 58.0,396.4" fill="#e5e5e5"/>
<polygon points="58.0,395.7 58.5,395.0 59.0,395.3 59.5,395.8 60.0,396.3 60.5,396.8 61.0,397.4 61.5,397.8 62.0,398.4 62.5,398.9 63.0,399.5 63.5,400.1 64.0,400.6 64.5,401.2 65.0,401.9 65.5,402.4 66.0,403.0 66.5,403.7 67.0,404.2 67.5,404.7 68.0,405.3 68.5,405.8 69.0,406.3 69.5,406.8 70.0,407.4 70.5,407.8 71.0,408.4 71.5,408.9 72.0,409.4 72.5,410.0 73.0,410.5 73.5,411.0 74.0,411.6 74.5,412.1 75.0,412.7 75.5,413.1 76.0,413.6 76.5,414.1 77.0,414.7 77.5,415.2 78.0,415.7 78.5,416.1 79.0,416.6 79.5,417.1 80.0,417.6 80.5,418.1 81.0,418.6 81.5,419.0 82.0,419.5 82.5,420.0 83.0,420.5 83.5,420.9 84.0,421.3 84.5,421.8 85.0,422.2 85.5,422.7 86.0,423.1 86.5,423.5 87.0,424.0 87.5,424.4 88.0,424.8 88.5,425.2 89.0,425.6 89.5,426.1 90.0,426.5 90.5,426.9 91.0,427.3 91.5,427.7 92.0,428.1 92.5,428.6 93.0,429.0 93.5,429.4 94.0,429.8 94.5,430.3 95.0,430.7 95.5,431.1 96.0,431.5 96.5,432.0 97.0,432.4 97.5,432.9 98.0,433.3 98.5,433.8 99.0,434.2 99.5,434.6 100.0,435.1 100.5,435.5 101.0,436.0 101.5,436.4 102.0,436.9 102.5,437.3 103.0,437.8 103.5,438.2 104.0,438.6 104.5,439.0 105.0,439.5 105.5,439.9 106.0,440.4 106.5,440.8 107.0,441.3 107.5,441.7 108.0,442.2 108.5,442.6 109.0,443.1 109.5,443.5 110.0,444.0 110.5,444.5 111.0,445.0 111.5,445.5 112.0,445.9 112.5,446.4 113.0,446.9 113.5,447.4 114.0,447.9 114.5,448.4 115.0,448.9 115.5,449.4 116.0,449.9 116.5,450.4 117.0,450.9 117.5,451.4 118.0,451.9 118.5,452.4 119.0,453.0 119.5,453.5 120.0,454.2 120.5,454.8 121.0,455.5 121.5,456.2 122.0,456.8 122.5,457.5 123.0,458.2 123.5,458.9 124.0,459.6 124.5,460.4 125.0,461.0 125.5,461.7 126.0,462.4 126.5,463.2 127.0,464.0 127.5,464.7 128.0,465.4 128.5,466.1 129.0,466.8 129.5,467.6 130.0,468.4 130.5,469.1 131.0,469.8 131.5,470.6 132.0,471.4 132.5,472.3 133.0,473.1 133.5,473.9 134.0,474.7 134.5,475.6 135.0,476.5 135.5,477.5 136.0,478.5 136.5,479.5 137.0,480.5 137.5,481.6 138.0,482.7 138.5,483.8 139.0,485.0 139.5,486.2 140.0,487.2 140.5,488.3 141.0,489.4 141.5,490.7 142.0,491.8 142.5,492.9 143.0,494.2 143.5,495.4 144.0,496.7 144.5,497.9 145.0,499.1 145.5,500.5 146.0,501.9 146.5,503.3 147.0,504.9 147.5,506.4 148.0,507.9 148.5,509.3 149.0,510.7 149.5,512.1 150.0,513.7 150.5,515.4 151.0,517.4 151.5,519.4 152.0,521.6 152.5,523.9 153.0,526.4 153.5,529.6 154.0,533.4 154.5,532.7 155.0,530.2 155.5,527.8 156.0,525.5 156.5,523.3 157.0,521.3 157.5,519.3 158.0,517.4 158.5,515.6 159.0,513.7 159.5,511.8 160.0,509.9 160.5,508.1 161.0,506.4 161.5,504.9 162.0,503.6 162.5,502.5 163.0,501.5 163.5,500.5 164.0,499.4 164.5,498.2 165.0,496.8 165.5,495.4 166.0,494.1 166.5,492.8 167.0,491.5 167.5,490.4 168.0,489.3 168.5,488.3 169.0,487.3 169.5,486.5 170.0,485.6 170.5,484.8 171.0,484.0 171.5,483.2 172.0,482.5 172.5,481.8 173.0,481.1 173.5,480.4 174.0,479.7 174.5,479.1 175.0,478.4 175.5,477.8 176.0,477.2 176.5,476.7 177.0,476.1 177.5,475.5 178.0,475.0 178.5,474.5 179.0,473.9 179.5,473.4 180.0,472.9 180.5,472.3 181.0,471.8 181.5,471.3 182.0,470.8 182.5,470.3 183.0,469.8 183.5,469.3 184.0,468.8 184.5,468.3 185.0,467.8 185.5,467.3 186.0,466.9 186.5,466.4 187.0,465.9 187.5,465.5 188.0,465.1 188.5,464.7 189.0,464.3 189.5,463.9 190.0,463.5 190.5,463.1 191.0,462.7 191.5,462.3 192.0,462.0 192.5,461.6 193.0,461.2 193.5,460.9 194.0,460.5 194.5,460.2 195.0,459.8 195.5,459.5 196.0,459.1 196.5,458.7 197.0,458.4 197.5,458.0 198.0,457.7 198.5,457.3 199.0,457.0 199.5,456.6 200.0,456.3 200.5,456.0 201.0,455.6 201.5,455.3 202.0,454.9 202.5,454.6 203.0,454.3 203.5,454.0 204.0,453.7 204.5,453.4 205.0,453.1 205.5,452.8 206.0,452.5 206.5,452.2 207.0,452.0 207.5,451.7 208.0,451.5 208.5,451.2 209.0,451.0 209.5,450.8 210.0,450.6 210.5,450.4 211.0,450.1 211.5,449.9 212.0,449.7 212.5,449.5 213.0,449.3 213.5,449.1 214.0,448.9 214.5,448.7 215.0,448.4 215.5,448.3 216.0,448.0 216.5,447.8 217.0,447.6 217.5,447.4 218.0,447.2 218.5,447.0 219.0,446.8 219.5,446.6 220.0,446.4 220.5,446.2 221.0,446.0 221.5,445.8 222.0,445.6 222.5,445.4 223.0,445.2 223.5,445.0 224.0,444.8 224.5,444.6 225.0,444.4 225.5,444.3 226.0,444.1 226.5,443.9 227.0,443.7 227.5,443.5 228.0,443.3 228.5,443.1 229.0,443.0 229.5,442.8 230.0,442.6 230.5,442.5 231.0,442.3 231.5,442.1 232.0,442.0 232.5,441.8 233.0,441.7 233.5,441.5 234.0,441.4 234.5,441.3 235.0,441.1 235.5,441.1 236.0,440.9 236.5,440.8 237.0,440.6 237.5,440.5 238.0,440.5 238.5,440.3 239.0,440.1 239.5,440.1 240.0,439.9 240.5,439.8 241.0,439.8 241.5,439.6 242.0,439.4 242.5,439.4 243.0,439.3 243.5,439.1 244.0,439.0 244.5,439.0 245.0,438.8 245.5,438.6 246.0,438.7 246.5,438.4 247.0,438.3 247.5,438.3 248.0,438.1 248.5,437.9 249.0,437.9 249.5,437.8 250.0,437.6 250.5,437.5 251.0,437.5 251.5,437.2 252.0,437.1 252.5,437.1 253.0,436.8 253.5,436.7 254.0,436.7 254.5,436.4 255.0,436.4 255.5,436.2 256.0,436.0 256.5,436.0 257.0,435.8 257.5,435.6 258.0,435.6 258.5,435.3 259.0,435.3 259.5,435.1 260.0,434.9 260.5,434.9 261.0,434.6 261.5,434.6 262.0,434.4 262.5,434.2 263.0,434.2 263.5,434.0 264.0,433.8 264.5,433.8 265.0,433.5 265.5,433.5 266.0,433.3 266.5,433.2 267.0,433.2 267.5,432.9 268.0,432.8 268.5,432.8 269.0,432.5 269.5,432.5 270.0,432.4 270.5,432.2 271.0,432.1 271.5,432.1 272.0,431.9 272.5,431.8 273.0,431.8 273.5,431.5 274.0,431.5 274.5,431.5 275.0,431.2 275.5,431.1 276.0,431.2 276.5,430.9 277.0,430.8 277.5,430.9 278.0,430.6 278.5,430.5 279.0,430.5 279.5,430.4 280.0,430.2 280.5,430.2 281.0,430.1 281.5,429.9 282.0,429.9 282.5,429.9 283.0,429.6 283.5,429.5 284.0,429.6 284.5,429.3 285.0,429.2 285.5,429.3 286.0,429.0 286.5,428.9 287.0,429.0 287.5,428.7 288.0,428.6 288.5,428.7 289.0,428.4 289.5,428.4 290.0,428.4 290.5,428.1 291.0,428.1 291.5,428.1 292.0,427.9 292.5,427.8 293.0,427.8 293.5,427.6 294.0,427.6 294.5,427.5 295.0,427.3 295.5,427.3 296.0,427.1 296.5,427.0 297.0,427.1 297.5,426.8 298.0,426.8 298.5,426.8 299.0,426.6 299.5,426.5 300.0,426.5 300.5,426.3 301.0,426.3 301.5,426.2 302.0,426.0 302.5,426.1 303.0,425.9 303.5,425.8 304.0,425.9 304.5,425.7 305.0,425.6 305.5,425.7 306.0,425.4 306.5,425.3 307.0,425.4 307.5,425.2 308.0,425.1 308.5,425.1 309.0,424.9 309.5,425.0 310.0,424.9 310.5,424.7 311.0,424.8 311.5,424.7 312.0,424.5 312.5,424.6 313.0,424.4 313.5,424.4 314.0,424.5 314.5,424.2 315.0,424.2 315.5,424.2 316.0,424.0 316.5,424.0 317.0,424.0 317.5,423.8 318.0,423.9 318.5,423.8 319.0,423.6 319.5,423.7 320.0,423.6 320.5,423.5 321.0,423.5 321.5,423.4 322.0,423.3 322.5,423.4 323.0,423.2 323.5,423.1 324.0,423.3 324.5,423.1 325.0,423.0 325.5,423.1 326.0,422.9 326.5,422.8 327.0,423.0 327.5,422.8 328.0,422.7 328.5,422.8 329.0,422.6 329.5,422.5 330.0,422.6 330.5,422.5 331.0,422.4 331.5,422.5 332.0,422.3 332.5,422.2 333.0,422.3 333.5,422.2 334.0,422.0 334.5,422.1 335.0,422.0 335.5,421.9 336.0,422.0 336.5,421.9 337.0,421.7 337.5,421.8 338.0,421.7 338.5,421.6 339.0,421.7 339.5,421.5 340.0,421.4 340.5,421.5 341.0,421.3 341.5,421.2 342.0,421.4 342.5,421.1 343.0,421.1 343.5,421.3 344.0,421.0 344.5,420.9 345.0,421.0 345.5,420.8 346.0,420.8 346.5,420.8 347.0,420.6 347.5,420.6 348.0,420.6 348.5,420.4 349.0,420.5 349.5,420.4 350.0,420.3 350.5,420.4 351.0,420.2 351.5,420.1 352.0,420.2 352.5,420.0 353.0,419.9 353.5,420.0 354.0,419.8 354.5,419.8 355.0,419.8 355.5,419.6 356.0,419.7 356.5,419.5 357.0,419.4 357.5,419.5 358.0,419.3 358.5,419.2 359.0,419.4 359.5,419.1 360.0,419.1 360.5,419.2 361.0,418.9 361.5,418.9 362.0,418.9 362.5,418.7 363.0,418.7 363.5,418.7 364.0,418.5 364.5,418.6 365.0,418.5 365.5,418.3 366.0,418.4 366.5,418.2 367.0,418.1 367.5,418.3 368.0,418.0 368.5,417.9 369.0,418.1 369.5,417.8 370.0,417.7 370.5,417.8 371.0,417.5 371.5,417.6 372.0,417.5 372.5,417.3 373.0,417.4 373.5,417.2 374.0,417.1 374.5,417.2 375.0,417.0 375.5,416.9 376.0,417.1 376.5,416.8 377.0,416.6 377.5,416.8 378.0,416.6 378.5,416.4 379.0,416.5 379.5,416.4 380.0,416.1 380.5,416.2 381.0,416.2 381.5,415.9 382.0,415.9 382.5,416.0 383.0,415.6 383.5,415.6 384.0,415.7 384.5,415.4 385.0,415.3 385.5,415.4 386.0,415.1 386.5,415.1 387.0,415.0 387.5,414.8 388.0,414.9 388.5,414.6 389.0,414.7 389.5,414.5 390.0,414.5 390.5,414.3 391.0,414.5 391.5,415.0 392.0,416.3 392.0,419.6 391.5,420.7 391.0,421.2 390.5,421.3 390.0,421.4 389.5,421.4 389.0,421.6 388.5,421.6 388.0,421.7 387.5,421.8 387.0,421.8 386.5,422.1 386.0,422.1 385.5,422.1 385.0,422.3 384.5,422.3 384.0,422.4 383.5,422.6 383.0,422.6 382.5,422.6 382.0,422.9 381.5,422.9 381.0,422.8 380.5,423.1 380.0,423.2 379.5,423.0 379.0,423.4 378.5,423.5 378.0,423.3 377.5,423.6 377.0,423.8 376.5,423.7 376.0,423.9 375.5,424.0 375.0,423.9 374.5,424.1 374.0,424.3 373.5,424.1 373.0,424.4 372.5,424.5 372.0,424.4 371.5,424.7 371.0,424.7 370.5,424.7 370.0,424.9 369.5,424.9 369.0,424.9 368.5,425.2 368.0,425.1 367.5,425.2 367.0,425.4 366.5,425.3 366.0,425.5 365.5,425.6 365.0,425.4 364.5,425.7 364.0,425.8 363.5,425.6 363.0,425.9 362.5,426.0 362.0,425.9 361.5,426.2 361.0,426.2 360.5,426.2 360.0,426.4 359.5,426.3 359.0,426.4 358.5,426.6 358.0,426.5 357.5,426.6 357.0,426.8 356.5,426.6 356.0,426.9 355.5,427.0 355.0,426.8 354.5,427.1 354.0,427.1 353.5,427.1 353.0,427.3 352.5,427.3 352.0,427.3 351.5,427.5 351.0,427.5 350.5,427.6 350.0,427.7 349.5,427.6 349.0,427.8 348.5,427.9 348.0,427.7 347.5,428.0 347.0,428.1 346.5,428.0 346.0,428.2 345.5,428.2 345.0,428.2 344.5,428.4 344.0,428.4 343.5,428.4 343.0,428.6 342.5,428.5 342.0,428.6 341.5,428.8 341.0,428.7 340.5,428.8 340.0,429.0 339.5,428.8 339.0,429.0 338.5,429.2 338.0,429.0 337.5,429.2 337.0,429.3 336.5,429.2 336.0,429.4 335.5,429.5 335.0,429.4 334.5,429.6 334.0,429.7 333.5,429.5 333.0,429.7 332.5,429.9 332.0,429.7 331.5,429.9 331.0,430.0 330.5,429.9 330.0,430.1 329.5,430.2 329.0,430.1 328.5,430.2 328.0,430.4 327.5,430.3 327.0,430.4 326.5,430.5 326.0,430.4 325.5,430.6 325.0,430.7 324.5,430.6 324.0,430.8 323.5,430.9 323.0,430.8 322.5,431.0 322.0,431.1 321.5,431.0 321.0,431.2 320.5,431.3 320.0,431.1 319.5,431.4 319.0,431.4 318.5,431.3 318.0,431.6 317.5,431.6 317.0,431.5 316.5,431.8 316.0,431.7 315.5,431.7 315.0,431.9 314.5,431.9 314.0,432.0 313.5,432.1 313.0,432.0 312.5,432.2 312.0,432.3 311.5,432.2 311.0,432.4 310.5,432.5 310.0,432.4 309.5,432.6 309.0,432.7 308.5,432.6 308.0,432.9 307.5,432.8 307.0,432.9 306.5,433.1 306.0,433.0 305.5,433.2 305.0,433.3 304.5,433.2 304.0,433.4 303.5,433.5 303.0,433.4 302.5,433.7 302.0,433.7 301.5,433.7 301.0,434.0 300.5,433.9 300.0,434.0 299.5,434.2 299.0,434.1 298.5,434.3 298.0,434.5 297.5,434.3 297.0,434.6 296.5,434.7 296.0,434.6 295.5,434.9 295.0,434.9 294.5,435.0 294.0,435.2 293.5,435.2 293.0,435.3 292.5,435.5 292.0,435.4 291.5,435.6 291.0,435.8 290.5,435.7 290.0,435.9 289.5,436.0 289.0,435.9 288.5,436.2 288.0,436.3 287.5,436.2 287.0,436.5 286.5,436.6 286.0,436.5 285.5,436.7 285.0,436.9 284.5,436.8 284.0,437.0 283.5,437.2 283.0,437.1 282.5,437.3 282.0,437.5 281.5,437.4 281.0,437.5 280.5,437.8 280.0,437.8 279.5,437.7 279.0,438.1 278.5,438.1 278.0,438.0 277.5,438.3 277.0,438.4 276.5,438.2 276.0,438.6 275.5,438.7 275.0,438.6 274.5,438.9 274.0,439.1 273.5,438.9 273.0,439.2 272.5,439.4 272.0,439.3 271.5,439.6 271.0,439.7 270.5,439.6 270.0,439.9 269.5,440.0 269.0,439.9 268.5,440.3 268.0,440.4 267.5,440.4 267.0,440.7 266.5,440.7 266.0,440.9 265.5,441.1 265.0,441.0 264.5,441.3 264.0,441.4 263.5,441.5 263.0,441.7 262.5,441.7 262.0,442.0 261.5,442.1 261.0,442.2 260.5,442.4 260.0,442.4 259.5,442.7 259.0,442.8 258.5,442.8 258.0,443.1 257.5,443.1 257.0,443.3 256.5,443.5 256.0,443.4 255.5,443.8 255.0,443.9 254.5,443.8 254.0,444.2 253.5,444.2 253.0,444.2 252.5,444.5 252.0,444.6 251.5,444.5 251.0,444.9 250.5,445.0 250.0,444.8 249.5,445.2 249.0,445.4 248.5,445.3 248.0,445.5 247.5,445.7 247.0,445.7 246.5,445.7 246.0,446.1 245.5,446.1 245.0,446.0 244.5,446.4 244.0,446.5 243.5,446.4 243.0,446.7 242.5,446.9 242.0,446.8 241.5,447.0 241.0,447.2 240.5,447.2 240.0,447.3 239.5,447.6 239.0,447.6 238.5,447.7 238.0,447.9 237.5,447.9 237.0,448.2 236.5,448.3 236.0,448.3 235.5,448.6 235.0,448.6 234.5,448.9 234.0,448.9 233.5,449.1 233.0,449.2 232.5,449.4 232.0,449.6 231.5,449.7 231.0,449.9 230.5,450.1 230.0,450.3 229.5,450.4 229.0,450.6 228.5,450.8 228.0,451.0 227.5,451.1 227.0,451.4 226.5,451.6 226.0,451.7 225.5,452.0 225.0,452.1 224.5,452.3 224.0,452.5 223.5,452.6 223.0,452.9 222.5,453.1 222.0,453.3 221.5,453.5 221.0,453.6 220.5,453.9 220.0,454.1 219.5,454.3 219.0,454.5 218.5,454.7 218.0,454.9 217.5,455.1 217.0,455.3 216.5,455.6 216.0,455.7 215.5,456.0 215.0,456.2 214.5,456.4 214.0,456.6 213.5,456.8 213.0,457.1 212.5,457.3 212.0,457.4 211.5,457.7 211.0,457.9 210.5,458.1 210.0,458.4 209.5,458.6 209.0,458.9 208.5,459.1 208.0,459.4 207.5,459.7 207.0,459.9 206.5,460.2 206.0,460.6 205.5,460.8 205.0,461.2 204.5,461.5 204.0,461.8 203.5,462.2 203.0,462.5 202.5,462.9 202.0,463.1 201.5,463.6 201.0,463.9 200.5,464.3 200.0,464.7 199.5,465.0 199.0,465.5 198.5,465.8 198.0,466.2 197.5,466.6 197.0,467.0 196.5,467.4 196.0,467.8 195.5,468.2 195.0,468.5 194.5,468.9 194.0,469.3 193.5,469.8 193.0,470.2 192.5,470.6 192.0,471.0 191.5,471.5 191.0,471.9 190.5,472.4 190.0,472.9 189.5,473.3 189.0,473.8 188.5,474.3 188.0,474.8 187.5,475.3 187.0,475.9 186.5,476.4 186.0,476.9 185.5,477.5 185.0,478.1 184.5,478.6 184.0,479.2 183.5,479.7 183.0,480.3 182.5,480.9 182.0,481.5 181.5,482.1 181.0,482.7 180.5,483.3 180.0,483.9 179.5,484.5 179.0,485.2 178.5,485.9 178.0,486.6 177.5,487.3 177.0,488.1 176.5,488.8 176.0,489.7 175.5,490.5 175.0,491.4 174.5,492.3 174.0,493.3 173.5,494.3 173.0,495.5 172.5,496.8 172.0,498.1 171.5,499.6 171.0,501.0 170.5,502.5 170.0,503.9 169.5,505.1 169.0,506.3 168.5,507.5 168.0,508.8 167.5,510.4 167.0,512.3 166.5,514.4 166.0,516.6 165.5,518.7 165.0,520.8 164.5,522.9 164.0,525.0 163.5,527.3 163.0,529.7 162.5,532.4 162.0,535.1 161.5,537.8 161.0,540.5 160.5,543.1 160.0,545.8 159.5,548.4 159.0,550.8 158.5,553.3 158.0,555.6 157.5,558.0 157.0,560.5 156.5,563.0 156.0,565.8 155.5,568.2 155.0,569.9 154.5,571.1 154.0,572.0 153.5,572.6 153.0,573.0 152.5,573.1 152.0,573.1 151.5,572.8 151.0,572.2 150.5,571.4 150.0,570.3 149.5,568.8 149.0,566.6 148.5,563.2 148.0,556.0 147.5,549.8 147.0,544.5 146.5,538.6 146.0,532.9 145.5,529.2 145.0,526.3 144.5,523.5 144.0,521.0 143.5,518.7 143.0,516.8 142.5,514.9 142.0,513.0 141.5,511.0 141.0,508.9 140.5,506.9 140.0,505.0 139.5,503.2 139.0,501.5 138.5,499.8 138.0,498.4 137.5,497.0 137.0,495.6 136.5,494.2 136.0,493.0 135.5,491.7 135.0,490.4 134.5,489.1 134.0,487.8 133.5,486.5 133.0,485.3 132.5,484.0 132.0,482.8 131.5,481.6 131.0,480.5 130.5,479.4 130.0,478.4 129.5,477.4 129.0,476.5 128.5,475.5 128.0,474.6 127.5,473.7 127.0,472.8 126.5,471.9 126.0,471.0 125.5,470.2 125.0,469.3 124.5,468.5 124.0,467.7 123.5,466.9 123.0,466.1 122.5,465.3 122.0,464.5 121.5,463.7 121.0,462.9 120.5,462.1 120.0,461.3 119.5,460.6 119.0,459.8 118.5,459.1 118.0,458.4 117.5,457.7 117.0,457.0 116.5,456.4 116.0,455.8 115.5,455.2 115.0,454.7 114.5,454.1 114.0,453.5 113.5,453.0 113.0,452.4 112.5,451.8 112.0,451.2 111.5,450.7 111.0,450.1 110.5,449.6 110.0,449.1 109.5,448.5 109.0,448.0 108.5,447.5 108.0,447.0 107.5,446.4 107.0,445.9 106.5,445.4 106.0,444.9 105.5,444.4 105.0,443.9 104.5,443.3 104.0,442.8 103.5,442.4 103.0,441.9 102.5,441.4 102.0,440.9 101.5,440.4 101.0,439.9 100.5,439.4 100.0,438.9 99.5,438.5 99.0,438.0 98.5,437.5 98.0,437.0 97.5,436.5 97.0,436.1 96.5,435.6 96.0,435.2 95.5,434.7 95.0,434.2 94.5,433.8 94.0,433.3 93.5,432.9 93.0,432.4 92.5,432.0 92.0,431.5 91.5,431.1 91.0,430.7 90.5,430.2 90.0,429.7 89.5,429.3 89.0,428.9 88.5,428.5 88.0,428.0 87.5,427.6 87.0,427.1 86.5,426.7 86.0,426.2 85.5,425.8 85.0,425.4 84.5,424.9 84.0,424.4 83.5,423.9 83.0,423.5 82.5,423.0 82.0,422.5 81.5,422.0 81.0,421.5 80.5,421.0 80.0,420.6 79.5,420.1 79.0,419.6 78.5,419.0 78.0,418.5 77.5,418.0 77.0,417.5 76.5,417.0 76.0,416.5 75.5,415.9 75.0,415.4 74.5,414.9 74.0,414.3 73.5,413.7 73.0,413.2 72.5,412.6 72.0,412.1 71.5,411.5 71.0,411.0 70.5,410.4 70.0,409.8 69.5,409.3 69.0,408.8 68.5,408.3 68.0,407.7 67.5,407.2 67.0,406.6 66.5,406.1 66.0,405.5 65.5,404.8 65.0,404.3 64.5,403.6 64.0,402.9 63.5,402.4 63.0,401.8 62.5,401.1 62.0,400.6 61.5,400.0 61.0,399.5 60.5,398.9 60.0,398.4 59.5,397.9 59.0,397.3 58.5,396.8 58.0,395.7" fill="#d4d4d4"/>
<polygon points="58.5,395.2 59.0,395.6 59.5,396.1 60.0,396.5 60.5,397.2 61.0,397.6 61.5,398.1 62.0,398.7 62.5,399.1 63.0,399.8 63.5,400.3 64.0,400.9 64.5,401.6 65.0,402.1 65.5,402.7 66.0,403.3 66.5,403.9 67.0,404.4 67.5,405.0 68.0,405.5 68.5,406.1 69.0,406.6 69.5,407.1 70.0,407.6 70.5,408.1 71.0,408.7 71.5,409.1 72.0,409.7 72.5,410.2 73.0,410.7 73.5,411.4 74.0,411.8 74.5,412.4 75.0,412.9 75.5,413.4 76.0,413.9 76.5,414.5 77.0,415.0 77.5,415.5 78.0,415.9 78.5,416.4 79.0,416.9 79.5,417.5 80.0,418.0 80.5,418.4 81.0,418.8 81.5,419.3 82.0,419.8 82.5,420.3 83.0,420.7 83.5,421.2 84.0,421.6 84.5,422.1 85.0,422.6 85.5,423.0 86.0,423.4 86.5,423.8 87.0,424.2 87.5,424.7 88.0,425.1 88.5,425.6 89.0,426.0 89.5,426.4 90.0,426.8 90.5,427.2 91.0,427.6 91.5,428.0 92.0,428.5 92.5,428.9 93.0,429.3 93.5,429.7 94.0,430.2 94.5,430.6 95.0,431.0 95.5,431.4 96.0,431.9 96.5,432.4 97.0,432.8 97.5,433.2 98.0,433.6 98.5,434.1 99.0,434.5 99.5,435.0 100.0,435.4 100.5,435.9 101.0,436.4 101.5,436.8 102.0,437.3 102.5,437.7 103.0,438.1 103.5,438.5 104.0,439.0 104.5,439.4 105.0,439.9 105.5,440.3 106.0,440.8 106.5,441.2 107.0,441.7 107.5,442.1 108.0,442.6 108.5,443.0 109.0,443.5 109.5,444.0 110.0,444.4 110.5,444.9 111.0,445.4 111.5,445.9 112.0,446.3 112.5,446.8 113.0,447.3 113.5,447.8 114.0,448.3 114.5,448.8 115.0,449.4 115.5,449.9 116.0,450.4 116.5,450.9 117.0,451.4 117.5,451.9 118.0,452.4 118.5,452.9 119.0,453.5 119.5,454.1 120.0,454.7 120.5,455.4 121.0,456.1 121.5,456.7 122.0,457.4 122.5,458.2 123.0,458.9 123.5,459.5 124.0,460.2 124.5,460.9 125.0,461.7 125.5,462.5 126.0,463.2 126.5,463.8 127.0,464.6 127.5,465.3 128.0,466.1 128.5,466.9 129.0,467.7 129.5,468.4 130.0,469.1 130.5,469.9 131.0,470.7 131.5,471.5 132.0,472.4 132.5,473.1 133.0,473.9 133.5,474.8 134.0,475.7 134.5,476.6 135.0,477.6 135.5,478.6 136.0,479.6 136.5,480.6 137.0,481.7 137.5,482.8 138.0,484.0 138.5,485.2 139.0,486.4 139.5,487.4 140.0,488.5 140.5,489.7 141.0,490.9 141.5,492.0 142.0,493.2 142.5,494.5 143.0,495.7 143.5,497.1 144.0,498.2 144.5,499.6 145.0,500.9 145.5,502.4 146.0,503.9 146.5,505.4 147.0,506.9 147.5,508.4 148.0,509.9 148.5,511.3 149.0,512.8 149.5,514.4 150.0,516.3 150.5,518.2 151.0,520.4 151.5,522.6 152.0,524.9 152.5,527.7 153.0,531.3 153.5,535.6 154.0,538.2 154.5,536.2 155.0,533.8 155.5,531.3 156.0,528.8 156.5,526.5 157.0,524.2 157.5,522.1 158.0,520.1 158.5,518.2 159.0,516.2 159.5,514.4 160.0,512.5 160.5,510.6 161.0,508.7 161.5,506.9 162.0,505.4 162.5,504.1 163.0,502.9 163.5,501.9 164.0,500.9 164.5,499.8 165.0,498.6 165.5,497.2 166.0,495.8 166.5,494.5 167.0,493.1 167.5,491.8 168.0,490.7 168.5,489.6 169.0,488.6 169.5,487.6 170.0,486.8 170.5,485.9 171.0,485.1 171.5,484.3 172.0,483.5 172.5,482.7 173.0,482.0 173.5,481.3 174.0,480.6 174.5,480.0 175.0,479.3 175.5,478.7 176.0,478.1 176.5,477.5 177.0,476.9 177.5,476.4 178.0,475.8 178.5,475.3 179.0,474.7 179.5,474.2 180.0,473.6 180.5,473.1 181.0,472.6 181.5,472.1 182.0,471.6 182.5,471.0 183.0,470.5 183.5,470.0 184.0,469.5 184.5,469.1 185.0,468.6 185.5,468.1 186.0,467.6 186.5,467.1 187.0,466.7 187.5,466.2 188.0,465.8 188.5,465.4 189.0,464.9 189.5,464.5 190.0,464.1 190.5,463.7 191.0,463.4 191.5,463.0 192.0,462.6 192.5,462.2 193.0,461.9 193.5,461.5 194.0,461.2 194.5,460.8 195.0,460.5 195.5,460.1 196.0,459.7 196.5,459.4 197.0,459.0 197.5,458.7 198.0,458.3 198.5,457.9 199.0,457.6 199.5,457.2 200.0,457.0 200.5,456.5 201.0,456.3 201.5,455.9 202.0,455.6 202.5,455.2 203.0,454.9 203.5,454.6 204.0,454.3 204.5,454.0 205.0,453.6 205.5,453.4 206.0,453.1 206.5,452.9 207.0,452.5 207.5,452.3 208.0,452.1 208.5,451.8 209.0,451.6 209.5,451.3 210.0,451.1 210.5,450.9 211.0,450.7 211.5,450.5 212.0,450.2 212.5,450.1 213.0,449.8 213.5,449.6 214.0,449.4 214.5,449.2 215.0,449.0 215.5,448.8 216.0,448.5 216.5,448.4 217.0,448.1 217.5,447.9 218.0,447.7 218.5,447.5 219.0,447.3 219.5,447.1 220.0,446.9 220.5,446.7 221.0,446.5 221.5,446.3 222.0,446.1 222.5,446.0 223.0,445.7 223.5,445.5 224.0,445.3 224.5,445.1 225.0,445.0 225.5,444.8 226.0,444.6 226.5,444.4 227.0,444.2 227.5,444.0 228.0,443.9 228.5,443.7 229.0,443.5 229.5,443.3 230.0,443.1 230.5,443.0 231.0,442.8 231.5,442.7 232.0,442.5 232.5,442.4 233.0,442.2 233.5,442.1 234.0,441.9 234.5,441.8 235.0,441.6 235.5,441.6 236.0,441.4 236.5,441.3 237.0,441.2 237.5,441.0 238.0,441.0 238.5,440.8 239.0,440.6 239.5,440.6 240.0,440.5 240.5,440.3 241.0,440.3 241.5,440.2 242.0,439.9 242.5,439.9 243.0,439.9 243.5,439.6 244.0,439.5 244.5,439.6 245.0,439.3 245.5,439.1 246.0,439.2 246.5,439.0 247.0,438.8 247.5,438.8 248.0,438.7 248.5,438.5 249.0,438.4 249.5,438.4 250.0,438.1 250.5,438.0 251.0,438.1 251.5,437.8 252.0,437.6 252.5,437.7 253.0,437.4 253.5,437.3 254.0,437.3 254.5,437.0 255.0,436.9 255.5,436.8 256.0,436.6 256.5,436.5 257.0,436.4 257.5,436.2 258.0,436.2 258.5,435.9 259.0,435.8 259.5,435.7 260.0,435.5 260.5,435.5 261.0,435.2 261.5,435.1 262.0,435.0 262.5,434.8 263.0,434.8 263.5,434.5 264.0,434.4 264.5,434.4 265.0,434.1 265.5,434.1 266.0,433.9 266.5,433.7 267.0,433.7 267.5,433.5 268.0,433.4 268.5,433.4 269.0,433.1 269.5,433.0 270.0,433.1 270.5,432.8 271.0,432.7 271.5,432.8 272.0,432.5 272.5,432.4 273.0,432.5 273.5,432.2 274.0,432.1 274.5,432.2 275.0,431.9 275.5,431.7 276.0,431.8 276.5,431.6 277.0,431.4 277.5,431.5 278.0,431.3 278.5,431.1 279.0,431.1 279.5,431.1 280.0,430.8 280.5,430.8 281.0,430.8 281.5,430.5 282.0,430.5 282.5,430.6 283.0,430.3 283.5,430.2 284.0,430.3 284.5,430.0 285.0,429.9 285.5,430.0 286.0,429.7 286.5,429.6 287.0,429.7 287.5,429.4 288.0,429.3 288.5,429.4 289.0,429.1 289.5,429.0 290.0,429.2 290.5,428.8 291.0,428.8 291.5,428.8 292.0,428.5 292.5,428.5 293.0,428.5 293.5,428.3 294.0,428.2 294.5,428.2 295.0,428.0 295.5,428.0 296.0,427.9 296.5,427.7 297.0,427.8 297.5,427.6 298.0,427.5 298.5,427.6 299.0,427.3 299.5,427.2 300.0,427.3 300.5,427.0 301.0,427.0 301.5,427.0 302.0,426.8 302.5,426.8 303.0,426.7 303.5,426.5 304.0,426.6 304.5,426.4 305.0,426.3 305.5,426.4 306.0,426.2 306.5,426.1 307.0,426.2 307.5,425.9 308.0,425.9 308.5,425.9 309.0,425.7 309.5,425.7 310.0,425.7 310.5,425.5 311.0,425.6 311.5,425.4 312.0,425.3 312.5,425.4 313.0,425.2 313.5,425.1 314.0,425.3 314.5,425.0 315.0,425.0 315.5,425.1 316.0,424.8 316.5,424.8 317.0,424.8 317.5,424.6 318.0,424.7 318.5,424.6 319.0,424.4 319.5,424.5 320.0,424.4 320.5,424.3 321.0,424.4 321.5,424.2 322.0,424.1 322.5,424.2 323.0,424.1 323.5,423.9 324.0,424.1 324.5,423.9 325.0,423.8 325.5,423.9 326.0,423.7 326.5,423.6 327.0,423.8 327.5,423.6 328.0,423.5 328.5,423.6 329.0,423.4 329.5,423.3 330.0,423.5 330.5,423.3 331.0,423.2 331.5,423.3 332.0,423.1 332.5,423.0 333.0,423.1 333.5,423.0 334.0,422.8 334.5,423.0 335.0,422.8 335.5,422.7 336.0,422.8 336.5,422.7 337.0,422.5 337.5,422.6 338.0,422.5 338.5,422.4 339.0,422.5 339.5,422.3 340.0,422.2 340.5,422.3 341.0,422.2 341.5,422.0 342.0,422.2 342.5,422.0 343.0,421.9 343.5,422.1 344.0,421.8 344.5,421.7 345.0,421.9 345.5,421.6 346.0,421.6 346.5,421.6 347.0,421.4 347.5,421.5 348.0,421.4 348.5,421.2 349.0,421.3 349.5,421.2 350.0,421.1 350.5,421.2 351.0,421.0 351.5,420.9 352.0,421.1 352.5,420.8 353.0,420.8 353.5,420.8 354.0,420.6 354.5,420.6 355.0,420.6 355.5,420.4 356.0,420.5 356.5,420.4 357.0,420.2 357.5,420.4 358.0,420.1 358.5,420.0 359.0,420.2 359.5,419.9 360.0,419.9 360.5,420.0 361.0,419.7 361.5,419.7 362.0,419.8 362.5,419.5 363.0,419.5 363.5,419.5 364.0,419.3 364.5,419.4 365.0,419.3 365.5,419.1 366.0,419.2 366.5,419.0 367.0,418.9 367.5,419.1 368.0,418.8 368.5,418.7 369.0,419.0 369.5,418.6 370.0,418.5 370.5,418.7 371.0,418.3 371.5,418.4 372.0,418.4 372.5,418.1 373.0,418.2 373.5,418.1 374.0,417.9 374.5,418.1 375.0,417.8 375.5,417.7 376.0,417.9 376.5,417.6 377.0,417.4 377.5,417.6 378.0,417.4 378.5,417.2 379.0,417.3 379.5,417.2 380.0,416.9 380.5,417.0 381.0,417.0 381.5,416.7 382.0,416.7 382.5,416.9 383.0,416.4 383.5,416.4 384.0,416.6 384.5,416.2 385.0,416.1 385.5,416.3 386.0,415.9 386.5,415.9 387.0,415.8 387.5,415.6 388.0,415.8 388.5,415.4 389.0,415.5 389.5,415.3 390.0,415.3 390.5,415.1 391.0,415.3 391.5,416.0 391.5,419.8 391.0,420.4 390.5,420.6 390.0,420.7 389.5,420.7 389.0,420.9 388.5,420.9 388.0,421.0 387.5,421.1 387.0,421.0 386.5,421.3 386.0,421.3 385.5,421.3 385.0,421.6 384.5,421.6 384.0,421.6 383.5,421.9 383.0,421.9 382.5,421.8 382.0,422.2 381.5,422.2 381.0,422.0 380.5,422.4 380.0,422.5 379.5,422.2 379.0,422.6 378.5,422.8 378.0,422.6 377.5,422.9 377.0,423.0 376.5,422.9 376.0,423.1 375.5,423.3 375.0,423.2 374.5,423.4 374.0,423.5 373.5,423.4 373.0,423.7 372.5,423.8 372.0,423.5 371.5,423.9 371.0,424.0 370.5,423.9 370.0,424.2 369.5,424.1 369.0,424.1 368.5,424.4 368.0,424.3 367.5,424.4 367.0,424.6 366.5,424.5 366.0,424.7 365.5,424.8 365.0,424.6 364.5,424.9 364.0,425.0 363.5,424.8 363.0,425.1 362.5,425.2 362.0,425.1 361.5,425.4 361.0,425.4 360.5,425.3 360.0,425.6 359.5,425.5 359.0,425.6 358.5,425.8 358.0,425.7 357.5,425.8 357.0,426.0 356.5,425.8 356.0,426.1 355.5,426.2 355.0,426.0 354.5,426.3 354.0,426.3 353.5,426.2 353.0,426.5 352.5,426.5 352.0,426.5 351.5,426.7 351.0,426.6 350.5,426.7 350.0,426.9 349.5,426.8 349.0,427.0 348.5,427.1 348.0,426.9 347.5,427.2 347.0,427.2 346.5,427.1 346.0,427.4 345.5,427.4 345.0,427.3 344.5,427.6 344.0,427.5 343.5,427.6 343.0,427.8 342.5,427.7 342.0,427.8 341.5,428.0 341.0,427.8 340.5,428.0 340.0,428.1 339.5,428.0 339.0,428.2 338.5,428.3 338.0,428.1 337.5,428.4 337.0,428.5 336.5,428.3 336.0,428.5 335.5,428.6 335.0,428.5 334.5,428.7 334.0,428.8 333.5,428.6 333.0,428.9 332.5,429.0 332.0,428.8 331.5,429.0 331.0,429.2 330.5,429.0 330.0,429.2 329.5,429.3 329.0,429.2 328.5,429.3 328.0,429.5 327.5,429.4 327.0,429.5 326.5,429.7 326.0,429.5 325.5,429.7 325.0,429.8 324.5,429.7 324.0,429.8 323.5,430.0 323.0,429.9 322.5,430.0 322.0,430.2 321.5,430.0 321.0,430.2 320.5,430.4 320.0,430.2 319.5,430.4 319.0,430.5 318.5,430.3 318.0,430.6 317.5,430.7 317.0,430.5 316.5,430.8 316.0,430.8 315.5,430.8 315.0,431.0 314.5,431.0 314.0,431.0 313.5,431.2 313.0,431.1 312.5,431.3 312.0,431.4 311.5,431.2 311.0,431.5 310.5,431.6 310.0,431.4 309.5,431.7 309.0,431.7 308.5,431.7 308.0,431.9 307.5,431.9 307.0,432.0 306.5,432.2 306.0,432.1 305.5,432.2 305.0,432.4 304.5,432.2 304.0,432.5 303.5,432.6 303.0,432.4 302.5,432.8 302.0,432.8 301.5,432.7 301.0,433.0 300.5,433.0 300.0,433.1 299.5,433.3 299.0,433.2 298.5,433.4 298.0,433.5 297.5,433.4 297.0,433.7 296.5,433.8 296.0,433.6 295.5,434.0 295.0,434.0 294.5,434.0 294.0,434.3 293.5,434.2 293.0,434.3 292.5,434.5 292.0,434.5 291.5,434.6 291.0,434.8 290.5,434.7 290.0,434.9 289.5,435.1 289.0,435.0 288.5,435.2 288.0,435.4 287.5,435.2 287.0,435.5 286.5,435.6 286.0,435.5 285.5,435.8 285.0,435.9 284.5,435.8 284.0,436.0 283.5,436.2 283.0,436.1 282.5,436.3 282.0,436.5 281.5,436.5 281.0,436.5 280.5,436.8 280.0,436.8 279.5,436.7 279.0,437.1 278.5,437.1 278.0,436.9 277.5,437.4 277.0,437.5 276.5,437.2 276.0,437.6 275.5,437.8 275.0,437.6 274.5,437.9 274.0,438.1 273.5,437.9 273.0,438.2 272.5,438.4 272.0,438.3 271.5,438.6 271.0,438.7 270.5,438.6 270.0,438.9 269.5,439.1 269.0,438.9 268.5,439.3 268.0,439.4 267.5,439.3 267.0,439.7 266.5,439.7 266.0,439.8 265.5,440.1 265.0,440.0 264.5,440.3 264.0,440.4 263.5,440.5 263.0,440.7 262.5,440.7 262.0,441.0 261.5,441.1 261.0,441.1 260.5,441.4 260.0,441.4 259.5,441.7 259.0,441.8 258.5,441.7 258.0,442.1 257.5,442.2 257.0,442.3 256.5,442.5 256.0,442.4 255.5,442.7 255.0,442.9 254.5,442.7 254.0,443.1 253.5,443.3 253.0,443.0 252.5,443.5 252.0,443.6 251.5,443.4 251.0,443.9 250.5,444.0 250.0,443.8 249.5,444.2 249.0,444.4 248.5,444.2 248.0,444.4 247.5,444.7 247.0,444.7 246.5,444.6 246.0,445.1 245.5,445.1 245.0,444.8 244.5,445.4 244.0,445.5 243.5,445.3 243.0,445.6 242.5,445.9 242.0,445.8 241.5,445.9 241.0,446.2 240.5,446.2 240.0,446.3 239.5,446.6 239.0,446.5 238.5,446.7 238.0,446.9 237.5,446.9 237.0,447.1 236.5,447.3 236.0,447.3 235.5,447.6 235.0,447.5 234.5,447.8 234.0,447.9 233.5,448.1 233.0,448.2 232.5,448.4 232.0,448.6 231.5,448.7 231.0,448.9 230.5,449.1 230.0,449.2 229.5,449.4 229.0,449.6 228.5,449.8 228.0,450.0 227.5,450.1 227.0,450.4 226.5,450.5 226.0,450.7 225.5,450.9 225.0,451.1 224.5,451.3 224.0,451.5 223.5,451.6 223.0,451.9 222.5,452.0 222.0,452.3 221.5,452.5 221.0,452.6 220.5,452.9 220.0,453.0 219.5,453.3 219.0,453.5 218.5,453.6 218.0,453.9 217.5,454.1 217.0,454.3 216.5,454.6 216.0,454.7 215.5,455.0 215.0,455.2 214.5,455.4 214.0,455.6 213.5,455.7 213.0,456.0 212.5,456.2 212.0,456.4 211.5,456.7 211.0,456.9 210.5,457.1 210.0,457.4 209.5,457.5 209.0,457.9 208.5,458.1 208.0,458.3 207.5,458.7 207.0,458.9 206.5,459.2 206.0,459.5 205.5,459.8 205.0,460.1 204.5,460.4 204.0,460.8 203.5,461.1 203.0,461.5 202.5,461.8 202.0,462.1 201.5,462.5 201.0,462.8 200.5,463.3 200.0,463.6 199.5,464.0 199.0,464.4 198.5,464.7 198.0,465.2 197.5,465.5 197.0,465.9 196.5,466.3 196.0,466.7 195.5,467.0 195.0,467.4 194.5,467.8 194.0,468.2 193.5,468.7 193.0,469.1 192.5,469.5 192.0,469.9 191.5,470.3 191.0,470.8 190.5,471.2 190.0,471.7 189.5,472.2 189.0,472.6 188.5,473.1 188.0,473.6 187.5,474.2 187.0,474.7 186.5,475.2 186.0,475.8 185.5,476.3 185.0,476.8 184.5,477.4 184.0,477.9 183.5,478.5 183.0,479.0 182.5,479.6 182.0,480.2 181.5,480.8 181.0,481.4 180.5,482.0 180.0,482.6 179.5,483.2 179.0,483.9 178.5,484.5 178.0,485.2 177.5,485.9 177.0,486.6 176.5,487.4 176.0,488.2 175.5,489.0 175.0,489.8 174.5,490.7 174.0,491.6 173.5,492.7 173.0,493.7 172.5,494.9 172.0,496.2 171.5,497.5 171.0,499.0 170.5,500.4 170.0,501.8 169.5,503.2 169.0,504.5 168.5,505.6 168.0,506.8 167.5,508.1 167.0,509.6 166.5,511.5 166.0,513.5 165.5,515.7 165.0,517.7 164.5,519.8 164.0,521.9 163.5,524.0 163.0,526.2 162.5,528.6 162.0,531.1 161.5,533.8 161.0,536.5 160.5,539.1 160.0,541.7 159.5,544.3 159.0,546.8 158.5,549.3 158.0,551.6 157.5,553.9 157.0,556.2 156.5,558.5 156.0,560.9 155.5,563.5 155.0,566.2 154.5,568.0 154.0,569.2 153.5,570.0 153.0,570.5 152.5,570.7 152.0,570.6 151.5,570.2 151.0,569.5 150.5,568.4 150.0,566.8 149.5,564.3 149.0,559.7 148.5,551.8 148.0,546.8 147.5,541.4 147.0,535.8 146.5,530.7 146.0,527.6 145.5,524.8 145.0,522.2 144.5,519.8 144.0,517.6 143.5,515.7 143.0,513.9 142.5,512.0 142.0,510.1 141.5,508.1 141.0,506.2 140.5,504.3 140.0,502.5 139.5,500.9 139.0,499.3 138.5,497.9 138.0,496.5 137.5,495.2 137.0,493.8 136.5,492.6 136.0,491.3 135.5,490.0 135.0,488.8 134.5,487.5 134.0,486.2 133.5,485.0 133.0,483.8 132.5,482.6 132.0,481.4 131.5,480.3 131.0,479.2 130.5,478.2 130.0,477.2 129.5,476.3 129.0,475.3 128.5,474.4 128.0,473.5 127.5,472.6 127.0,471.8 126.5,471.0 126.0,470.1 125.5,469.3 125.0,468.4 124.5,467.6 124.0,466.8 123.5,466.0 123.0,465.1 122.5,464.3 122.0,463.6 121.5,462.9 121.0,462.1 120.5,461.4 120.0,460.6 119.5,459.8 119.0,459.1 118.5,458.4 118.0,457.7 117.5,456.9 117.0,456.3 116.5,455.7 116.0,455.1 115.5,454.6 115.0,454.0 114.5,453.5 114.0,452.9 113.5,452.3 113.0,451.8 112.5,451.2 112.0,450.7 111.5,450.1 111.0,449.6 110.5,449.0 110.0,448.5 109.5,448.0 109.0,447.5 108.5,446.9 108.0,446.4 107.5,445.9 107.0,445.4 106.5,444.9 106.0,444.4 105.5,443.8 105.0,443.3 104.5,442.9 104.0,442.4 103.5,441.9 103.0,441.4 102.5,440.9 102.0,440.4 101.5,439.9 101.0,439.5 100.5,439.0 100.0,438.5 99.5,438.0 99.0,437.5 98.5,437.0 98.0,436.5 97.5,436.1 97.0,435.7 96.5,435.2 96.0,434.8 95.5,434.3 95.0,433.8 94.5,433.3 94.0,432.9 93.5,432.5 93.0,432.0 92.5,431.6 92.0,431.2 91.5,430.7 91.0,430.2 90.5,429.8 90.0,429.4 89.5,429.0 89.0,428.5 88.5,428.1 88.0,427.6 87.5,427.1 87.0,426.7 86.5,426.3 86.0,425.9 85.5,425.5 85.0,425.0 84.5,424.5 84.0,424.0 83.5,423.6 83.0,423.1 82.5,422.7 82.0,422.2 81.5,421.6 81.0,421.2 80.5,420.7 80.0,420.2 79.5,419.7 79.0,419.2 78.5,418.6 78.0,418.2 77.5,417.7 77.0,417.2 76.5,416.7 76.0,416.1 75.5,415.6 75.0,415.1 74.5,414.5 74.0,413.9 73.5,413.5 73.0,412.9 72.5,412.3 72.0,411.8 71.5,411.1 71.0,410.7 70.5,410.1 70.0,409.6 69.5,409.0 69.0,408.5 68.5,408.0 68.0,407.4 67.5,406.9 67.0,406.3 66.5,405.8 66.0,405.2 65.5,404.5 65.0,404.0 64.5,403.3 64.0,402.7 63.5,402.1 63.0,401.5 62.5,400.9 62.0,400.3 61.5,399.7 61.0,399.2 60.5,398.6 60.0,398.1 59.5,397.6 59.0,397.1 58.5,396.6" fill="#c5c5c5"/>
<polygon points="58.5,395.4 59.0,395.8 59.5,396.4 60.0,396.8 60.5,397.4 61.0,397.8 61.5,398.5 62.0,398.9 62.5,399.4 63.0,400.1 63.5,400.6 64.0,401.2 64.5,401.9 65.0,402.4 65.5,403.0 66.0,403.7 66.5,404.2 67.0,404.7 67.5,405.3 68.0,405.8 68.5,406.4 69.0,406.8 69.5,407.5 70.0,407.9 70.5,408.5 71.0,408.9 71.5,409.5 72.0,410.1 72.5,410.5 73.0,411.2 73.5,411.6 74.0,412.2 74.5,412.8 75.0,413.2 75.5,413.7 76.0,414.4 76.5,414.8 77.0,415.3 77.5,415.8 78.0,416.3 78.5,416.9 79.0,417.4 79.5,417.8 80.0,418.3 80.5,418.7 81.0,419.2 81.5,419.8 82.0,420.2 82.5,420.7 83.0,421.1 83.5,421.5 84.0,422.1 84.5,422.5 85.0,422.9 85.5,423.4 86.0,423.8 86.5,424.2 87.0,424.7 87.5,425.2 88.0,425.6 88.5,426.0 89.0,426.3 89.5,426.7 90.0,427.2 90.5,427.6 91.0,428.1 91.5,428.5 92.0,428.9 92.5,429.3 93.0,429.7 93.5,430.2 94.0,430.6 94.5,431.0 95.0,431.5 95.5,431.9 96.0,432.3 96.5,432.8 97.0,433.2 97.5,433.6 98.0,434.1 98.5,434.6 99.0,435.1 99.5,435.6 100.0,436.0 100.5,436.4 101.0,436.8 101.5,437.3 102.0,437.7 102.5,438.1 103.0,438.6 103.5,439.0 104.0,439.5 104.5,440.0 105.0,440.4 105.5,440.8 106.0,441.3 106.5,441.7 107.0,442.2 107.5,442.6 108.0,443.1 108.5,443.6 109.0,444.1 109.5,444.5 110.0,445.0 110.5,445.5 111.0,445.9 111.5,446.4 112.0,446.9 112.5,447.4 113.0,447.9 113.5,448.4 114.0,448.9 114.5,449.4 115.0,449.9 115.5,450.5 116.0,451.0 116.5,451.5 117.0,452.0 117.5,452.5 118.0,453.0 118.5,453.6 119.0,454.1 119.5,454.8 120.0,455.5 120.5,456.2 121.0,456.9 121.5,457.5 122.0,458.2 122.5,458.8 123.0,459.5 123.5,460.3 124.0,461.1 124.5,461.9 125.0,462.4 125.5,463.1 126.0,463.9 126.5,464.7 127.0,465.5 127.5,466.3 128.0,466.9 128.5,467.6 129.0,468.4 129.5,469.2 130.0,470.0 130.5,470.9 131.0,471.6 131.5,472.3 132.0,473.1 132.5,474.0 133.0,474.9 133.5,475.8 134.0,476.7 134.5,477.7 135.0,478.7 135.5,479.7 136.0,480.8 136.5,481.8 137.0,482.9 137.5,484.0 138.0,485.2 138.5,486.6 139.0,487.6 139.5,488.6 140.0,489.7 140.5,491.1 141.0,492.2 141.5,493.3 142.0,494.7 142.5,495.8 143.0,497.3 143.5,498.5 144.0,500.0 144.5,501.7 145.0,503.2 145.5,504.8 146.0,506.6 146.5,508.3 147.0,510.0 147.5,511.6 148.0,513.2 148.5,515.1 149.0,517.1 149.5,519.4 150.0,521.9 150.5,524.3 151.0,527.1 151.5,530.5 152.0,534.4 152.5,538.5 153.0,542.2 153.5,543.9 154.0,542.0 154.5,540.0 155.0,537.8 155.5,535.4 156.0,532.9 156.5,530.4 157.0,527.9 157.5,525.4 158.0,523.1 158.5,521.1 159.0,519.0 159.5,517.1 160.0,515.2 160.5,513.2 161.0,511.2 161.5,509.2 162.0,507.5 162.5,505.8 163.0,504.5 163.5,503.3 164.0,502.2 164.5,501.2 165.0,500.0 165.5,498.8 166.0,497.4 166.5,496.0 167.0,494.8 167.5,493.4 168.0,492.2 168.5,491.1 169.0,489.9 169.5,488.9 170.0,488.0 170.5,487.2 171.0,486.3 171.5,485.5 172.0,484.7 172.5,483.9 173.0,483.2 173.5,482.5 174.0,481.8 174.5,481.1 175.0,480.5 175.5,479.8 176.0,479.2 176.5,478.6 177.0,478.0 177.5,477.5 178.0,476.9 178.5,476.4 179.0,475.8 179.5,475.3 180.0,474.7 180.5,474.2 181.0,473.6 181.5,473.1 182.0,472.6 182.5,472.1 183.0,471.6 183.5,471.0 184.0,470.5 184.5,470.0 185.0,469.6 185.5,469.1 186.0,468.6 186.5,468.1 187.0,467.6 187.5,467.2 188.0,466.8 188.5,466.4 189.0,465.9 189.5,465.5 190.0,465.0 190.5,464.6 191.0,464.2 191.5,463.9 192.0,463.5 192.5,463.2 193.0,462.8 193.5,462.4 194.0,462.0 194.5,461.7 195.0,461.3 195.5,460.9 196.0,460.7 196.5,460.2 197.0,459.9 197.5,459.6 198.0,459.1 198.5,458.9 199.0,458.4 199.5,458.2 200.0,457.8 200.5,457.4 201.0,457.1 201.5,456.7 202.0,456.4 202.5,456.0 203.0,455.8 203.5,455.4 204.0,455.2 204.5,454.8 205.0,454.5 205.5,454.2 206.0,453.9 206.5,453.7 207.0,453.3 207.5,453.2 208.0,452.8 208.5,452.6 209.0,452.4 209.5,452.1 210.0,452.0 210.5,451.7 211.0,451.5 211.5,451.3 212.0,451.0 212.5,450.9 213.0,450.6 213.5,450.5 214.0,450.2 214.5,450.0 215.0,449.9 215.5,449.6 216.0,449.4 216.5,449.2 217.0,448.9 217.5,448.8 218.0,448.5 218.5,448.4 219.0,448.1 219.5,447.9 220.0,447.7 220.5,447.5 221.0,447.4 221.5,447.1 222.0,446.9 222.5,446.7 223.0,446.5 223.5,446.4 224.0,446.1 224.5,446.0 225.0,445.8 225.5,445.6 226.0,445.5 226.5,445.2 227.0,445.0 227.5,444.9 228.0,444.7 228.5,444.5 229.0,444.3 229.5,444.1 230.0,444.0 230.5,443.8 231.0,443.6 231.5,443.5 232.0,443.3 232.5,443.2 233.0,443.0 233.5,442.9 234.0,442.7 234.5,442.7 235.0,442.4 235.5,442.4 236.0,442.2 236.5,442.1 237.0,442.2 237.5,441.8 238.0,441.8 238.5,441.8 239.0,441.4 239.5,441.4 240.0,441.4 240.5,441.1 241.0,441.1 241.5,441.2 242.0,440.8 242.5,440.7 243.0,440.9 243.5,440.5 244.0,440.3 244.5,440.5 245.0,440.2 245.5,439.9 246.0,440.0 246.5,440.0 247.0,439.6 247.5,439.6 248.0,439.9 248.5,439.3 249.0,439.2 249.5,439.4 250.0,439.0 250.5,438.8 251.0,438.9 251.5,438.7 252.0,438.4 252.5,438.5 253.0,438.3 253.5,438.1 254.0,438.2 254.5,437.9 255.0,437.7 255.5,437.9 256.0,437.4 256.5,437.4 257.0,437.4 257.5,437.0 258.0,437.1 258.5,436.8 259.0,436.6 259.5,436.8 260.0,436.4 260.5,436.3 261.0,436.2 261.5,436.0 262.0,436.1 262.5,435.7 263.0,435.6 263.5,435.5 264.0,435.3 264.5,435.4 265.0,435.0 265.5,434.9 266.0,435.0 266.5,434.6 267.0,434.6 267.5,434.5 268.0,434.3 268.5,434.4 269.0,434.1 269.5,433.9 270.0,434.1 270.5,433.8 271.0,433.6 271.5,433.8 272.0,433.4 272.5,433.3 273.0,433.5 273.5,433.1 274.0,433.0 274.5,433.2 275.0,432.9 275.5,432.7 276.0,432.8 276.5,432.6 277.0,432.3 277.5,432.5 278.0,432.4 278.5,432.1 279.0,432.1 279.5,432.2 280.0,431.8 280.5,431.8 281.0,432.1 281.5,431.5 282.0,431.4 282.5,431.8 283.0,431.3 283.5,431.1 284.0,431.4 284.5,431.0 285.0,430.8 285.5,431.1 286.0,430.8 286.5,430.6 287.0,430.8 287.5,430.5 288.0,430.3 288.5,430.5 289.0,430.2 289.5,430.0 290.0,430.2 290.5,429.9 291.0,429.7 291.5,430.0 292.0,429.6 292.5,429.5 293.0,429.8 293.5,429.3 294.0,429.2 294.5,429.4 295.0,429.0 295.5,429.0 296.0,429.0 296.5,428.7 297.0,428.8 297.5,428.7 298.0,428.5 298.5,428.7 299.0,428.4 299.5,428.2 300.0,428.6 300.5,428.1 301.0,428.0 301.5,428.2 302.0,427.8 302.5,427.8 303.0,427.9 303.5,427.6 304.0,427.7 304.5,427.6 305.0,427.3 305.5,427.6 306.0,427.3 306.5,427.1 307.0,427.4 307.5,427.0 308.0,427.0 308.5,427.3 309.0,426.8 309.5,426.8 310.0,426.9 310.5,426.6 311.0,426.7 311.5,426.6 312.0,426.4 312.5,426.6 313.0,426.4 313.5,426.2 314.0,426.5 314.5,426.1 315.0,426.1 315.5,426.5 316.0,425.9 316.5,425.9 317.0,426.2 317.5,425.7 318.0,425.8 318.5,425.9 319.0,425.5 319.5,425.7 320.0,425.7 320.5,425.4 321.0,425.6 321.5,425.4 322.0,425.2 322.5,425.4 323.0,425.3 323.5,425.0 324.0,425.3 324.5,425.1 325.0,424.9 325.5,425.2 326.0,424.9 326.5,424.7 327.0,425.0 327.5,424.8 328.0,424.6 328.5,424.9 329.0,424.6 329.5,424.4 330.0,424.7 330.5,424.5 331.0,424.2 331.5,424.5 332.0,424.4 332.5,424.1 333.0,424.3 333.5,424.2 334.0,423.9 334.5,424.2 335.0,424.1 335.5,423.8 336.0,424.0 336.5,423.9 337.0,423.6 337.5,423.8 338.0,423.8 338.5,423.5 339.0,423.7 339.5,423.6 340.0,423.3 340.5,423.6 341.0,423.4 341.5,423.1 342.0,423.5 342.5,423.1 343.0,423.0 343.5,423.4 344.0,422.9 344.5,422.8 345.0,423.4 345.5,422.7 346.0,422.7 346.5,423.0 347.0,422.5 347.5,422.6 348.0,422.7 348.5,422.3 349.0,422.5 349.5,422.4 350.0,422.2 350.5,422.5 351.0,422.1 351.5,422.0 352.0,422.5 352.5,421.9 353.0,421.9 353.5,422.3 354.0,421.7 354.5,421.8 355.0,421.9 355.5,421.5 356.0,421.7 356.5,421.6 357.0,421.3 357.5,421.6 358.0,421.3 358.5,421.1 359.0,421.6 359.5,421.1 360.0,421.0 360.5,421.5 361.0,420.8 361.5,420.8 362.0,421.2 362.5,420.6 363.0,420.7 363.5,420.9 364.0,420.4 364.5,420.6 365.0,420.6 365.5,420.2 366.0,420.5 366.5,420.3 367.0,420.0 367.5,420.4 368.0,420.0 368.5,419.8 369.0,420.4 369.5,419.7 370.0,419.7 370.5,420.2 371.0,419.5 371.5,419.5 372.0,419.7 372.5,419.2 373.0,419.4 373.5,419.3 374.0,419.0 374.5,419.3 375.0,419.0 375.5,418.8 376.0,419.2 376.5,418.8 377.0,418.5 377.5,418.9 378.0,418.7 378.5,418.3 379.0,418.6 379.5,418.7 380.0,418.0 380.5,418.2 381.0,418.8 381.5,417.8 382.0,417.8 382.5,418.8 383.0,417.6 383.5,417.5 384.0,418.3 384.5,417.3 385.0,417.2 385.5,418.0 386.0,417.0 386.5,417.0 387.0,417.2 387.5,416.7 388.0,417.0 388.5,416.6 389.0,416.6 389.5,416.4 390.0,416.5 390.5,416.2 391.0,416.6 391.0,419.2 390.5,419.6 390.0,419.6 389.5,419.7 389.0,419.8 388.5,419.9 388.0,419.9 387.5,420.1 387.0,419.7 386.5,420.3 386.0,420.3 385.5,419.9 385.0,420.6 384.5,420.5 384.0,420.2 383.5,420.9 383.0,420.8 382.5,420.2 382.0,421.1 381.5,421.1 381.0,420.2 380.5,421.3 380.0,421.4 379.5,420.8 379.0,421.5 378.5,421.7 378.0,421.3 377.5,421.6 377.0,422.0 376.5,421.7 376.0,421.8 375.5,422.3 375.0,422.0 374.5,422.2 374.0,422.5 373.5,422.2 373.0,422.5 372.5,422.7 372.0,422.2 371.5,422.8 371.0,422.9 370.5,422.4 370.0,423.1 369.5,423.0 369.0,422.8 368.5,423.3 368.0,423.2 367.5,423.2 367.0,423.5 366.5,423.3 366.0,423.5 365.5,423.7 365.0,423.4 364.5,423.8 364.0,423.9 363.5,423.4 363.0,424.0 362.5,424.1 362.0,423.5 361.5,424.3 361.0,424.2 360.5,423.9 360.0,424.5 359.5,424.4 359.0,424.3 358.5,424.7 358.0,424.5 357.5,424.6 357.0,424.9 356.5,424.6 356.0,424.9 355.5,425.1 355.0,424.6 354.5,425.1 354.0,425.2 353.5,424.7 353.0,425.4 352.5,425.4 352.0,425.1 351.5,425.6 351.0,425.5 350.5,425.4 350.0,425.8 349.5,425.5 349.0,425.7 348.5,426.0 348.0,425.6 347.5,426.0 347.0,426.1 346.5,425.6 346.0,426.2 345.5,426.2 345.0,425.9 344.5,426.4 344.0,426.4 343.5,426.2 343.0,426.6 342.5,426.5 342.0,426.5 341.5,426.8 341.0,426.6 340.5,426.7 340.0,427.0 339.5,426.7 339.0,426.9 338.5,427.2 338.0,426.8 337.5,427.1 337.0,427.3 336.5,427.0 336.0,427.3 335.5,427.5 335.0,427.1 334.5,427.4 334.0,427.7 333.5,427.3 333.0,427.6 332.5,427.8 332.0,427.5 331.5,427.7 331.0,428.0 330.5,427.7 330.0,427.9 329.5,428.2 329.0,427.9 328.5,428.0 328.0,428.3 327.5,428.1 327.0,428.2 326.5,428.5 326.0,428.3 325.5,428.3 325.0,428.6 324.5,428.4 324.0,428.5 323.5,428.8 323.0,428.6 322.5,428.7 322.0,429.0 321.5,428.7 321.0,428.9 320.5,429.2 320.0,428.8 319.5,429.2 319.0,429.3 318.5,428.9 318.0,429.4 317.5,429.5 317.0,429.0 316.5,429.6 316.0,429.6 315.5,429.3 315.0,429.8 314.5,429.7 314.0,429.6 313.5,430.0 313.0,429.8 312.5,429.9 312.0,430.2 311.5,429.8 311.0,430.2 310.5,430.3 310.0,429.9 309.5,430.4 309.0,430.5 308.5,430.2 308.0,430.7 307.5,430.6 307.0,430.5 306.5,430.9 306.0,430.7 305.5,430.8 305.0,431.1 304.5,430.8 304.0,431.1 303.5,431.3 303.0,430.9 302.5,431.4 302.0,431.5 301.5,431.1 301.0,431.7 300.5,431.7 300.0,431.5 299.5,432.0 299.0,431.8 298.5,431.9 298.0,432.2 297.5,432.0 297.0,432.3 296.5,432.5 296.0,432.1 295.5,432.6 295.0,432.7 294.5,432.3 294.0,432.9 293.5,432.9 293.0,432.7 292.5,433.2 292.0,433.1 291.5,433.1 291.0,433.5 290.5,433.3 290.0,433.4 289.5,433.8 289.0,433.5 288.5,433.7 288.0,434.0 287.5,433.7 287.0,434.0 286.5,434.3 286.0,434.0 285.5,434.2 285.0,434.6 284.5,434.3 284.0,434.5 283.5,434.9 283.0,434.7 282.5,434.6 282.0,435.1 281.5,435.0 281.0,434.7 280.5,435.4 280.0,435.4 279.5,434.8 279.0,435.7 278.5,435.7 278.0,435.2 277.5,435.9 277.0,436.1 276.5,435.6 276.0,436.1 275.5,436.4 275.0,436.0 274.5,436.4 274.0,436.7 273.5,436.4 273.0,436.6 272.5,437.0 272.0,436.8 271.5,437.0 271.0,437.3 270.5,437.1 270.0,437.3 269.5,437.7 269.0,437.3 268.5,437.8 268.0,438.0 267.5,437.5 267.0,438.2 266.5,438.3 266.0,438.2 265.5,438.6 265.0,438.4 264.5,438.8 264.0,439.0 263.5,438.7 263.0,439.3 262.5,439.2 262.0,439.4 261.5,439.7 261.0,439.3 260.5,440.0 260.0,439.9 259.5,440.0 259.0,440.4 258.5,440.0 258.0,440.6 257.5,440.7 257.0,440.5 256.5,441.0 256.0,440.9 255.5,441.1 255.0,441.4 254.5,441.1 254.0,441.6 253.5,441.8 253.0,441.3 252.5,441.9 252.0,442.1 251.5,441.6 251.0,442.2 250.5,442.5 250.0,442.1 249.5,442.5 249.0,442.9 248.5,442.6 248.0,442.6 247.5,443.2 247.0,443.1 246.5,442.5 246.0,443.5 245.5,443.6 245.0,443.1 244.5,443.7 244.0,444.0 243.5,443.7 243.0,443.8 242.5,444.4 242.0,444.2 241.5,444.0 241.0,444.7 240.5,444.7 240.0,444.3 239.5,445.0 239.0,445.0 238.5,444.8 238.0,445.4 237.5,445.3 237.0,445.4 236.5,445.8 236.0,445.5 235.5,446.0 235.0,446.0 234.5,446.3 234.0,446.4 233.5,446.6 233.0,446.6 232.5,446.9 232.0,446.9 231.5,447.2 231.0,447.4 230.5,447.4 230.0,447.7 229.5,447.9 229.0,448.1 228.5,448.2 228.0,448.4 227.5,448.6 227.0,448.8 226.5,448.9 226.0,449.2 225.5,449.3 225.0,449.5 224.5,449.7 224.0,449.8 223.5,450.1 223.0,450.3 222.5,450.4 222.0,450.7 221.5,450.7 221.0,451.1 220.5,451.2 220.0,451.4 219.5,451.7 219.0,451.7 218.5,452.1 218.0,452.3 217.5,452.5 217.0,452.7 216.5,452.8 216.0,453.2 215.5,453.3 215.0,453.6 214.5,453.8 214.0,453.9 213.5,454.2 213.0,454.4 212.5,454.6 212.0,454.9 211.5,455.0 211.0,455.3 210.5,455.5 210.0,455.7 209.5,456.0 209.0,456.1 208.5,456.4 208.0,456.7 207.5,456.9 207.0,457.3 206.5,457.5 206.0,457.8 205.5,458.1 205.0,458.3 204.5,458.8 204.0,458.9 203.5,459.4 203.0,459.7 202.5,460.0 202.0,460.4 201.5,460.7 201.0,461.1 200.5,461.3 200.0,461.9 199.5,462.1 199.0,462.6 198.5,463.0 198.0,463.3 197.5,463.7 197.0,464.0 196.5,464.5 196.0,464.9 195.5,465.2 195.0,465.6 194.5,466.0 194.0,466.4 193.5,466.8 193.0,467.2 192.5,467.6 192.0,468.0 191.5,468.4 191.0,468.8 190.5,469.2 190.0,469.7 189.5,470.2 189.0,470.6 188.5,471.1 188.0,471.6 187.5,472.1 187.0,472.6 186.5,473.1 186.0,473.6 185.5,474.1 185.0,474.7 184.5,475.2 184.0,475.8 183.5,476.3 183.0,476.9 182.5,477.4 182.0,478.0 181.5,478.5 181.0,479.1 180.5,479.7 180.0,480.2 179.5,480.8 179.0,481.4 178.5,482.1 178.0,482.7 177.5,483.3 177.0,484.0 176.5,484.7 176.0,485.4 175.5,486.1 175.0,486.9 174.5,487.7 174.0,488.5 173.5,489.4 173.0,490.3 172.5,491.2 172.0,492.2 171.5,493.3 171.0,494.6 170.5,495.8 170.0,497.2 169.5,498.5 169.0,500.0 168.5,501.4 168.0,502.7 167.5,503.9 167.0,505.1 166.5,506.3 166.0,507.7 165.5,509.3 165.0,511.2 164.5,513.3 164.0,515.4 163.5,517.5 163.0,519.6 162.5,521.6 162.0,523.8 161.5,526.1 161.0,528.5 160.5,531.1 160.0,533.8 159.5,536.5 159.0,539.2 158.5,541.8 158.0,544.4 157.5,546.9 157.0,549.3 156.5,551.6 156.0,554.0 155.5,556.3 155.0,558.7 154.5,561.3 154.0,564.0 153.5,565.5 153.0,566.4 152.5,566.7 152.0,566.5 151.5,565.9 151.0,564.6 150.5,562.1 150.0,556.0 149.5,550.2 149.0,546.0 148.5,541.3 148.0,536.5 147.5,531.8 147.0,528.1 146.5,525.1 146.0,522.3 145.5,519.7 145.0,517.4 144.5,515.3 144.0,513.5 143.5,511.6 143.0,509.6 142.5,507.6 142.0,505.6 141.5,503.7 141.0,501.9 140.5,500.2 140.0,498.6 139.5,497.2 139.0,495.9 138.5,494.6 138.0,493.3 137.5,492.0 137.0,490.8 136.5,489.5 136.0,488.3 135.5,487.1 135.0,485.9 134.5,484.6 134.0,483.3 133.5,482.2 133.0,481.1 132.5,480.0 132.0,479.0 131.5,478.0 131.0,477.0 130.5,476.1 130.0,475.1 129.5,474.2 129.0,473.4 128.5,472.5 128.0,471.6 127.5,470.7 127.0,469.9 126.5,469.1 126.0,468.3 125.5,467.5 125.0,466.7 124.5,465.9 124.0,465.1 123.5,464.3 123.0,463.5 122.5,462.7 122.0,462.0 121.5,461.3 121.0,460.6 120.5,459.9 120.0,459.1 119.5,458.4 119.0,457.7 118.5,457.0 118.0,456.3 117.5,455.7 117.0,455.1 116.5,454.5 116.0,454.0 115.5,453.5 115.0,452.9 114.5,452.3 114.0,451.8 113.5,451.2 113.0,450.7 112.5,450.1 112.0,449.6 111.5,449.1 111.0,448.6 110.5,448.1 110.0,447.5 109.5,447.0 109.0,446.5 108.5,446.0 108.0,445.5 107.5,445.0 107.0,444.5 106.5,444.0 106.0,443.5 105.5,443.1 105.0,442.6 104.5,442.1 104.0,441.6 103.5,441.0 103.0,440.6 102.5,440.2 102.0,439.7 101.5,439.3 101.0,438.8 100.5,438.3 100.0,437.8 99.5,437.2 99.0,436.8 98.5,436.4 98.0,436.0 97.5,435.5 97.0,435.0 96.5,434.6 96.0,434.1 95.5,433.5 95.0,433.1 94.5,432.8 94.0,432.3 93.5,431.8 93.0,431.4 92.5,431.0 92.0,430.6 91.5,430.1 91.0,429.6 90.5,429.2 90.0,428.8 89.5,428.4 89.0,427.9 88.5,427.4 88.0,427.0 87.5,426.6 87.0,426.2 86.5,425.8 86.0,425.4 85.5,424.9 85.0,424.4 84.5,423.9 84.0,423.5 83.5,423.1 83.0,422.6 82.5,422.1 82.0,421.5 81.5,421.1 81.0,420.7 80.5,420.2 80.0,419.7 79.5,419.1 79.0,418.6 78.5,418.2 78.0,417.7 77.5,417.2 77.0,416.7 76.5,416.1 76.0,415.6 75.5,415.1 75.0,414.6 74.5,414.0 74.0,413.5 73.5,413.0 73.0,412.3 72.5,411.9 72.0,411.3 71.5,410.7 71.0,410.2 70.5,409.6 70.0,409.2 69.5,408.5 69.0,408.1 68.5,407.5 68.0,407.0 67.5,406.5 67.0,405.9 66.5,405.4 66.0,404.7 65.5,404.2 65.0,403.6 64.5,402.8 64.0,402.3 63.5,401.8 63.0,401.0 62.5,400.5 62.0,399.9 61.5,399.4 61.0,398.9 60.5,398.2 60.0,397.8 59.5,397.2 59.0,396.8 58.5,396.3" fill="#b1b1b1"/>
</g>
<polyline clip-path="url(#c1)" points="58.3,18.7 58.6,19.1 59.1,19.6 59.6,20.3 60.2,20.9 60.8,21.6 61.3,22.2 61.8,22.7 62.3,23.3 62.8,23.8 63.3,24.3 63.8,24.8 64.3,25.4 64.8,25.9 65.3,26.3 65.8,26.8 66.3,27.3 66.8,27.8 67.3,28.2 67.8,28.7 68.3,29.2 68.8,29.6 69.3,30.0 69.8,30.5 70.3,30.9 70.8,31.3 71.3,31.7 71.8,32.2 72.3,32.6 72.8,32.9 73.3,33.3 73.8,33.7 74.3,34.1 74.8,34.5 75.3,34.9 75.8,35.2 76.3,35.6 76.8,35.9 77.3,36.3 77.8,36.6 78.3,37.0 78.8,37.3 79.3,37.6 79.8,38.0 80.3,38.3 80.8,38.6 81.3,38.9 81.8,39.3 82.3,39.6 82.8,39.9 83.3,40.2 83.8,40.5 84.3,40.8 84.8,41.1 85.3,41.4 85.8,41.6 86.3,41.9 86.8,42.2 87.3,42.5 87.8,42.8 88.3,43.0 88.8,43.3 89.3,43.6 89.8,43.9 90.3,44.1 90.8,44.4 91.3,44.6 91.8,44.9 92.3,45.2 92.8,45.4 93.3,45.7 93.8,45.9 94.3,46.2 94.8,46.5 95.3,46.7 95.8,47.0 96.3,47.2 96.8,47.5 97.3,47.7 97.8,48.0 98.3,48.2 98.8,48.5 99.3,48.7 99.8,49.0 100.3,49.2 100.8,49.4 101.2,49.6 101.6,49.8 102.0,50.0 102.6,50.3 103.3,50.7 104.2,51.2 105.1,51.8 106.2,52.5 107.4,53.2 108.6,53.9 110.0,54.7 111.5,55.5 113.1,56.5 114.8,57.4 116.5,58.4 118.3,59.4 120.0,60.3 121.7,61.2 123.3,62.1 125.0,63.0 126.7,63.9 128.3,64.8 130.0,65.6 131.7,66.4 133.3,67.2 135.0,68.0 136.7,68.7 138.3,69.5 140.0,70.3 141.7,71.1 143.3,71.9 145.0,72.8 146.7,73.6 148.3,74.4 150.0,75.2 151.6,76.0 153.1,76.7 154.6,77.4 156.3,78.1 158.1,78.9 160.2,79.9 162.7,81.0 165.4,82.3 168.4,83.6 171.5,85.0 174.5,86.4 177.5,87.8 180.4,89.1 183.4,90.5 186.4,91.9 189.3,93.2 192.1,94.6 194.7,95.8 197.1,97.0 199.4,98.1 201.6,99.1 203.7,100.1 205.8,101.2 207.9,102.2 210.0,103.2 212.0,104.3 214.0,105.3 216.0,106.3 218.2,107.4 220.5,108.5 223.0,109.7 225.6,110.9 228.4,112.2 231.2,113.5 234.0,114.8 236.8,116.1 239.6,117.4 242.5,118.8 245.4,120.2 248.2,121.6 251.1,123.0 254.0,124.4 256.8,125.8 259.7,127.2 262.5,128.6 265.4,130.0 268.2,131.3 271.0,132.5 273.8,133.7 276.7,134.8 279.6,135.8 282.4,136.8 285.1,137.8 287.6,138.6 289.9,139.4 292.1,140.1 294.1,140.7 296.1,141.3 298.0,141.8 300.0,142.2 302.0,142.6 304.0,142.9 306.0,143.1 308.0,143.3 310.0,143.5 312.0,143.6 314.0,143.7 316.0,143.8 318.0,143.9 320.0,143.9 322.0,143.9 324.0,143.8 326.0,143.7 328.0,143.5 330.0,143.3 332.0,143.0 334.0,142.7 336.0,142.2 338.0,141.6 340.0,140.9 342.0,140.0 344.0,139.2 346.0,138.3 348.0,137.6 350.0,137.0 352.0,136.4 354.0,135.8 356.0,135.2 358.0,134.6 360.0,134.0 362.0,133.3 364.1,132.5 366.2,131.7 368.2,130.9 370.2,130.2 372.0,129.5 373.7,128.9 375.2,128.4 376.7,127.9 378.1,127.4 379.5,126.9 381.0,126.3 382.7,125.7 384.5,124.9 386.3,124.2 388.0,123.5 389.5,122.9 390.5,122.5" fill="none" stroke="#ff0000" stroke-width="1.5" stroke-linejoin="round"/>
<polyline clip-path="url(#c2)" points="58.1,204.5 58.6,204.7 59.2,205.0 59.9,205.3 60.7,205.7 61.6,206.1 62.3,206.5 63.0,206.9 63.7,207.3 64.4,207.7 65.1,208.2 65.8,208.6 66.5,209.0 67.2,209.4 67.9,209.8 68.6,210.1 69.3,210.5 70.0,210.8 70.7,211.2 71.4,211.6 72.1,211.9 72.8,212.3 73.4,212.6 74.1,213.0 74.8,213.3 75.5,213.6 76.2,214.0 76.9,214.3 77.6,214.7 78.3,215.0 79.0,215.3 79.7,215.6 80.5,215.9 81.2,216.2 82.0,216.4 82.8,216.7 83.5,217.0 84.2,217.3 84.9,217.6 85.7,217.9 86.4,218.2 87.1,218.5 87.8,218.8 88.5,219.1 89.3,219.4 90.1,219.7 90.8,219.9 91.6,220.2 92.3,220.5 93.0,220.8 93.7,221.1 94.3,221.3 95.0,221.6 95.7,221.9 96.4,222.2 97.1,222.5 97.9,222.9 98.7,223.2 99.4,223.6 100.2,223.9 101.0,224.2 101.8,224.5 102.6,224.7 103.4,225.0 104.3,225.3 105.1,225.5 105.8,225.8 106.5,226.1 107.1,226.4 107.7,226.8 108.3,227.1 109.0,227.5 109.6,227.8 110.3,228.1 111.0,228.5 111.7,228.8 112.4,229.1 113.1,229.5 113.8,229.8 114.5,230.1 115.2,230.4 115.8,230.7 116.5,231.0 117.2,231.3 117.9,231.6 118.6,231.9 119.3,232.3 120.0,232.7 120.7,233.0 121.4,233.4 122.1,233.8 122.8,234.2 123.4,234.6 124.1,235.0 124.7,235.4 125.3,235.8 126.0,236.2 126.7,236.6 127.3,237.0 128.0,237.3 128.6,237.7 129.3,238.1 130.1,238.5 130.9,238.9 131.8,239.3 132.8,239.8 133.7,240.2 134.7,240.7 135.5,241.2 136.3,241.7 137.0,242.3 137.7,242.9 138.4,243.5 139.0,244.0 139.7,244.6 140.4,245.1 141.1,245.6 141.7,246.1 142.4,246.6 143.1,247.1 143.8,247.6 144.5,248.1 145.3,248.7 146.1,249.2 146.9,249.8 147.7,250.3 148.4,250.9 149.1,251.5 149.7,252.0 150.3,252.6 150.9,253.1 151.5,253.7 152.2,254.3 152.9,254.9 153.6,255.6 154.3,256.2 155.0,256.9 155.8,257.6 156.5,258.3 157.3,259.0 158.0,259.8 158.8,260.6 159.6,261.4 160.3,262.3 161.1,263.2 161.9,264.2 162.6,265.2 163.4,266.3 164.1,267.3 164.8,268.4 165.5,269.4 166.1,270.4 166.8,271.3 167.3,272.2 167.9,273.2 168.5,274.1 169.0,275.0 169.5,275.9 170.0,276.8 170.5,277.7 171.0,278.6 171.5,279.5 172.0,280.6 172.5,281.8 173.0,283.0 173.5,284.3 174.1,285.7 174.5,287.1 175.0,288.5 175.4,289.9 175.7,291.3 176.0,292.7 176.3,294.2 176.7,295.9 177.2,297.8 177.9,300.1 178.9,302.9 179.9,305.8 180.9,308.6 181.7,311.0 182.3,312.7" fill="none" stroke="#ff0000" stroke-width="1.0" stroke-linejoin="round"/>
<polyline clip-path="url(#c2)" points="182.3,312.7 182.6,311.6 182.9,310.1 183.3,308.3 183.8,306.4 184.2,304.6 184.6,303.0 184.9,301.6 185.3,300.3 185.6,299.1 185.9,297.9 186.2,296.7 186.5,295.5 186.8,294.3 187.0,293.1 187.2,292.0 187.4,290.8 187.7,289.6 188.0,288.3 188.4,286.9 188.9,285.3 189.5,283.7 190.0,282.1 190.6,280.6 191.1,279.2 191.6,278.0 192.0,277.0 192.4,276.1 192.9,275.2 193.4,274.2 194.1,273.1 194.9,271.8 195.8,270.4 196.9,269.0 197.9,267.5 199.1,266.0 200.2,264.7 201.4,263.4 202.6,262.2 203.9,261.0 205.2,259.9 206.5,258.8 207.8,257.8 209.1,256.9 210.4,256.0 211.7,255.2 212.9,254.4 214.2,253.7 215.5,253.0 216.8,252.3 218.0,251.7 219.3,251.1 220.6,250.6 221.8,250.0 223.1,249.5 224.4,249.0 225.6,248.4 226.9,247.9 228.2,247.4 229.4,246.9 230.7,246.4 232.0,245.9 233.3,245.4 234.6,244.8 235.8,244.3 237.1,243.8 238.3,243.4 239.4,243.0 240.5,242.7 241.5,242.4 242.6,242.1 243.7,241.7 245.0,241.4 246.4,241.1 247.8,240.7 249.2,240.4 250.9,240.0 252.7,239.6 254.7,239.1 257.0,238.5 259.6,237.8 262.4,237.1 265.2,236.4 268.1,235.7 271.0,235.0 273.9,234.4 276.8,233.8 279.8,233.3 282.8,232.8 285.8,232.3 288.7,231.8 291.6,231.3 294.4,230.9 297.3,230.5 300.1,230.1 303.0,229.7 305.8,229.3 308.6,228.9 311.5,228.6 314.3,228.2 317.1,227.9 320.0,227.5 322.8,227.2 325.7,226.9 328.5,226.5 331.4,226.2 334.3,225.9 337.1,225.6 340.0,225.3 342.8,225.0 345.7,224.7 348.5,224.4 351.3,224.1 354.2,223.9 357.0,223.6 359.8,223.3 362.7,223.1 365.5,222.8 368.4,222.6 371.2,222.3 374.0,222.1 377.0,221.8 380.1,221.5 383.3,221.3 386.2,221.0 388.7,220.8 390.5,220.6" fill="none" stroke="#ff0000" stroke-width="1.0" stroke-linejoin="round"/>
<polyline clip-path="url(#c3)" points="58.5,395.7 58.9,396.1 59.4,396.7 60.1,397.3 60.8,398.1 61.5,398.8 62.2,399.6 62.9,400.4 63.6,401.3 64.4,402.2 65.1,403.1 65.9,404.1 66.6,404.9 67.3,405.7 68.0,406.4 68.7,407.1 69.3,407.8 70.0,408.6 70.7,409.3 71.4,410.1 72.1,410.8 72.8,411.6 73.5,412.4 74.2,413.2 75.0,414.0 75.8,414.8 76.6,415.7 77.5,416.5 78.3,417.4 79.2,418.3 80.0,419.1 80.8,419.9 81.7,420.7 82.5,421.5 83.3,422.3 84.2,423.0 85.0,423.8 85.9,424.6 86.7,425.3 87.6,426.1 88.5,426.8 89.4,427.6 90.2,428.3 91.0,429.0 91.8,429.7 92.6,430.4 93.4,431.1 94.2,431.8 95.0,432.5 95.9,433.3 96.7,434.1 97.6,434.9 98.5,435.7 99.4,436.6 100.3,437.4 101.2,438.2 102.0,439.0 102.9,439.8 103.8,440.7 104.6,441.5 105.5,442.3 106.4,443.1 107.2,444.0 108.1,444.8 108.9,445.7 109.7,446.5 110.5,447.3 111.2,448.1 111.9,448.8 112.6,449.5 113.2,450.2 113.9,450.9 114.5,451.6 115.1,452.2 115.6,452.8 116.1,453.4 116.7,454.0 117.3,454.8 118.1,455.8 119.0,457.1 120.0,458.6 121.2,460.2 122.3,462.0 123.5,463.7 124.6,465.5 125.7,467.3 126.8,469.1 128.0,470.9 129.1,472.8 130.2,474.7 131.2,476.6 132.2,478.5 133.1,480.5 134.0,482.5 134.8,484.5 135.6,486.5 136.4,488.4 137.2,490.2 137.9,492.0 138.6,493.8 139.2,495.5 139.9,497.3 140.5,499.0 141.1,500.8 141.6,502.6 142.2,504.4 142.7,506.2 143.2,507.8 143.6,509.4 144.0,510.8 144.4,512.0 144.7,513.1 145.0,514.2 145.4,515.4 145.7,516.8 146.1,518.4 146.4,520.1 146.8,522.0 147.2,523.9 147.5,525.9 147.9,527.9 148.3,530.1 148.6,532.5 149.0,534.9 149.3,537.3 149.6,539.6 149.9,541.6 150.2,543.3 150.4,544.8 150.6,546.2 150.8,547.4 151.0,548.7 151.2,550.0 151.4,551.4 151.5,552.9 151.6,554.4 151.7,555.8 151.8,557.0 151.9,557.8" fill="none" stroke="#ff0000" stroke-width="1.25" stroke-linejoin="round"/>
<polyline clip-path="url(#c3)" points="151.9,557.8 152.0,557.4 152.1,556.9 152.2,556.3 152.3,555.5 152.5,554.6 152.7,553.5 153.0,552.2 153.3,550.6 153.7,548.9 154.1,547.0 154.5,545.3 154.8,543.6 155.1,542.0 155.4,540.5 155.7,539.0 155.9,537.6 156.2,536.1 156.5,534.5 156.8,532.9 157.1,531.3 157.4,529.6 157.7,527.9 158.1,526.3 158.4,524.6 158.8,522.9 159.1,521.3 159.5,519.6 159.9,518.0 160.3,516.3 160.7,514.8 161.1,513.3 161.4,511.8 161.7,510.4 162.1,509.0 162.4,507.7 162.8,506.5 163.2,505.4 163.5,504.5 163.9,503.7 164.3,502.8 164.7,501.8 165.2,500.6 165.8,499.1 166.4,497.5 167.0,495.7 167.7,493.9 168.5,492.1 169.2,490.5 170.0,489.0 170.8,487.6 171.6,486.2 172.5,484.9 173.4,483.6 174.3,482.3 175.2,481.1 176.2,479.9 177.2,478.7 178.3,477.5 179.3,476.4 180.4,475.2 181.5,474.0 182.7,472.8 183.9,471.6 185.1,470.4 186.3,469.2 187.5,468.1 188.6,467.1 189.7,466.2 190.8,465.3 192.0,464.4 193.2,463.5 194.6,462.5 196.2,461.4 197.9,460.1 199.7,458.8 201.6,457.6 203.4,456.4 205.2,455.3 206.9,454.4 208.6,453.6 210.3,452.8 211.9,452.1 213.6,451.4 215.3,450.7 217.0,450.0 218.7,449.3 220.4,448.6 222.1,447.9 223.8,447.3 225.5,446.7 227.0,446.1 228.4,445.6 229.7,445.2 231.2,444.7 232.9,444.2 235.0,443.6 237.6,442.9 240.6,442.2 243.9,441.5 247.3,440.8 250.6,440.0 253.6,439.3 256.4,438.6 259.0,437.9 261.6,437.2 264.1,436.6 266.7,435.9 269.5,435.3 272.5,434.7 275.5,434.1 278.7,433.5 281.8,432.9 285.0,432.3 288.0,431.8 290.9,431.3 293.8,430.8 296.6,430.3 299.4,429.8 302.2,429.4 305.0,429.0 307.8,428.6 310.6,428.3 313.4,427.9 316.3,427.6 319.1,427.3 322.0,427.0 325.0,426.7 328.0,426.4 331.0,426.1 334.0,425.7 337.0,425.4 340.0,425.1 342.9,424.8 345.7,424.5 348.6,424.1 351.4,423.8 354.2,423.5 357.0,423.1 359.8,422.7 362.7,422.4 365.5,422.0 368.4,421.6 371.2,421.2 374.0,420.8 377.0,420.3 380.1,419.8 383.3,419.3 386.2,418.7 388.7,418.3 390.5,418.0" fill="none" stroke="#ff0000" stroke-width="1.25" stroke-linejoin="round"/>
<circle cx="92.12" cy="44.10" r="1.65" fill="none" stroke="#008000" stroke-width="1.5"/>
<circle cx="96.39" cy="46.60" r="1.65" fill="none" stroke="#008000" stroke-width="1.5"/>
<circle cx="100.65" cy="48.70" r="1.65" fill="none" stroke="#008000" stroke-width="1.5"/>
<circle cx="104.91" cy="51.20" r="1.65" fill="none" stroke="#008000" stroke-width="1.5"/>
<circle cx="109.17" cy="53.70" r="1.65" fill="none" stroke="#008000" stroke-width="1.5"/>
<circle cx="113.44" cy="55.30" r="1.65" fill="none" stroke="#008000" stroke-width="1.5"/>
<circle cx="117.70" cy="56.80" r="1.65" fill="none" stroke="#008000" stroke-width="1.5"/>
<circle cx="121.96" cy="58.80" r="1.65" fill="none" stroke="#008000" stroke-width="1.5"/>
<circle cx="126.23" cy="61.10" r="1.65" fill="none" stroke="#008000" stroke-width="1.5"/>
<circle cx="130.49" cy="63.20" r="1.65" fill="none" stroke="#008000" stroke-width="1.5"/>
<circle cx="134.75" cy="66.00" r="1.65" fill="none" stroke="#008000" stroke-width="1.5"/>
<circle cx="139.01" cy="68.30" r="1.65" fill="none" stroke="#008000" stroke-width="1.5"/>
<circle cx="143.28" cy="70.80" r="1.65" fill="none" stroke="#008000" stroke-width="1.5"/>
<circle cx="147.54" cy="72.70" r="1.65" fill="none" stroke="#008000" stroke-width="1.5"/>
<circle cx="151.80" cy="74.70" r="1.65" fill="none" stroke="#008000" stroke-width="1.5"/>
<circle cx="156.06" cy="77.20" r="1.65" fill="none" stroke="#008000" stroke-width="1.5"/>
<circle cx="160.32" cy="79.60" r="1.65" fill="none" stroke="#008000" stroke-width="1.5"/>
<circle cx="164.59" cy="81.20" r="1.65" fill="none" stroke="#008000" stroke-width="1.5"/>
<circle cx="168.85" cy="83.30" r="1.65" fill="none" stroke="#008000" stroke-width="1.5"/>
<circle cx="173.11" cy="85.30" r="1.65" fill="none" stroke="#008000" stroke-width="1.5"/>
<circle cx="177.38" cy="87.30" r="1.65" fill="none" stroke="#008000" stroke-width="1.5"/>
<circle cx="181.64" cy="89.80" r="1.65" fill="none" stroke="#008000" stroke-width="1.5"/>
<circle cx="185.90" cy="91.40" r="1.65" fill="none" stroke="#008000" stroke-width="1.5"/>
<circle cx="190.16" cy="93.80" r="1.65" fill="none" stroke="#008000" stroke-width="1.5"/>
<circle cx="194.42" cy="95.50" r="1.65" fill="none" stroke="#008000" stroke-width="1.5"/>
<circle cx="198.69" cy="97.50" r="1.65" fill="none" stroke="#008000" stroke-width="1.5"/>
<circle cx="202.95" cy="99.90" r="1.65" fill="none" stroke="#008000" stroke-width="1.5"/>
<circle cx="207.21" cy="102.00" r="1.65" fill="none" stroke="#008000" stroke-width="1.5"/>
<circle cx="211.47" cy="104.00" r="1.65" fill="none" stroke="#008000" stroke-width="1.5"/>
<circle cx="215.74" cy="106.20" r="1.65" fill="none" stroke="#008000" stroke-width="1.5"/>
<circle cx="220.00" cy="108.20" r="1.65" fill="none" stroke="#008000" stroke-width="1.5"/>
<circle cx="237.05" cy="115.90" r="1.65" fill="none" stroke="#008000" stroke-width="1.5"/>
<circle cx="254.10" cy="122.50" r="1.65" fill="none" stroke="#008000" stroke-width="1.5"/>
<circle cx="271.15" cy="128.00" r="1.65" fill="none" stroke="#008000" stroke-width="1.5"/>
<circle cx="288.20" cy="131.20" r="1.65" fill="none" stroke="#008000" stroke-width="1.5"/>
<circle cx="305.25" cy="131.40" r="1.65" fill="none" stroke="#008000" stroke-width="1.5"/>
<circle cx="322.30" cy="130.00" r="1.65" fill="none" stroke="#008000" stroke-width="1.5"/>
<circle cx="339.35" cy="126.40" r="1.65" fill="none" stroke="#008000" stroke-width="1.5"/>
<circle cx="356.40" cy="121.20" r="1.65" fill="none" stroke="#008000" stroke-width="1.5"/>
<circle cx="373.45" cy="115.60" r="1.65" fill="none" stroke="#008000" stroke-width="1.5"/>
<circle cx="390.50" cy="109.80" r="1.65" fill="none" stroke="#008000" stroke-width="1.5"/>
<circle cx="62.29" cy="204.70" r="1.9" fill="none" stroke="#1a8a1a" stroke-width="1.0"/>
<circle cx="66.55" cy="207.90" r="1.9" fill="none" stroke="#1a8a1a" stroke-width="1.0"/>
<circle cx="70.81" cy="209.80" r="1.9" fill="none" stroke="#1a8a1a" stroke-width="1.0"/>
<circle cx="75.08" cy="211.90" r="1.9" fill="none" stroke="#1a8a1a" stroke-width="1.0"/>
<circle cx="79.34" cy="214.00" r="1.9" fill="none" stroke="#1a8a1a" stroke-width="1.0"/>
<circle cx="83.60" cy="216.30" r="1.9" fill="none" stroke="#1a8a1a" stroke-width="1.0"/>
<circle cx="87.86" cy="218.10" r="1.9" fill="none" stroke="#1a8a1a" stroke-width="1.0"/>
<circle cx="92.12" cy="219.80" r="1.9" fill="none" stroke="#1a8a1a" stroke-width="1.0"/>
<circle cx="96.39" cy="221.60" r="1.9" fill="none" stroke="#1a8a1a" stroke-width="1.0"/>
<circle cx="100.65" cy="223.60" r="1.9" fill="none" stroke="#1a8a1a" stroke-width="1.0"/>
<circle cx="104.91" cy="225.20" r="1.9" fill="none" stroke="#1a8a1a" stroke-width="1.0"/>
<circle cx="109.17" cy="227.30" r="1.9" fill="none" stroke="#1a8a1a" stroke-width="1.0"/>
<circle cx="113.44" cy="229.40" r="1.9" fill="none" stroke="#1a8a1a" stroke-width="1.0"/>
<circle cx="117.70" cy="231.10" r="1.9" fill="none" stroke="#1a8a1a" stroke-width="1.0"/>
<circle cx="121.96" cy="233.40" r="1.9" fill="none" stroke="#1a8a1a" stroke-width="1.0"/>
<circle cx="126.23" cy="236.00" r="1.9" fill="none" stroke="#1a8a1a" stroke-width="1.0"/>
<circle cx="130.49" cy="238.30" r="1.9" fill="none" stroke="#1a8a1a" stroke-width="1.0"/>
<circle cx="134.75" cy="240.60" r="1.9" fill="none" stroke="#1a8a1a" stroke-width="1.0"/>
<circle cx="139.01" cy="244.40" r="1.9" fill="none" stroke="#1a8a1a" stroke-width="1.0"/>
<circle cx="143.28" cy="247.40" r="1.9" fill="none" stroke="#1a8a1a" stroke-width="1.0"/>
<circle cx="147.54" cy="250.50" r="1.9" fill="none" stroke="#1a8a1a" stroke-width="1.0"/>
<circle cx="151.80" cy="254.30" r="1.9" fill="none" stroke="#1a8a1a" stroke-width="1.0"/>
<circle cx="156.06" cy="258.60" r="1.9" fill="none" stroke="#1a8a1a" stroke-width="1.0"/>
<circle cx="160.32" cy="263.50" r="1.9" fill="none" stroke="#1a8a1a" stroke-width="1.0"/>
<circle cx="164.59" cy="269.20" r="1.9" fill="none" stroke="#1a8a1a" stroke-width="1.0"/>
<circle cx="168.85" cy="274.60" r="1.9" fill="none" stroke="#1a8a1a" stroke-width="1.0"/>
<circle cx="173.11" cy="278.90" r="1.9" fill="none" stroke="#1a8a1a" stroke-width="1.0"/>
<circle cx="177.38" cy="280.30" r="1.9" fill="none" stroke="#1a8a1a" stroke-width="1.0"/>
<circle cx="181.64" cy="276.40" r="1.9" fill="none" stroke="#1a8a1a" stroke-width="1.0"/>
<circle cx="185.90" cy="270.90" r="1.9" fill="none" stroke="#1a8a1a" stroke-width="1.0"/>
<circle cx="190.16" cy="266.60" r="1.9" fill="none" stroke="#1a8a1a" stroke-width="1.0"/>
<circle cx="194.42" cy="262.20" r="1.9" fill="none" stroke="#1a8a1a" stroke-width="1.0"/>
<circle cx="198.69" cy="258.60" r="1.9" fill="none" stroke="#1a8a1a" stroke-width="1.0"/>
<circle cx="202.95" cy="255.20" r="1.9" fill="none" stroke="#1a8a1a" stroke-width="1.0"/>
<circle cx="207.21" cy="252.60" r="1.9" fill="none" stroke="#1a8a1a" stroke-width="1.0"/>
<circle cx="211.47" cy="250.10" r="1.9" fill="none" stroke="#1a8a1a" stroke-width="1.0"/>
<circle cx="215.74" cy="248.60" r="1.9" fill="none" stroke="#1a8a1a" stroke-width="1.0"/>
<circle cx="220.00" cy="246.80" r="1.9" fill="none" stroke="#1a8a1a" stroke-width="1.0"/>
<circle cx="237.05" cy="241.00" r="1.9" fill="none" stroke="#1a8a1a" stroke-width="1.0"/>
<circle cx="254.10" cy="236.60" r="1.9" fill="none" stroke="#1a8a1a" stroke-width="1.0"/>
<circle cx="271.15" cy="232.80" r="1.9" fill="none" stroke="#1a8a1a" stroke-width="1.0"/>
<circle cx="288.20" cy="230.10" r="1.9" fill="none" stroke="#1a8a1a" stroke-width="1.0"/>
<circle cx="305.25" cy="228.10" r="1.9" fill="none" stroke="#1a8a1a" stroke-width="1.0"/>
<circle cx="322.30" cy="226.30" r="1.9" fill="none" stroke="#1a8a1a" stroke-width="1.0"/>
<circle cx="339.35" cy="224.30" r="1.9" fill="none" stroke="#1a8a1a" stroke-width="1.0"/>
<circle cx="356.40" cy="223.10" r="1.9" fill="none" stroke="#1a8a1a" stroke-width="1.0"/>
<circle cx="373.45" cy="222.00" r="1.9" fill="none" stroke="#1a8a1a" stroke-width="1.0"/>
<circle cx="390.50" cy="220.80" r="1.9" fill="none" stroke="#1a8a1a" stroke-width="1.0"/>
<circle cx="58.02" cy="394.50" r="1.65" fill="none" stroke="#008000" stroke-width="1.5"/>
<circle cx="62.29" cy="399.60" r="1.65" fill="none" stroke="#008000" stroke-width="1.5"/>
<circle cx="66.55" cy="404.90" r="1.65" fill="none" stroke="#008000" stroke-width="1.5"/>
<circle cx="70.81" cy="409.30" r="1.65" fill="none" stroke="#008000" stroke-width="1.5"/>
<circle cx="75.08" cy="414.00" r="1.65" fill="none" stroke="#008000" stroke-width="1.5"/>
<circle cx="79.34" cy="418.90" r="1.65" fill="none" stroke="#008000" stroke-width="1.5"/>
<circle cx="83.60" cy="423.50" r="1.65" fill="none" stroke="#008000" stroke-width="1.5"/>
<circle cx="87.86" cy="428.00" r="1.65" fill="none" stroke="#008000" stroke-width="1.5"/>
<circle cx="92.12" cy="432.30" r="1.65" fill="none" stroke="#008000" stroke-width="1.5"/>
<circle cx="96.39" cy="436.30" r="1.65" fill="none" stroke="#008000" stroke-width="1.5"/>
<circle cx="100.65" cy="441.80" r="1.65" fill="none" stroke="#008000" stroke-width="1.5"/>
<circle cx="104.91" cy="446.90" r="1.65" fill="none" stroke="#008000" stroke-width="1.5"/>
<circle cx="109.17" cy="452.00" r="1.65" fill="none" stroke="#008000" stroke-width="1.5"/>
<circle cx="113.44" cy="457.00" r="1.65" fill="none" stroke="#008000" stroke-width="1.5"/>
<circle cx="117.70" cy="462.60" r="1.65" fill="none" stroke="#008000" stroke-width="1.5"/>
<circle cx="121.96" cy="470.10" r="1.65" fill="none" stroke="#008000" stroke-width="1.5"/>
<circle cx="126.23" cy="477.40" r="1.65" fill="none" stroke="#008000" stroke-width="1.5"/>
<circle cx="130.49" cy="485.90" r="1.65" fill="none" stroke="#008000" stroke-width="1.5"/>
<circle cx="134.75" cy="496.80" r="1.65" fill="none" stroke="#008000" stroke-width="1.5"/>
<circle cx="139.01" cy="507.60" r="1.65" fill="none" stroke="#008000" stroke-width="1.5"/>
<circle cx="143.28" cy="514.60" r="1.65" fill="none" stroke="#008000" stroke-width="1.5"/>
<circle cx="147.54" cy="510.50" r="1.65" fill="none" stroke="#008000" stroke-width="1.5"/>
<circle cx="151.80" cy="502.50" r="1.65" fill="none" stroke="#008000" stroke-width="1.5"/>
<circle cx="156.06" cy="493.40" r="1.65" fill="none" stroke="#008000" stroke-width="1.5"/>
<circle cx="160.32" cy="486.50" r="1.65" fill="none" stroke="#008000" stroke-width="1.5"/>
<circle cx="164.59" cy="481.30" r="1.65" fill="none" stroke="#008000" stroke-width="1.5"/>
<circle cx="168.85" cy="476.30" r="1.65" fill="none" stroke="#008000" stroke-width="1.5"/>
<circle cx="173.11" cy="471.70" r="1.65" fill="none" stroke="#008000" stroke-width="1.5"/>
<circle cx="177.38" cy="467.60" r="1.65" fill="none" stroke="#008000" stroke-width="1.5"/>
<circle cx="181.64" cy="464.80" r="1.65" fill="none" stroke="#008000" stroke-width="1.5"/>
<circle cx="185.90" cy="462.60" r="1.65" fill="none" stroke="#008000" stroke-width="1.5"/>
<circle cx="190.16" cy="459.80" r="1.65" fill="none" stroke="#008000" stroke-width="1.5"/>
<circle cx="194.42" cy="457.50" r="1.65" fill="none" stroke="#008000" stroke-width="1.5"/>
<circle cx="198.69" cy="455.20" r="1.65" fill="none" stroke="#008000" stroke-width="1.5"/>
<circle cx="202.95" cy="453.70" r="1.65" fill="none" stroke="#008000" stroke-width="1.5"/>
<circle cx="207.21" cy="451.10" r="1.65" fill="none" stroke="#008000" stroke-width="1.5"/>
<circle cx="211.47" cy="449.80" r="1.65" fill="none" stroke="#008000" stroke-width="1.5"/>
<circle cx="215.74" cy="448.60" r="1.65" fill="none" stroke="#008000" stroke-width="1.5"/>
<circle cx="220.00" cy="446.80" r="1.65" fill="none" stroke="#008000" stroke-width="1.5"/>
<circle cx="237.05" cy="441.70" r="1.65" fill="none" stroke="#008000" stroke-width="1.5"/>
<circle cx="254.10" cy="438.40" r="1.65" fill="none" stroke="#008000" stroke-width="1.5"/>
<circle cx="271.15" cy="434.90" r="1.65" fill="none" stroke="#008000" stroke-width="1.5"/>
<circle cx="288.20" cy="432.30" r="1.65" fill="none" stroke="#008000" stroke-width="1.5"/>
<circle cx="305.25" cy="430.40" r="1.65" fill="none" stroke="#008000" stroke-width="1.5"/>
<circle cx="322.30" cy="427.70" r="1.65" fill="none" stroke="#008000" stroke-width="1.5"/>
<circle cx="339.35" cy="426.10" r="1.65" fill="none" stroke="#008000" stroke-width="1.5"/>
<circle cx="356.40" cy="424.30" r="1.65" fill="none" stroke="#008000" stroke-width="1.5"/>
<circle cx="373.45" cy="422.40" r="1.65" fill="none" stroke="#008000" stroke-width="1.5"/>
<circle cx="390.50" cy="421.60" r="1.65" fill="none" stroke="#008000" stroke-width="1.5"/>
<polygon points="161.50,91.90 166.50,91.90 164.00,87.60" fill="#ff00ff"/>
<polygon points="175.00,104.50 180.00,104.50 177.50,100.20" fill="#ff00ff"/>
<polygon points="191.90,110.50 196.90,110.50 194.40,106.20" fill="#ff00ff"/>
<polygon points="217.80,126.90 222.80,126.90 220.30,122.60" fill="#ff00ff"/>
<polygon points="345.60,139.60 350.60,139.60 348.10,135.30" fill="#ff00ff"/>
<polygon points="388.60,123.80 393.60,123.80 391.10,119.50" fill="#ff00ff"/>
<polygon points="161.90,263.60 166.90,263.60 164.40,259.30" fill="#ff00ff"/>
<polygon points="175.40,265.20 180.40,265.20 177.90,260.90" fill="#ff00ff"/>
<polygon points="192.30,257.20 197.30,257.20 194.80,252.90" fill="#ff00ff"/>
<polygon points="218.50,245.90 223.50,245.90 221.00,241.60" fill="#ff00ff"/>
<polygon points="346.10,224.70 351.10,224.70 348.60,220.40" fill="#ff00ff"/>
<polygon points="388.90,222.90 393.90,222.90 391.40,218.60" fill="#ff00ff"/>
<polygon points="161.20,474.50 166.20,474.50 163.70,470.20" fill="#ff00ff"/>
<polygon points="174.70,461.70 179.70,461.70 177.20,457.40" fill="#ff00ff"/>
<polygon points="192.00,453.20 197.00,453.20 194.50,448.90" fill="#ff00ff"/>
<polygon points="217.80,443.30 222.80,443.30 220.30,439.00" fill="#ff00ff"/>
<polygon points="345.60,422.40 350.60,422.40 348.10,418.10" fill="#ff00ff"/>
<polygon points="388.10,419.30 393.10,419.30 390.60,415.00" fill="#ff00ff"/>
<g stroke="#757575" stroke-width="1" fill="none">
<rect x="49.5" y="4.5" width="341" height="574"/>
<line x1="49.5" y1="196.5" x2="390.5" y2="196.5"/>
<line x1="49.5" y1="388.5" x2="390.5" y2="388.5"/>
</g>
<line x1="49.5" y1="177.64" x2="51.5" y2="177.64" stroke="#666" stroke-width="1"/>
<line x1="388.5" y1="177.64" x2="390.5" y2="177.64" stroke="#666" stroke-width="1"/>
<line x1="49.5" y1="166.32" x2="51.5" y2="166.32" stroke="#666" stroke-width="1"/>
<line x1="388.5" y1="166.32" x2="390.5" y2="166.32" stroke="#666" stroke-width="1"/>
<line x1="49.5" y1="158.29" x2="51.5" y2="158.29" stroke="#666" stroke-width="1"/>
<line x1="388.5" y1="158.29" x2="390.5" y2="158.29" stroke="#666" stroke-width="1"/>
<line x1="49.5" y1="152.06" x2="51.5" y2="152.06" stroke="#666" stroke-width="1"/>
<line x1="388.5" y1="152.06" x2="390.5" y2="152.06" stroke="#666" stroke-width="1"/>
<line x1="49.5" y1="146.96" x2="51.5" y2="146.96" stroke="#666" stroke-width="1"/>
<line x1="388.5" y1="146.96" x2="390.5" y2="146.96" stroke="#666" stroke-width="1"/>
<line x1="49.5" y1="142.66" x2="51.5" y2="142.66" stroke="#666" stroke-width="1"/>
<line x1="388.5" y1="142.66" x2="390.5" y2="142.66" stroke="#666" stroke-width="1"/>
<line x1="49.5" y1="138.93" x2="51.5" y2="138.93" stroke="#666" stroke-width="1"/>
<line x1="388.5" y1="138.93" x2="390.5" y2="138.93" stroke="#666" stroke-width="1"/>
<line x1="49.5" y1="135.64" x2="51.5" y2="135.64" stroke="#666" stroke-width="1"/>
<line x1="388.5" y1="135.64" x2="390.5" y2="135.64" stroke="#666" stroke-width="1"/>
<line x1="49.5" y1="132.70" x2="53.0" y2="132.70" stroke="#666" stroke-width="1"/>
<line x1="387.0" y1="132.70" x2="390.5" y2="132.70" stroke="#666" stroke-width="1"/>
<line x1="49.5" y1="113.34" x2="51.5" y2="113.34" stroke="#666" stroke-width="1"/>
<line x1="388.5" y1="113.34" x2="390.5" y2="113.34" stroke="#666" stroke-width="1"/>
<line x1="49.5" y1="102.02" x2="51.5" y2="102.02" stroke="#666" stroke-width="1"/>
<line x1="388.5" y1="102.02" x2="390.5" y2="102.02" stroke="#666" stroke-width="1"/>
<line x1="49.5" y1="93.99" x2="51.5" y2="93.99" stroke="#666" stroke-width="1"/>
<line x1="388.5" y1="93.99" x2="390.5" y2="93.99" stroke="#666" stroke-width="1"/>
<line x1="49.5" y1="87.76" x2="51.5" y2="87.76" stroke="#666" stroke-width="1"/>
<line x1="388.5" y1="87.76" x2="390.5" y2="87.76" stroke="#666" stroke-width="1"/>
<line x1="49.5" y1="82.66" x2="51.5" y2="82.66" stroke="#666" stroke-width="1"/>
<line x1="388.5" y1="82.66" x2="390.5" y2="82.66" stroke="#666" stroke-width="1"/>
<line x1="49.5" y1="78.36" x2="51.5" y2="78.36" stroke="#666" stroke-width="1"/>
<line x1="388.5" y1="78.36" x2="390.5" y2="78.36" stroke="#666" stroke-width="1"/>
<line x1="49.5" y1="74.63" x2="51.5" y2="74.63" stroke="#666" stroke-width="1"/>
<line x1="388.5" y1="74.63" x2="390.5" y2="74.63" stroke="#666" stroke-width="1"/>
<line x1="49.5" y1="71.34" x2="51.5" y2="71.34" stroke="#666" stroke-width="1"/>
<line x1="388.5" y1="71.34" x2="390.5" y2="71.34" stroke="#666" stroke-width="1"/>
<line x1="49.5" y1="68.40" x2="53.0" y2="68.40" stroke="#666" stroke-width="1"/>
<line x1="387.0" y1="68.40" x2="390.5" y2="68.40" stroke="#666" stroke-width="1"/>
<line x1="49.5" y1="49.04" x2="51.5" y2="49.04" stroke="#666" stroke-width="1"/>
<line x1="388.5" y1="49.04" x2="390.5" y2="49.04" stroke="#666" stroke-width="1"/>
<line x1="49.5" y1="37.72" x2="51.5" y2="37.72" stroke="#666" stroke-width="1"/>
<line x1="388.5" y1="37.72" x2="390.5" y2="37.72" stroke="#666" stroke-width="1"/>
<line x1="49.5" y1="29.69" x2="51.5" y2="29.69" stroke="#666" stroke-width="1"/>
<line x1="388.5" y1="29.69" x2="390.5" y2="29.69" stroke="#666" stroke-width="1"/>
<line x1="49.5" y1="23.46" x2="51.5" y2="23.46" stroke="#666" stroke-width="1"/>
<line x1="388.5" y1="23.46" x2="390.5" y2="23.46" stroke="#666" stroke-width="1"/>
<line x1="49.5" y1="18.36" x2="51.5" y2="18.36" stroke="#666" stroke-width="1"/>
<line x1="388.5" y1="18.36" x2="390.5" y2="18.36" stroke="#666" stroke-width="1"/>
<line x1="49.5" y1="14.06" x2="51.5" y2="14.06" stroke="#666" stroke-width="1"/>
<line x1="388.5" y1="14.06" x2="390.5" y2="14.06" stroke="#666" stroke-width="1"/>
<line x1="49.5" y1="10.33" x2="51.5" y2="10.33" stroke="#666" stroke-width="1"/>
<line x1="388.5" y1="10.33" x2="390.5" y2="10.33" stroke="#666" stroke-width="1"/>
<line x1="49.5" y1="7.04" x2="51.5" y2="7.04" stroke="#666" stroke-width="1"/>
<line x1="388.5" y1="7.04" x2="390.5" y2="7.04" stroke="#666" stroke-width="1"/>
<line x1="49.5" y1="388.39" x2="51.5" y2="388.39" stroke="#666" stroke-width="1"/>
<line x1="388.5" y1="388.39" x2="390.5" y2="388.39" stroke="#666" stroke-width="1"/>
<line x1="49.5" y1="385.19" x2="51.5" y2="385.19" stroke="#666" stroke-width="1"/>
<line x1="388.5" y1="385.19" x2="390.5" y2="385.19" stroke="#666" stroke-width="1"/>
<line x1="49.5" y1="382.71" x2="51.5" y2="382.71" stroke="#666" stroke-width="1"/>
<line x1="388.5" y1="382.71" x2="390.5" y2="382.71" stroke="#666" stroke-width="1"/>
<line x1="49.5" y1="380.68" x2="51.5" y2="380.68" stroke="#666" stroke-width="1"/>
<line x1="388.5" y1="380.68" x2="390.5" y2="380.68" stroke="#666" stroke-width="1"/>
<line x1="49.5" y1="378.97" x2="51.5" y2="378.97" stroke="#666" stroke-width="1"/>
<line x1="388.5" y1="378.97" x2="390.5" y2="378.97" stroke="#666" stroke-width="1"/>
<line x1="49.5" y1="377.48" x2="51.5" y2="377.48" stroke="#666" stroke-width="1"/>
<line x1="388.5" y1="377.48" x2="390.5" y2="377.48" stroke="#666" stroke-width="1"/>
<line x1="49.5" y1="376.17" x2="51.5" y2="376.17" stroke="#666" stroke-width="1"/>
<line x1="388.5" y1="376.17" x2="390.5" y2="376.17" stroke="#666" stroke-width="1"/>
<line x1="49.5" y1="375.00" x2="53.0" y2="375.00" stroke="#666" stroke-width="1"/>
<line x1="387.0" y1="375.00" x2="390.5" y2="375.00" stroke="#666" stroke-width="1"/>
<line x1="49.5" y1="367.29" x2="51.5" y2="367.29" stroke="#666" stroke-width="1"/>
<line x1="388.5" y1="367.29" x2="390.5" y2="367.29" stroke="#666" stroke-width="1"/>
<line x1="49.5" y1="362.79" x2="51.5" y2="362.79" stroke="#666" stroke-width="1"/>
<line x1="388.5" y1="362.79" x2="390.5" y2="362.79" stroke="#666" stroke-width="1"/>
<line x1="49.5" y1="359.59" x2="51.5" y2="359.59" stroke="#666" stroke-width="1"/>
<line x1="388.5" y1="359.59" x2="390.5" y2="359.59" stroke="#666" stroke-width="1"/>
<line x1="49.5" y1="357.11" x2="51.5" y2="357.11" stroke="#666" stroke-width="1"/>
<line x1="388.5" y1="357.11" x2="390.5" y2="357.11" stroke="#666" stroke-width="1"/>
<line x1="49.5" y1="355.08" x2="51.5" y2="355.08" stroke="#666" stroke-width="1"/>
<line x1="388.5" y1="355.08" x2="390.5" y2="355.08" stroke="#666" stroke-width="1"/>
<line x1="49.5" y1="353.37" x2="51.5" y2="353.37" stroke="#666" stroke-width="1"/>
<line x1="388.5" y1="353.37" x2="390.5" y2="353.37" stroke="#666" stroke-width="1"/>
<line x1="49.5" y1="351.88" x2="51.5" y2="351.88" stroke="#666" stroke-width="1"/>
<line x1="388.5" y1="351.88" x2="390.5" y2="351.88" stroke="#666" stroke-width="1"/>
<line x1="49.5" y1="350.57" x2="51.5" y2="350.57" stroke="#666" stroke-width="1"/>
<line x1="388.5" y1="350.57" x2="390.5" y2="350.57" stroke="#666" stroke-width="1"/>
<line x1="49.5" y1="349.40" x2="53.0" y2="349.40" stroke="#666" stroke-width="1"/>
<line x1="387.0" y1="349.40" x2="390.5" y2="349.40" stroke="#666" stroke-width="1"/>
<line x1="49.5" y1="341.69" x2="51.5" y2="341.69" stroke="#666" stroke-width="1"/>
<line x1="388.5" y1="341.69" x2="390.5" y2="341.69" stroke="#666" stroke-width="1"/>
<line x1="49.5" y1="337.19" x2="51.5" y2="337.19" stroke="#666" stroke-width="1"/>
<line x1="388.5" y1="337.19" x2="390.5" y2="337.19" stroke="#666" stroke-width="1"/>
<line x1="49.5" y1="333.99" x2="51.5" y2="333.99" stroke="#666" stroke-width="1"/>
<line x1="388.5" y1="333.99" x2="390.5" y2="333.99" stroke="#666" stroke-width="1"/>
<line x1="49.5" y1="331.51" x2="51.5" y2="331.51" stroke="#666" stroke-width="1"/>
<line x1="388.5" y1="331.51" x2="390.5" y2="331.51" stroke="#666" stroke-width="1"/>
<line x1="49.5" y1="329.48" x2="51.5" y2="329.48" stroke="#666" stroke-width="1"/>
<line x1="388.5" y1="329.48" x2="390.5" y2="329.48" stroke="#666" stroke-width="1"/>
<line x1="49.5" y1="327.77" x2="51.5" y2="327.77" stroke="#666" stroke-width="1"/>
<line x1="388.5" y1="327.77" x2="390.5" y2="327.77" stroke="#666" stroke-width="1"/>
<line x1="49.5" y1="326.28" x2="51.5" y2="326.28" stroke="#666" stroke-width="1"/>
<line x1="388.5" y1="326.28" x2="390.5" y2="326.28" stroke="#666" stroke-width="1"/>
<line x1="49.5" y1="324.97" x2="51.5" y2="324.97" stroke="#666" stroke-width="1"/>
<line x1="388.5" y1="324.97" x2="390.5" y2="324.97" stroke="#666" stroke-width="1"/>
<line x1="49.5" y1="323.80" x2="53.0" y2="323.80" stroke="#666" stroke-width="1"/>
<line x1="387.0" y1="323.80" x2="390.5" y2="323.80" stroke="#666" stroke-width="1"/>
<line x1="49.5" y1="316.09" x2="51.5" y2="316.09" stroke="#666" stroke-width="1"/>
<line x1="388.5" y1="316.09" x2="390.5" y2="316.09" stroke="#666" stroke-width="1"/>
<line x1="49.5" y1="311.59" x2="51.5" y2="311.59" stroke="#666" stroke-width="1"/>
<line x1="388.5" y1="311.59" x2="390.5" y2="311.59" stroke="#666" stroke-width="1"/>
<line x1="49.5" y1="308.39" x2="51.5" y2="308.39" stroke="#666" stroke-width="1"/>
<line x1="388.5" y1="308.39" x2="390.5" y2="308.39" stroke="#666" stroke-width="1"/>
<line x1="49.5" y1="305.91" x2="51.5" y2="305.91" stroke="#666" stroke-width="1"/>
<line x1="388.5" y1="305.91" x2="390.5" y2="305.91" stroke="#666" stroke-width="1"/>
<line x1="49.5" y1="303.88" x2="51.5" y2="303.88" stroke="#666" stroke-width="1"/>
<line x1="388.5" y1="303.88" x2="390.5" y2="303.88" stroke="#666" stroke-width="1"/>
<line x1="49.5" y1="302.17" x2="51.5" y2="302.17" stroke="#666" stroke-width="1"/>
<line x1="388.5" y1="302.17" x2="390.5" y2="302.17" stroke="#666" stroke-width="1"/>
<line x1="49.5" y1="300.68" x2="51.5" y2="300.68" stroke="#666" stroke-width="1"/>
<line x1="388.5" y1="300.68" x2="390.5" y2="300.68" stroke="#666" stroke-width="1"/>
<line x1="49.5" y1="299.37" x2="51.5" y2="299.37" stroke="#666" stroke-width="1"/>
<line x1="388.5" y1="299.37" x2="390.5" y2="299.37" stroke="#666" stroke-width="1"/>
<line x1="49.5" y1="298.20" x2="53.0" y2="298.20" stroke="#666" stroke-width="1"/>
<line x1="387.0" y1="298.20" x2="390.5" y2="298.20" stroke="#666" stroke-width="1"/>
<line x1="49.5" y1="290.49" x2="51.5" y2="290.49" stroke="#666" stroke-width="1"/>
<line x1="388.5" y1="290.49" x2="390.5" y2="290.49" stroke="#666" stroke-width="1"/>
<line x1="49.5" y1="285.99" x2="51.5" y2="285.99" stroke="#666" stroke-width="1"/>
<line x1="388.5" y1="285.99" x2="390.5" y2="285.99" stroke="#666" stroke-width="1"/>
<line x1="49.5" y1="282.79" x2="51.5" y2="282.79" stroke="#666" stroke-width="1"/>
<line x1="388.5" y1="282.79" x2="390.5" y2="282.79" stroke="#666" stroke-width="1"/>
<line x1="49.5" y1="280.31" x2="51.5" y2="280.31" stroke="#666" stroke-width="1"/>
<line x1="388.5" y1="280.31" x2="390.5" y2="280.31" stroke="#666" stroke-width="1"/>
<line x1="49.5" y1="278.28" x2="51.5" y2="278.28" stroke="#666" stroke-width="1"/>
<line x1="388.5" y1="278.28" x2="390.5" y2="278.28" stroke="#666" stroke-width="1"/>
<line x1="49.5" y1="276.57" x2="51.5" y2="276.57" stroke="#666" stroke-width="1"/>
<line x1="388.5" y1="276.57" x2="390.5" y2="276.57" stroke="#666" stroke-width="1"/>
<line x1="49.5" y1="275.08" x2="51.5" y2="275.08" stroke="#666" stroke-width="1"/>
<line x1="388.5" y1="275.08" x2="390.5" y2="275.08" stroke="#666" stroke-width="1"/>
<line x1="49.5" y1="273.77" x2="51.5" y2="273.77" stroke="#666" stroke-width="1"/>
<line x1="388.5" y1="273.77" x2="390.5" y2="273.77" stroke="#666" stroke-width="1"/>
<line x1="49.5" y1="272.60" x2="53.0" y2="272.60" stroke="#666" stroke-width="1"/>
<line x1="387.0" y1="272.60" x2="390.5" y2="272.60" stroke="#666" stroke-width="1"/>
<line x1="49.5" y1="264.89" x2="51.5" y2="264.89" stroke="#666" stroke-width="1"/>
<line x1="388.5" y1="264.89" x2="390.5" y2="264.89" stroke="#666" stroke-width="1"/>
<line x1="49.5" y1="260.39" x2="51.5" y2="260.39" stroke="#666" stroke-width="1"/>
<line x1="388.5" y1="260.39" x2="390.5" y2="260.39" stroke="#666" stroke-width="1"/>
<line x1="49.5" y1="257.19" x2="51.5" y2="257.19" stroke="#666" stroke-width="1"/>
<line x1="388.5" y1="257.19" x2="390.5" y2="257.19" stroke="#666" stroke-width="1"/>
<line x1="49.5" y1="254.71" x2="51.5" y2="254.71" stroke="#666" stroke-width="1"/>
<line x1="388.5" y1="254.71" x2="390.5" y2="254.71" stroke="#666" stroke-width="1"/>
<line x1="49.5" y1="252.68" x2="51.5" y2="252.68" stroke="#666" stroke-width="1"/>
<line x1="388.5" y1="252.68" x2="390.5" y2="252.68" stroke="#666" stroke-width="1"/>
<line x1="49.5" y1="250.97" x2="51.5" y2="250.97" stroke="#666" stroke-width="1"/>
<line x1="388.5" y1="250.97" x2="390.5" y2="250.97" stroke="#666" stroke-width="1"/>
<line x1="49.5" y1="249.48" x2="51.5" y2="249.48" stroke="#666" stroke-width="1"/>
<line x1="388.5" y1="249.48" x2="390.5" y2="249.48" stroke="#666" stroke-width="1"/>
<line x1="49.5" y1="248.17" x2="51.5" y2="248.17" stroke="#666" stroke-width="1"/>
<line x1="388.5" y1="248.17" x2="390.5" y2="248.17" stroke="#666" stroke-width="1"/>
<line x1="49.5" y1="247.00" x2="53.0" y2="247.00" stroke="#666" stroke-width="1"/>
<line x1="387.0" y1="247.00" x2="390.5" y2="247.00" stroke="#666" stroke-width="1"/>
<line x1="49.5" y1="239.29" x2="51.5" y2="239.29" stroke="#666" stroke-width="1"/>
<line x1="388.5" y1="239.29" x2="390.5" y2="239.29" stroke="#666" stroke-width="1"/>
<line x1="49.5" y1="234.79" x2="51.5" y2="234.79" stroke="#666" stroke-width="1"/>
<line x1="388.5" y1="234.79" x2="390.5" y2="234.79" stroke="#666" stroke-width="1"/>
<line x1="49.5" y1="231.59" x2="51.5" y2="231.59" stroke="#666" stroke-width="1"/>
<line x1="388.5" y1="231.59" x2="390.5" y2="231.59" stroke="#666" stroke-width="1"/>
<line x1="49.5" y1="229.11" x2="51.5" y2="229.11" stroke="#666" stroke-width="1"/>
<line x1="388.5" y1="229.11" x2="390.5" y2="229.11" stroke="#666" stroke-width="1"/>
<line x1="49.5" y1="227.08" x2="51.5" y2="227.08" stroke="#666" stroke-width="1"/>
<line x1="388.5" y1="227.08" x2="390.5" y2="227.08" stroke="#666" stroke-width="1"/>
<line x1="49.5" y1="225.37" x2="51.5" y2="225.37" stroke="#666" stroke-width="1"/>
<line x1="388.5" y1="225.37" x2="390.5" y2="225.37" stroke="#666" stroke-width="1"/>
<line x1="49.5" y1="223.88" x2="51.5" y2="223.88" stroke="#666" stroke-width="1"/>
<line x1="388.5" y1="223.88" x2="390.5" y2="223.88" stroke="#666" stroke-width="1"/>
<line x1="49.5" y1="222.57" x2="51.5" y2="222.57" stroke="#666" stroke-width="1"/>
<line x1="388.5" y1="222.57" x2="390.5" y2="222.57" stroke="#666" stroke-width="1"/>
<line x1="49.5" y1="221.40" x2="53.0" y2="221.40" stroke="#666" stroke-width="1"/>
<line x1="387.0" y1="221.40" x2="390.5" y2="221.40" stroke="#666" stroke-width="1"/>
<line x1="49.5" y1="213.69" x2="51.5" y2="213.69" stroke="#666" stroke-width="1"/>
<line x1="388.5" y1="213.69" x2="390.5" y2="213.69" stroke="#666" stroke-width="1"/>
<line x1="49.5" y1="209.19" x2="51.5" y2="209.19" stroke="#666" stroke-width="1"/>
<line x1="388.5" y1="209.19" x2="390.5" y2="209.19" stroke="#666" stroke-width="1"/>
<line x1="49.5" y1="205.99" x2="51.5" y2="205.99" stroke="#666" stroke-width="1"/>
<line x1="388.5" y1="205.99" x2="390.5" y2="205.99" stroke="#666" stroke-width="1"/>
<line x1="49.5" y1="203.51" x2="51.5" y2="203.51" stroke="#666" stroke-width="1"/>
<line x1="388.5" y1="203.51" x2="390.5" y2="203.51" stroke="#666" stroke-width="1"/>
<line x1="49.5" y1="201.48" x2="51.5" y2="201.48" stroke="#666" stroke-width="1"/>
<line x1="388.5" y1="201.48" x2="390.5" y2="201.48" stroke="#666" stroke-width="1"/>
<line x1="49.5" y1="199.77" x2="51.5" y2="199.77" stroke="#666" stroke-width="1"/>
<line x1="388.5" y1="199.77" x2="390.5" y2="199.77" stroke="#666" stroke-width="1"/>
<line x1="49.5" y1="198.28" x2="51.5" y2="198.28" stroke="#666" stroke-width="1"/>
<line x1="388.5" y1="198.28" x2="390.5" y2="198.28" stroke="#666" stroke-width="1"/>
<line x1="49.5" y1="196.97" x2="51.5" y2="196.97" stroke="#666" stroke-width="1"/>
<line x1="388.5" y1="196.97" x2="390.5" y2="196.97" stroke="#666" stroke-width="1"/>
<line x1="49.5" y1="578.20" x2="51.5" y2="578.20" stroke="#666" stroke-width="1"/>
<line x1="388.5" y1="578.20" x2="390.5" y2="578.20" stroke="#666" stroke-width="1"/>
<line x1="49.5" y1="576.21" x2="51.5" y2="576.21" stroke="#666" stroke-width="1"/>
<line x1="388.5" y1="576.21" x2="390.5" y2="576.21" stroke="#666" stroke-width="1"/>
<line x1="49.5" y1="574.42" x2="53.0" y2="574.42" stroke="#666" stroke-width="1"/>
<line x1="387.0" y1="574.42" x2="390.5" y2="574.42" stroke="#666" stroke-width="1"/>
<line x1="49.5" y1="562.67" x2="51.5" y2="562.67" stroke="#666" stroke-width="1"/>
<line x1="388.5" y1="562.67" x2="390.5" y2="562.67" stroke="#666" stroke-width="1"/>
<line x1="49.5" y1="555.80" x2="51.5" y2="555.80" stroke="#666" stroke-width="1"/>
<line x1="388.5" y1="555.80" x2="390.5" y2="555.80" stroke="#666" stroke-width="1"/>
<line x1="49.5" y1="550.92" x2="51.5" y2="550.92" stroke="#666" stroke-width="1"/>
<line x1="388.5" y1="550.92" x2="390.5" y2="550.92" stroke="#666" stroke-width="1"/>
<line x1="49.5" y1="547.14" x2="51.5" y2="547.14" stroke="#666" stroke-width="1"/>
<line x1="388.5" y1="547.14" x2="390.5" y2="547.14" stroke="#666" stroke-width="1"/>
<line x1="49.5" y1="544.05" x2="51.5" y2="544.05" stroke="#666" stroke-width="1"/>
<line x1="388.5" y1="544.05" x2="390.5" y2="544.05" stroke="#666" stroke-width="1"/>
<line x1="49.5" y1="541.44" x2="51.5" y2="541.44" stroke="#666" stroke-width="1"/>
<line x1="388.5" y1="541.44" x2="390.5" y2="541.44" stroke="#666" stroke-width="1"/>
<line x1="49.5" y1="539.17" x2="51.5" y2="539.17" stroke="#666" stroke-width="1"/>
<line x1="388.5" y1="539.17" x2="390.5" y2="539.17" stroke="#666" stroke-width="1"/>
<line x1="49.5" y1="537.18" x2="51.5" y2="537.18" stroke="#666" stroke-width="1"/>
<line x1="388.5" y1="537.18" x2="390.5" y2="537.18" stroke="#666" stroke-width="1"/>
<line x1="49.5" y1="535.39" x2="53.0" y2="535.39" stroke="#666" stroke-width="1"/>
<line x1="387.0" y1="535.39" x2="390.5" y2="535.39" stroke="#666" stroke-width="1"/>
<line x1="49.5" y1="523.64" x2="51.5" y2="523.64" stroke="#666" stroke-width="1"/>
<line x1="388.5" y1="523.64" x2="390.5" y2="523.64" stroke="#666" stroke-width="1"/>
<line x1="49.5" y1="516.77" x2="51.5" y2="516.77" stroke="#666" stroke-width="1"/>
<line x1="388.5" y1="516.77" x2="390.5" y2="516.77" stroke="#666" stroke-width="1"/>
<line x1="49.5" y1="511.89" x2="51.5" y2="511.89" stroke="#666" stroke-width="1"/>
<line x1="388.5" y1="511.89" x2="390.5" y2="511.89" stroke="#666" stroke-width="1"/>
<line x1="49.5" y1="508.11" x2="51.5" y2="508.11" stroke="#666" stroke-width="1"/>
<line x1="388.5" y1="508.11" x2="390.5" y2="508.11" stroke="#666" stroke-width="1"/>
<line x1="49.5" y1="505.02" x2="51.5" y2="505.02" stroke="#666" stroke-width="1"/>
<line x1="388.5" y1="505.02" x2="390.5" y2="505.02" stroke="#666" stroke-width="1"/>
<line x1="49.5" y1="502.41" x2="51.5" y2="502.41" stroke="#666" stroke-width="1"/>
<line x1="388.5" y1="502.41" x2="390.5" y2="502.41" stroke="#666" stroke-width="1"/>
<line x1="49.5" y1="500.14" x2="51.5" y2="500.14" stroke="#666" stroke-width="1"/>
<line x1="388.5" y1="500.14" x2="390.5" y2="500.14" stroke="#666" stroke-width="1"/>
<line x1="49.5" y1="498.15" x2="51.5" y2="498.15" stroke="#666" stroke-width="1"/>
<line x1="388.5" y1="498.15" x2="390.5" y2="498.15" stroke="#666" stroke-width="1"/>
<line x1="49.5" y1="496.36" x2="53.0" y2="496.36" stroke="#666" stroke-width="1"/>
<line x1="387.0" y1="496.36" x2="390.5" y2="496.36" stroke="#666" stroke-width="1"/>
<line x1="49.5" y1="484.61" x2="51.5" y2="484.61" stroke="#666" stroke-width="1"/>
<line x1="388.5" y1="484.61" x2="390.5" y2="484.61" stroke="#666" stroke-width="1"/>
<line x1="49.5" y1="477.74" x2="51.5" y2="477.74" stroke="#666" stroke-width="1"/>
<line x1="388.5" y1="477.74" x2="390.5" y2="477.74" stroke="#666" stroke-width="1"/>
<line x1="49.5" y1="472.86" x2="51.5" y2="472.86" stroke="#666" stroke-width="1"/>
<line x1="388.5" y1="472.86" x2="390.5" y2="472.86" stroke="#666" stroke-width="1"/>
<line x1="49.5" y1="469.08" x2="51.5" y2="469.08" stroke="#666" stroke-width="1"/>
<line x1="388.5" y1="469.08" x2="390.5" y2="469.08" stroke="#666" stroke-width="1"/>
<line x1="49.5" y1="465.99" x2="51.5" y2="465.99" stroke="#666" stroke-width="1"/>
<line x1="388.5" y1="465.99" x2="390.5" y2="465.99" stroke="#666" stroke-width="1"/>
<line x1="49.5" y1="463.38" x2="51.5" y2="463.38" stroke="#666" stroke-width="1"/>
<line x1="388.5" y1="463.38" x2="390.5" y2="463.38" stroke="#666" stroke-width="1"/>
<line x1="49.5" y1="461.11" x2="51.5" y2="461.11" stroke="#666" stroke-width="1"/>
<line x1="388.5" y1="461.11" x2="390.5" y2="461.11" stroke="#666" stroke-width="1"/>
<line x1="49.5" y1="459.12" x2="51.5" y2="459.12" stroke="#666" stroke-width="1"/>
<line x1="388.5" y1="459.12" x2="390.5" y2="459.12" stroke="#666" stroke-width="1"/>
<line x1="49.5" y1="457.33" x2="53.0" y2="457.33" stroke="#666" stroke-width="1"/>
<line x1="387.0" y1="457.33" x2="390.5" y2="457.33" stroke="#666" stroke-width="1"/>
<line x1="49.5" y1="445.58" x2="51.5" y2="445.58" stroke="#666" stroke-width="1"/>
<line x1="388.5" y1="445.58" x2="390.5" y2="445.58" stroke="#666" stroke-width="1"/>
<line x1="49.5" y1="438.71" x2="51.5" y2="438.71" stroke="#666" stroke-width="1"/>
<line x1="388.5" y1="438.71" x2="390.5" y2="438.71" stroke="#666" stroke-width="1"/>
<line x1="49.5" y1="433.83" x2="51.5" y2="433.83" stroke="#666" stroke-width="1"/>
<line x1="388.5" y1="433.83" x2="390.5" y2="433.83" stroke="#666" stroke-width="1"/>
<line x1="49.5" y1="430.05" x2="51.5" y2="430.05" stroke="#666" stroke-width="1"/>
<line x1="388.5" y1="430.05" x2="390.5" y2="430.05" stroke="#666" stroke-width="1"/>
<line x1="49.5" y1="426.96" x2="51.5" y2="426.96" stroke="#666" stroke-width="1"/>
<line x1="388.5" y1="426.96" x2="390.5" y2="426.96" stroke="#666" stroke-width="1"/>
<line x1="49.5" y1="424.35" x2="51.5" y2="424.35" stroke="#666" stroke-width="1"/>
<line x1="388.5" y1="424.35" x2="390.5" y2="424.35" stroke="#666" stroke-width="1"/>
<line x1="49.5" y1="422.08" x2="51.5" y2="422.08" stroke="#666" stroke-width="1"/>
<line x1="388.5" y1="422.08" x2="390.5" y2="422.08" stroke="#666" stroke-width="1"/>
<line x1="49.5" y1="420.09" x2="51.5" y2="420.09" stroke="#666" stroke-width="1"/>
<line x1="388.5" y1="420.09" x2="390.5" y2="420.09" stroke="#666" stroke-width="1"/>
<line x1="49.5" y1="418.30" x2="53.0" y2="418.30" stroke="#666" stroke-width="1"/>
<line x1="387.0" y1="418.30" x2="390.5" y2="418.30" stroke="#666" stroke-width="1"/>
<line x1="49.5" y1="406.55" x2="51.5" y2="406.55" stroke="#666" stroke-width="1"/>
<line x1="388.5" y1="406.55" x2="390.5" y2="406.55" stroke="#666" stroke-width="1"/>
<line x1="49.5" y1="399.68" x2="51.5" y2="399.68" stroke="#666" stroke-width="1"/>
<line x1="388.5" y1="399.68" x2="390.5" y2="399.68" stroke="#666" stroke-width="1"/>
<line x1="49.5" y1="394.80" x2="51.5" y2="394.80" stroke="#666" stroke-width="1"/>
<line x1="388.5" y1="394.80" x2="390.5" y2="394.80" stroke="#666" stroke-width="1"/>
<line x1="49.5" y1="391.02" x2="51.5" y2="391.02" stroke="#666" stroke-width="1"/>
<line x1="388.5" y1="391.02" x2="390.5" y2="391.02" stroke="#666" stroke-width="1"/>
<line x1="134.75" y1="4.5" x2="134.75" y2="7.5" stroke="#999" stroke-width="1"/>
<line x1="134.75" y1="196.5" x2="134.75" y2="193.5" stroke="#999" stroke-width="1"/>
<line x1="220.00" y1="4.5" x2="220.00" y2="7.5" stroke="#999" stroke-width="1"/>
<line x1="220.00" y1="196.5" x2="220.00" y2="193.5" stroke="#999" stroke-width="1"/>
<line x1="305.25" y1="4.5" x2="305.25" y2="7.5" stroke="#999" stroke-width="1"/>
<line x1="305.25" y1="196.5" x2="305.25" y2="193.5" stroke="#999" stroke-width="1"/>
<line x1="134.75" y1="196.5" x2="134.75" y2="199.5" stroke="#999" stroke-width="1"/>
<line x1="134.75" y1="388.5" x2="134.75" y2="385.5" stroke="#999" stroke-width="1"/>
<line x1="220.00" y1="196.5" x2="220.00" y2="199.5" stroke="#999" stroke-width="1"/>
<line x1="220.00" y1="388.5" x2="220.00" y2="385.5" stroke="#999" stroke-width="1"/>
<line x1="305.25" y1="196.5" x2="305.25" y2="199.5" stroke="#999" stroke-width="1"/>
<line x1="305.25" y1="388.5" x2="305.25" y2="385.5" stroke="#999" stroke-width="1"/>
<line x1="134.75" y1="388.5" x2="134.75" y2="391.5" stroke="#999" stroke-width="1"/>
<line x1="134.75" y1="578.5" x2="134.75" y2="575.5" stroke="#999" stroke-width="1"/>
<line x1="220.00" y1="388.5" x2="220.00" y2="391.5" stroke="#999" stroke-width="1"/>
<line x1="220.00" y1="578.5" x2="220.00" y2="575.5" stroke="#999" stroke-width="1"/>
<line x1="305.25" y1="388.5" x2="305.25" y2="391.5" stroke="#999" stroke-width="1"/>
<line x1="305.25" y1="578.5" x2="305.25" y2="575.5" stroke="#999" stroke-width="1"/>
<text x="45.55" y="8.00" font-family="Liberation Sans, sans-serif" font-weight="bold" font-size="11.4" text-anchor="end" fill="#000">10</text>
<text x="44.8" y="72.30" font-family="Liberation Sans, sans-serif" font-weight="bold" font-size="11.4" text-anchor="end" fill="#000">1</text>
<text x="44.8" y="136.30" font-family="Liberation Sans, sans-serif" font-weight="bold" font-size="11.4" text-anchor="end" fill="#000">0.1</text>
<text x="44.9" y="225.30" font-family="Liberation Sans, sans-serif" font-weight="bold" font-size="11.4" text-anchor="end" fill="#000">1</text>
<text x="44.9" y="250.90" font-family="Liberation Sans, sans-serif" font-weight="bold" font-size="11.4" text-anchor="end" fill="#000">0.1</text>
<text x="46.4" y="276.50" font-family="Liberation Sans, sans-serif" font-weight="bold" font-size="11.4" text-anchor="end" fill="#000">1E-2</text>
<text x="46.4" y="302.10" font-family="Liberation Sans, sans-serif" font-weight="bold" font-size="11.4" text-anchor="end" fill="#000">1E-3</text>
<text x="46.4" y="327.70" font-family="Liberation Sans, sans-serif" font-weight="bold" font-size="11.4" text-anchor="end" fill="#000">1E-4</text>
<text x="46.4" y="353.30" font-family="Liberation Sans, sans-serif" font-weight="bold" font-size="11.4" text-anchor="end" fill="#000">1E-5</text>
<text x="46.4" y="378.90" font-family="Liberation Sans, sans-serif" font-weight="bold" font-size="11.4" text-anchor="end" fill="#000">1E-6</text>
<text x="44.9" y="422.20" font-family="Liberation Sans, sans-serif" font-weight="bold" font-size="11.4" text-anchor="end" fill="#000">1</text>
<text x="44.9" y="461.23" font-family="Liberation Sans, sans-serif" font-weight="bold" font-size="11.4" text-anchor="end" fill="#000">0.1</text>
<text x="46.4" y="500.26" font-family="Liberation Sans, sans-serif" font-weight="bold" font-size="11.4" text-anchor="end" fill="#000">1E-2</text>
<text x="46.4" y="539.29" font-family="Liberation Sans, sans-serif" font-weight="bold" font-size="11.4" text-anchor="end" fill="#000">1E-3</text>
<text x="46.4" y="578.32" font-family="Liberation Sans, sans-serif" font-weight="bold" font-size="11.4" text-anchor="end" fill="#000">1E-4</text>
<text x="49.50" y="590.5" font-family="Liberation Sans, sans-serif" font-weight="bold" font-size="11.2" text-anchor="middle">0</text>
<text x="134.75" y="590.5" font-family="Liberation Sans, sans-serif" font-weight="bold" font-size="11.2" text-anchor="middle">0.5</text>
<text x="220.00" y="590.5" font-family="Liberation Sans, sans-serif" font-weight="bold" font-size="11.2" text-anchor="middle">1</text>
<text x="305.25" y="590.5" font-family="Liberation Sans, sans-serif" font-weight="bold" font-size="11.2" text-anchor="middle">1.5</text>
<text x="390.50" y="590.5" font-family="Liberation Sans, sans-serif" font-weight="bold" font-size="11.2" text-anchor="middle">2</text>
<text x="220" y="607.6" font-family="Liberation Sans, sans-serif" font-weight="bold" font-size="12.9" text-anchor="middle">Electron energy (eV)</text>
<g transform="translate(14.2,153.60) rotate(-90)" font-family="Liberation Sans, sans-serif" font-weight="bold"><text x="-0.86" y="0" font-size="12.8">DCS (10</text><text x="51.4" y="-6.4" font-size="8.6">-20</text><text x="63.4" y="0" font-size="12.8">m</text><text x="74.6" y="-6.4" font-size="9">2</text><text x="80.6" y="0" font-size="12.8">sr</text><text x="92.8" y="-6.4" font-size="8.6">-1</text><text x="102.2" y="0" font-size="12.8">)</text></g>
<g transform="translate(14.2,345.00) rotate(-90)" font-family="Liberation Sans, sans-serif" font-weight="bold"><text x="-0.86" y="0" font-size="12.8">DCS (10</text><text x="51.4" y="-6.4" font-size="8.6">-20</text><text x="63.4" y="0" font-size="12.8">m</text><text x="74.6" y="-6.4" font-size="9">2</text><text x="80.6" y="0" font-size="12.8">sr</text><text x="92.8" y="-6.4" font-size="8.6">-1</text><text x="102.2" y="0" font-size="12.8">)</text></g>
<g transform="translate(14.2,535.90) rotate(-90)" font-family="Liberation Sans, sans-serif" font-weight="bold"><text x="-0.86" y="0" font-size="12.8">DCS (10</text><text x="51.4" y="-6.4" font-size="8.6">-20</text><text x="63.4" y="0" font-size="12.8">m</text><text x="74.6" y="-6.4" font-size="9">2</text><text x="80.6" y="0" font-size="12.8">sr</text><text x="92.8" y="-6.4" font-size="8.6">-1</text><text x="102.2" y="0" font-size="12.8">)</text></g>
<text x="273.55" y="45.37" font-family="Liberation Serif, serif" font-style="italic" font-size="13.3">&#952;</text>
<text x="283.17" y="45.36" font-family="Liberation Sans, sans-serif" font-weight="bold" font-size="12.8">=</text>
<text x="294.71" y="45.36" font-family="Liberation Sans, sans-serif" font-weight="bold" font-size="12.8">30</text>
<ellipse cx="311.95" cy="38.20" rx="2.5" ry="2.45" fill="none" stroke="#000" stroke-width="1.3"/>
<text x="287.85" y="313.37" font-family="Liberation Serif, serif" font-style="italic" font-size="13.3">&#952;</text>
<text x="297.47" y="313.36" font-family="Liberation Sans, sans-serif" font-weight="bold" font-size="12.8">=</text>
<text x="309.01" y="313.36" font-family="Liberation Sans, sans-serif" font-weight="bold" font-size="12.8">60</text>
<ellipse cx="326.25" cy="306.20" rx="2.5" ry="2.45" fill="none" stroke="#000" stroke-width="1.3"/>
<text x="296.45" y="512.37" font-family="Liberation Serif, serif" font-style="italic" font-size="13.3">&#952;</text>
<text x="306.07" y="512.36" font-family="Liberation Sans, sans-serif" font-weight="bold" font-size="12.8">=</text>
<text x="317.61" y="512.36" font-family="Liberation Sans, sans-serif" font-weight="bold" font-size="12.8">90</text>
<ellipse cx="334.85" cy="505.20" rx="2.5" ry="2.45" fill="none" stroke="#000" stroke-width="1.3"/>
<rect x="59.6" y="109.9" width="11.8" height="8.8" fill="#e4e4e4"/>
<rect x="59.6" y="121.0" width="11.8" height="8.8" fill="#d2d2d2"/>
<rect x="59.6" y="132.1" width="11.8" height="8.8" fill="#c0c0c0"/>
<rect x="59.6" y="143.0" width="11.8" height="8.8" fill="#aaaaaa"/>
<text x="73.0" y="116.8" font-family="Liberation Sans, sans-serif" font-weight="bold" font-size="10.5">50% credibility</text>
<text x="73.0" y="127.7" font-family="Liberation Sans, sans-serif" font-weight="bold" font-size="10.5">90% credibility</text>
<text x="73.0" y="138.6" font-family="Liberation Sans, sans-serif" font-weight="bold" font-size="10.5">95% credibility</text>
<text x="73.0" y="149.5" font-family="Liberation Sans, sans-serif" font-weight="bold" font-size="10.5">99% credibility</text>
<text x="73.0" y="160.4" font-family="Liberation Sans, sans-serif" font-weight="bold" font-size="10.5">MERT (Ferch et al.)</text>
<text x="73.0" y="171.3" font-family="Liberation Sans, sans-serif" font-weight="bold" font-size="10.5">Weyhreter et al. (1988)</text>
<text x="73.0" y="182.2" font-family="Liberation Sans, sans-serif" font-weight="bold" font-size="10.5">Gibson et al. (1998)</text>
<line x1="59.1" y1="158.1" x2="71.4" y2="158.1" stroke="#ff0000" stroke-width="1.5"/>
<circle cx="65.4" cy="168.9" r="1.65" fill="none" stroke="#008000" stroke-width="1.5"/>
<polygon points="62.90,182.50 67.90,182.50 65.40,178.20" fill="#ff00ff"/>
</svg>
</body></html>
